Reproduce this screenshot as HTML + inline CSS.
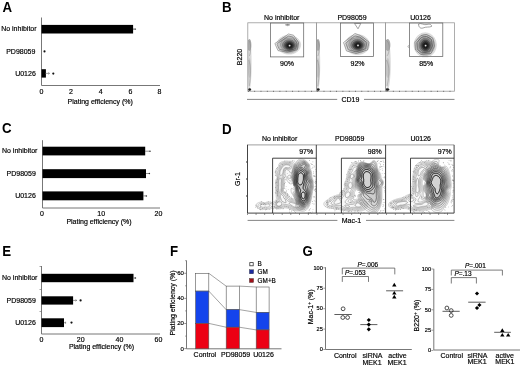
<!DOCTYPE html>
<html><head><meta charset="utf-8">
<style>
html,body{margin:0;padding:0;background:#fff;width:520px;height:365px;overflow:hidden}
svg{display:block;font-family:"Liberation Sans",sans-serif;will-change:transform}
.t{font-size:7px;fill:#000;stroke:#000;stroke-width:0.18px}
.pl{font-size:13.3px;font-weight:bold;fill:#000}
.ax{stroke:#777;stroke-width:1;fill:none}
</style></head><body>
<svg width="520" height="365" viewBox="0 0 520 365">
<defs>
<radialGradient id="gb" cx="50%" cy="50%" r="50%">
<stop offset="0" stop-color="#fff"/>
<stop offset="0.12" stop-color="#222"/>
<stop offset="0.4" stop-color="#333"/>
<stop offset="0.7" stop-color="#999"/>
<stop offset="1" stop-color="#eee" stop-opacity="0"/>
</radialGradient>
<radialGradient id="gd" cx="50%" cy="50%" r="50%">
<stop offset="0" stop-color="#888" stop-opacity="0.75"/>
<stop offset="0.6" stop-color="#999" stop-opacity="0.55"/>
<stop offset="1" stop-color="#ccc" stop-opacity="0"/>
</radialGradient>
<radialGradient id="gl" cx="50%" cy="50%" r="50%">
<stop offset="0" stop-color="#ccc" stop-opacity="0.6"/>
<stop offset="1" stop-color="#ddd" stop-opacity="0"/>
</radialGradient>
<clipPath id="cd1"><rect x="247" y="144.8" width="69.5" height="68.4"/></clipPath>
<clipPath id="cd2"><rect x="316.5" y="144.8" width="69" height="68.4"/></clipPath>
<clipPath id="cd3"><rect x="385.5" y="144.8" width="68.6" height="68.4"/></clipPath>
<clipPath id="cb1"><rect x="247.8" y="22.8" width="68.6" height="68.4"/></clipPath>
<clipPath id="cb2"><rect x="316.4" y="22.8" width="69.1" height="68.4"/></clipPath>
<clipPath id="cb3"><rect x="385.5" y="22.8" width="69" height="68.4"/></clipPath>
</defs>

<!-- ================= Panel A ================= -->
<text class="pl" transform="translate(2.6 11.5) scale(1 1.1)">A</text>
<g class="ax"><path d="M41.5 17.5V85.5H160"/></g>
<rect x="41.5" y="24.9" width="91.6" height="8.6" fill="#000"/>
<path d="M133 29.1H135.3" stroke="#333" stroke-width="0.8"/>
<circle cx="135.4" cy="29.1" r="0.7" fill="#333"/>
<circle cx="44.5" cy="51.4" r="1.05" fill="#111"/>
<rect x="41.5" y="69.2" width="4.4" height="8.4" fill="#000"/>
<path d="M45.5 73.4H49.4M48.4 72.5L49.5 73.4L48.4 74.3" stroke="#777" stroke-width="0.7" fill="none"/>
<circle cx="53.3" cy="73.6" r="1.1" fill="#111"/>
<text class="t" x="36.6" y="31.4" text-anchor="end">No inhibitor</text>
<text class="t" x="35.4" y="53.6" text-anchor="end">PD98059</text>
<text class="t" x="35.8" y="75.8" text-anchor="end">U0126</text>
<g class="t" text-anchor="middle">
<text x="41.5" y="94">0</text><text x="70.9" y="94">2</text><text x="100.7" y="94">4</text><text x="130.5" y="94">6</text><text x="159.4" y="94">8</text>
<text x="100.2" y="103.5">Plating efficiency (%)</text>
</g>

<!-- ================= Panel C ================= -->
<text class="pl" transform="translate(2 133) scale(1 1.1)">C</text>
<g class="ax"><path d="M42.5 140.2V208H160"/></g>
<rect x="42.5" y="146.7" width="102.7" height="8.7" fill="#000"/>
<path d="M145 151.2H149.8" stroke="#666" stroke-width="0.7"/><circle cx="150" cy="151.2" r="0.75" fill="#333"/>
<rect x="42.5" y="169.2" width="103.5" height="8.9" fill="#000"/>
<path d="M146 173.5H149.2" stroke="#666" stroke-width="0.7"/><circle cx="149.4" cy="173.5" r="0.75" fill="#333"/>
<rect x="42.5" y="191.4" width="100.9" height="8.9" fill="#000"/>
<path d="M143 195.9H146.2" stroke="#666" stroke-width="0.7"/><circle cx="146.4" cy="195.9" r="0.75" fill="#333"/>
<text class="t" x="37.4" y="153.3" text-anchor="end">No inhibitor</text>
<text class="t" x="35.8" y="175.7" text-anchor="end">PD98059</text>
<text class="t" x="35.8" y="197.9" text-anchor="end">U0126</text>
<g class="t" text-anchor="middle">
<text x="42" y="216.3">0</text><text x="101.2" y="216.3">10</text><text x="158.4" y="216.3">20</text>
<text x="99" y="223.5">Plating efficiency (%)</text>
</g>

<!-- ================= Panel E ================= -->
<text class="pl" transform="translate(2.3 255.5) scale(1 1.1)">E</text>
<g class="ax"><path d="M41.5 266V334H160"/></g>
<path d="M39.5 266.5H41.5M39.5 289.5H41.5M39.5 311.5H41.5" stroke="#666" stroke-width="0.6"/>
<rect x="41.5" y="273.8" width="92" height="8.4" fill="#000"/>
<path d="M133.5 278H135.6" stroke="#555" stroke-width="0.8"/><circle cx="135.4" cy="278" r="0.8" fill="#333"/>
<rect x="41.5" y="296.3" width="31.6" height="8.3" fill="#000"/>
<path d="M73 300.4H76.6M75.6 299.5L76.7 300.4L75.6 301.3" stroke="#666" stroke-width="0.7" fill="none"/>
<circle cx="80.6" cy="300.4" r="1.1" fill="#111"/>
<rect x="41.5" y="318.3" width="22.5" height="8.8" fill="#000"/>
<path d="M64 322.7H66M65.2 321.9L66.1 322.7L65.2 323.5" stroke="#666" stroke-width="0.7" fill="none"/>
<circle cx="71.5" cy="322.6" r="1.1" fill="#111"/>
<text class="t" x="37.4" y="280.4" text-anchor="end">No inhibitor</text>
<text class="t" x="35.8" y="302.7" text-anchor="end">PD98059</text>
<text class="t" x="35.8" y="324.7" text-anchor="end">U0126</text>
<g class="t" text-anchor="middle">
<text x="41.5" y="342.2">0</text><text x="80.7" y="342.2">20</text><text x="119.4" y="342.2">40</text><text x="158.5" y="342.2">60</text>
<text x="101.5" y="349.4">Plating efficiency (%)</text>
</g>

<!-- ================= Panel F ================= -->
<text class="pl" transform="translate(169.9 256) scale(1 1.1)">F</text>
<g class="ax"><path d="M186.5 260.5V348.8H281.5"/></g>
<path d="M184.3 348.6H186.5M185.2 336.1H186.5M184.3 323.5H186.5M185.2 310.9H186.5M184.3 298.4H186.5M185.2 285.8H186.5M184.3 273.3H186.5M185.2 260.7H186.5" stroke="#666" stroke-width="0.7"/>
<g class="t" text-anchor="end" style="font-size:6px">
<text x="183.9" y="350.6">0</text>
<text x="183.9" y="325.4">20</text>
<text x="183.9" y="300.3">40</text>
<text x="183.9" y="275.2">60</text>
</g>
<text class="t" transform="translate(174.6 303) rotate(-90)" text-anchor="middle">Plating efficiency (%)</text>
<!-- connecting lines -->
<g stroke="#666" stroke-width="0.6" fill="none">
<path d="M208.8 273.3L226.1 286.1M239.2 286.1L256.2 287"/>
<path d="M208.8 291.1L226.1 309.6M239.2 309.6L256.2 312.4"/>
<path d="M208.8 323.4L226.1 327.2M239.2 327.2L256.2 329.9"/>
</g>
<!-- bars -->
<g stroke="#555" stroke-width="0.6">
<rect x="195.6" y="273.3" width="13.2" height="17.8" fill="#fff"/>
<rect x="195.6" y="291.1" width="13.2" height="32.3" fill="#1444ec"/>
<rect x="195.6" y="323.4" width="13.2" height="25.4" fill="#ec0014"/>
<rect x="226.2" y="286.1" width="13.2" height="23.5" fill="#fff"/>
<rect x="226.2" y="309.6" width="13.2" height="17.6" fill="#1444ec"/>
<rect x="226.2" y="327.2" width="13.2" height="21.6" fill="#ec0014"/>
<rect x="256.2" y="287" width="12.9" height="25.4" fill="#fff"/>
<rect x="256.2" y="312.4" width="12.9" height="17.5" fill="#1444ec"/>
<rect x="256.2" y="329.9" width="12.9" height="18.9" fill="#ec0014"/>
</g>
<!-- legend -->
<rect x="249.8" y="262.6" width="3.4" height="3.2" fill="#fff" stroke="#333" stroke-width="0.8"/>
<rect x="249.4" y="269.8" width="4.2" height="4" fill="#1c2aa0" stroke="#333" stroke-width="0.4"/>
<rect x="249.4" y="278.5" width="4.2" height="4" fill="#a01018" stroke="#333" stroke-width="0.4"/>
<g class="t" style="font-size:6.4px">
<text x="257.6" y="266.3">B</text>
<text x="257.6" y="274.3">GM</text>
<text x="257.6" y="282.8">GM+B</text>
</g>
<g class="t" text-anchor="middle">
<text x="204.9" y="357.3">Control</text>
<text x="235.6" y="357.3">PD98059</text>
<text x="263.5" y="357.3">U0126</text>
</g>

<!-- ================= Panel G ================= -->
<text class="pl" transform="translate(302.5 255.8) scale(1 1.1)">G</text>
<!-- left plot -->
<g class="ax"><path d="M325.5 267.2V349.5H411.8"/></g>
<path d="M323.3 267.8H325.5M323.3 288.2H325.5M323.3 308.7H325.5M323.3 329.1H325.5M323.3 349.5H325.5" stroke="#777" stroke-width="0.7"/>
<g class="t" text-anchor="end" style="font-size:5.6px">
<text x="322.8" y="269.5">100</text><text x="322.8" y="289.8">75</text><text x="322.8" y="310.3">50</text><text x="322.8" y="330.7">25</text><text x="322.8" y="351.1">0</text>
</g>
<text class="t" transform="translate(313 306.8) rotate(-90)" text-anchor="middle">Mac-1<tspan dy="-2.2" style="font-size:4.5px">+</tspan><tspan dy="2.2"> (%)</tspan></text>
<g stroke="#444" stroke-width="0.7" fill="none">
<path d="M342.3 274.4V268.1H394.8V274.4"/>
<path d="M342.3 281.9V276.5H368.5V281.9"/>
</g>
<text class="t" style="font-size:6.5px" x="357.4" y="266.9"><tspan font-style="italic">P</tspan>=.006</text>
<text class="t" style="font-size:6.5px" x="344.9" y="274.8"><tspan font-style="italic">P</tspan>=.053</text>
<!-- data -->
<path d="M334.4 314.5H351.8M360.3 324.6H377.4M386.1 290.8H403.1" stroke="#333" stroke-width="0.8"/>
<g fill="none" stroke="#222" stroke-width="0.8">
<circle cx="343.1" cy="308.8" r="1.9"/><circle cx="342.8" cy="317.5" r="1.9"/><circle cx="347.6" cy="317.5" r="1.9"/>
</g>
<g fill="#000">
<path d="M368.8 317.9l2.1 2.1-2.1 2.1-2.1-2.1z"/><path d="M368.8 322.5l2.1 2.1-2.1 2.1-2.1-2.1z"/><path d="M368.8 327.2l2.1 2.1-2.1 2.1-2.1-2.1z"/>
<path d="M394.3 282.8l2.2 3.7h-4.4z"/><path d="M394.3 290.9l2.2 3.7h-4.4z"/><path d="M394.3 294.7l2.2 3.7h-4.4z"/>
</g>
<g class="t" text-anchor="middle">
<text x="345.2" y="358.2">Control</text>
<text x="372.5" y="358.2">siRNA</text><text x="372" y="364.6">MEK1</text>
<text x="397.4" y="358.2">active</text><text x="397" y="364.6">MEK1</text>
</g>
<!-- right plot -->
<g class="ax"><path d="M433.8 268.8V350H520"/></g>
<path d="M431.3 269H433.5M431.3 289.4H433.5M431.3 309.8H433.5M431.3 330.2H433.5M431.3 350.5H433.5" stroke="#777" stroke-width="0.7"/>
<g class="t" text-anchor="end" style="font-size:5.6px">
<text x="431" y="270.8">100</text><text x="431" y="291.1">75</text><text x="431" y="311.5">50</text><text x="431" y="331.9">25</text><text x="431" y="352.3">0</text>
</g>
<text class="t" transform="translate(419.4 315.5) rotate(-90)" text-anchor="middle">B220<tspan dy="-2.2" style="font-size:4.5px">+</tspan><tspan dy="2.2"> (%)</tspan></text>
<g stroke="#444" stroke-width="0.7" fill="none">
<path d="M451.3 275.5V270.1H502.4V275.5"/>
<path d="M451.3 283.5V277.6H476.4V283.5"/>
</g>
<text class="t" style="font-size:6.5px" x="465" y="268.3"><tspan font-style="italic">P</tspan>=.001</text>
<text class="t" style="font-size:6.5px" x="454.4" y="275.8"><tspan font-style="italic">P</tspan>=.13</text>
<path d="M442.5 311.3H459.7M468.2 302.2H485.6M494.2 332.3H510.9" stroke="#333" stroke-width="0.8"/>
<g fill="none" stroke="#222" stroke-width="0.8">
<circle cx="446.9" cy="308" r="1.9"/><circle cx="451.2" cy="310.6" r="1.9"/><circle cx="451.2" cy="315.4" r="1.9"/>
</g>
<g fill="#000">
<path d="M477 291.4l2.1 2.1-2.1 2.1-2.1-2.1z"/><path d="M479.4 302.9l2.1 2.1-2.1 2.1-2.1-2.1z"/><path d="M477 305.9l2.1 2.1-2.1 2.1-2.1-2.1z"/>
<path d="M502.3 328.3l2.2 3.7h-4.4z"/><path d="M502.3 332.9l2.2 3.7h-4.4z"/><path d="M508.2 332.9l2.2 3.7h-4.4z"/>
</g>
<g class="t" text-anchor="middle">
<text x="451.8" y="357.6">Control</text>
<text x="477.5" y="357.6">siRNA</text><text x="477" y="364.2">MEK1</text>
<text x="504.7" y="357.6">active</text><text x="504.9" y="364.2">MEK1</text>
</g>

<!-- ================= Panel B ================= -->
<text class="pl" transform="translate(221.9 11.6) scale(1 1.1)">B</text>
<g class="t" text-anchor="middle">
<text x="281.7" y="19.9">No inhibitor</text>
<text x="352" y="19.9">PD98059</text>
<text x="420.6" y="19.9">U0126</text>
<text x="287" y="66">90%</text>
<text x="357.5" y="66">92%</text>
<text x="426.2" y="66">85%</text>
<text x="350.4" y="102.2">CD19</text>
<text transform="translate(242.3 57) rotate(-90)">B220</text>
</g>
<path d="M247 99.4H337.2M364 99.4H454.5" stroke="#777" stroke-width="0.9"/>
<g clip-path="url(#cb1)">
<ellipse cx="249.4" cy="64" rx="2.2" ry="25" fill="#d8d8d8"/>
<ellipse cx="249.4" cy="45" rx="2.0" ry="6" fill="#aaa"/>
<ellipse cx="249.4" cy="68" rx="1.6" ry="10" fill="#c4c4c4"/>
<path fill="none" stroke="#888" stroke-width="0.45" d="M248.3 40C251.3 42 251.3 52 249.3 56M248.8 60C251.0 66 250.8 76 249.3 86"/>
<ellipse cx="249.6" cy="89.6" rx="1.5" ry="1.3" fill="#222"/>
</g>
<g clip-path="url(#cb2)">
<ellipse cx="318.0" cy="64" rx="2.2" ry="25" fill="#d8d8d8"/>
<ellipse cx="318.0" cy="45" rx="2.0" ry="6" fill="#aaa"/>
<ellipse cx="318.0" cy="68" rx="1.6" ry="10" fill="#c4c4c4"/>
<path fill="none" stroke="#888" stroke-width="0.45" d="M316.9 40C319.9 42 319.9 52 317.9 56M317.4 60C319.6 66 319.4 76 317.9 86"/>
<ellipse cx="318.2" cy="89.6" rx="1.5" ry="1.3" fill="#222"/>
</g>
<g clip-path="url(#cb3)">
<ellipse cx="387.7" cy="64" rx="3.0" ry="25" fill="#d8d8d8"/>
<ellipse cx="387.7" cy="45" rx="2.7" ry="6" fill="#aaa"/>
<ellipse cx="387.7" cy="68" rx="2.2" ry="10" fill="#c4c4c4"/>
<path fill="none" stroke="#888" stroke-width="0.45" d="M386.0 40C390.2 42 390.2 52 387.0 56M386.5 60C389.8 66 389.6 76 387.0 86"/>
<ellipse cx="387.3" cy="89.6" rx="2.0" ry="1.3" fill="#222"/>
</g>
<!-- boxes -->
<g fill="none" stroke="#999" stroke-width="0.8">
<rect x="247.8" y="22.8" width="68.6" height="68.4"/>
<rect x="316.4" y="22.8" width="69.1" height="68.4"/>
<rect x="385.5" y="22.8" width="69" height="68.4"/>
</g>
<path d="M248 91.3H454.5" stroke="#444" stroke-width="0.9" stroke-dasharray="0.8 5.5"/>
<g fill="none" stroke="#666" stroke-width="0.75">
<rect x="270.6" y="23" width="33.1" height="33.9"/>
<rect x="340.5" y="23" width="33.1" height="33.6"/>
<rect x="409.5" y="23" width="33.3" height="33.6"/>
</g>
<g fill="none" stroke="#555" stroke-width="0.5"><path d="M274.9 43.5L288.5 34L293.5 35.2L298.6 42.5L297.2 49.8L287 52.2L278 50.6Z"/><path d="M276.8 43.8L288.6 36L292.8 37L297 43L295.8 48.8L287 50.8L279.4 49.4Z"/></g>
<g><path fill="#000" stroke="#999999" stroke-width="0.30" fill-opacity="0.10" d="M291.0 54.0 290.5 54.1 290.0 54.1 289.5 54.1 289.0 54.2 288.5 54.1 288.0 54.1 287.5 54.1 287.0 54.0 286.8 54.0 286.2 53.9 285.8 53.8 285.5 53.7 285.0 53.6 284.7 53.5 284.2 53.3 284.0 53.2 283.5 53.1 283.2 52.9 282.8 52.8 282.5 52.6 282.2 52.5 281.9 52.2 281.5 52.0 281.2 51.8 281.0 51.7 280.8 51.5 280.5 51.2 280.2 51.0 279.9 50.8 279.6 50.5 279.4 50.2 279.2 50.0 279.0 49.8 278.8 49.5 278.5 49.1 278.3 48.8 278.1 48.5 278.0 48.2 277.8 47.8 277.6 47.5 277.5 47.2 277.3 46.8 277.2 46.4 277.2 46.0 277.1 45.5 277.0 45.0 277.0 44.5 277.0 44.0 277.1 43.5 277.2 43.0 277.2 42.6 277.4 42.2 277.5 41.8 277.6 41.5 277.8 41.2 278.0 40.8 278.2 40.5 278.3 40.2 278.5 40.0 278.8 39.6 279.0 39.3 279.2 39.0 279.5 38.8 279.8 38.5 280.0 38.3 280.2 38.1 280.5 37.9 280.8 37.7 281.1 37.5 281.4 37.2 281.8 37.1 282.0 36.9 282.3 36.8 282.8 36.6 283.0 36.4 283.5 36.2 283.8 36.1 284.2 36.0 284.5 35.9 285.0 35.8 285.2 35.7 285.8 35.6 286.2 35.5 286.5 35.5 287.0 35.4 287.5 35.4 288.0 35.3 288.5 35.3 289.0 35.3 289.5 35.3 290.0 35.4 290.5 35.4 290.9 35.5 291.2 35.6 291.8 35.7 292.1 35.8 292.5 35.8 293.0 36.0 293.2 36.1 293.7 36.2 294.0 36.4 294.3 36.5 294.8 36.7 295.0 36.8 295.4 37.0 295.8 37.2 296.0 37.4 296.2 37.5 296.6 37.8 296.9 38.0 297.2 38.2 297.5 38.5 297.8 38.7 298.0 39.0 298.2 39.2 298.5 39.5 298.7 39.8 298.9 40.0 299.1 40.2 299.2 40.5 299.5 40.9 299.7 41.2 299.8 41.5 300.0 41.9 300.1 42.2 300.2 42.6 300.4 43.0 300.5 43.5 300.5 43.8 300.6 44.2 300.6 44.8 300.6 45.2 300.5 45.8 300.5 46.0 300.4 46.5 300.3 47.0 300.2 47.2 300.0 47.8 299.9 48.0 299.8 48.3 299.5 48.8 299.4 49.0 299.2 49.2 299.0 49.6 298.8 49.9 298.5 50.2 298.2 50.5 298.0 50.7 297.8 51.0 297.5 51.2 297.2 51.4 297.0 51.6 296.8 51.8 296.4 52.0 296.0 52.2 295.8 52.4 295.5 52.6 295.1 52.8 294.8 52.9 294.5 53.0 294.0 53.2 293.8 53.3 293.3 53.5 293.0 53.6 292.5 53.7 292.2 53.8 291.8 53.9 291.2 54.0 291.0 54.0Z"/>
<path fill="#000" stroke="#828282" stroke-width="0.35" fill-opacity="0.12" d="M291.5 52.8 291.0 52.9 290.5 52.9 290.0 53.0 289.5 53.0 289.0 53.0 288.5 53.0 288.0 53.0 287.5 52.9 287.0 52.8 286.6 52.8 286.2 52.7 285.8 52.6 285.5 52.5 285.0 52.3 284.8 52.2 284.2 52.0 284.0 51.9 283.6 51.8 283.2 51.6 283.0 51.4 282.7 51.2 282.3 51.0 282.0 50.8 281.8 50.6 281.5 50.4 281.2 50.1 281.0 49.9 280.8 49.6 280.5 49.4 280.2 49.1 280.0 48.8 279.8 48.5 279.7 48.2 279.5 47.9 279.3 47.5 279.2 47.2 279.0 46.8 278.9 46.5 278.8 46.0 278.7 45.8 278.7 45.2 278.7 44.8 278.7 44.2 278.7 43.8 278.8 43.5 278.9 43.0 279.0 42.5 279.1 42.2 279.2 41.9 279.4 41.5 279.6 41.2 279.8 41.0 280.0 40.6 280.2 40.3 280.5 40.0 280.7 39.8 281.0 39.5 281.2 39.2 281.5 39.0 281.8 38.8 282.0 38.7 282.2 38.5 282.6 38.2 283.0 38.0 283.2 37.9 283.6 37.8 284.0 37.5 284.2 37.4 284.8 37.3 285.0 37.2 285.5 37.0 285.8 37.0 286.2 36.9 286.8 36.8 287.0 36.7 287.5 36.7 288.0 36.6 288.5 36.6 289.0 36.6 289.5 36.7 290.0 36.7 290.4 36.8 290.8 36.8 291.2 36.9 291.8 37.0 292.0 37.1 292.5 37.2 292.8 37.3 293.2 37.5 293.5 37.6 293.9 37.8 294.2 37.9 294.5 38.0 294.9 38.2 295.2 38.5 295.5 38.7 295.8 38.8 296.0 39.0 296.3 39.2 296.6 39.5 296.8 39.8 297.1 40.0 297.3 40.2 297.5 40.5 297.8 40.8 298.0 41.2 298.2 41.5 298.3 41.8 298.5 42.1 298.7 42.5 298.8 42.8 298.9 43.2 299.0 43.7 299.0 44.0 299.1 44.5 299.1 45.0 299.1 45.5 299.0 46.0 299.0 46.2 298.9 46.8 298.8 47.1 298.6 47.5 298.5 47.8 298.2 48.2 298.1 48.5 297.9 48.8 297.7 49.0 297.5 49.3 297.2 49.6 297.0 49.9 296.8 50.1 296.5 50.4 296.2 50.6 296.0 50.8 295.7 51.0 295.3 51.2 295.0 51.4 294.8 51.6 294.4 51.8 294.0 52.0 293.8 52.1 293.3 52.2 293.0 52.4 292.6 52.5 292.2 52.6 291.8 52.7 291.5 52.8Z"/>
<path fill="#000" stroke="#6b6b6b" stroke-width="0.40" fill-opacity="0.16" d="M290.0 51.8 289.5 51.8 289.0 51.8 288.5 51.8 288.2 51.7 287.8 51.7 287.2 51.6 286.8 51.5 286.5 51.4 286.0 51.3 285.8 51.2 285.3 51.0 285.0 50.9 284.7 50.8 284.2 50.5 284.0 50.4 283.8 50.2 283.5 50.0 283.1 49.8 282.8 49.5 282.5 49.2 282.3 49.0 282.1 48.8 281.9 48.5 281.7 48.2 281.5 48.0 281.2 47.6 281.1 47.2 281.0 47.0 280.8 46.5 280.7 46.2 280.6 45.8 280.5 45.2 280.5 44.8 280.5 44.2 280.6 43.8 280.7 43.2 280.8 43.0 281.0 42.5 281.1 42.2 281.2 42.0 281.5 41.6 281.7 41.2 282.0 41.0 282.2 40.8 282.4 40.5 282.7 40.2 283.0 40.0 283.2 39.8 283.5 39.6 283.8 39.5 284.2 39.2 284.5 39.1 284.8 39.0 285.2 38.8 285.5 38.7 286.0 38.5 286.2 38.4 286.8 38.3 287.1 38.2 287.5 38.2 288.0 38.1 288.5 38.1 289.0 38.1 289.5 38.1 290.0 38.2 290.5 38.2 290.8 38.3 291.2 38.4 291.7 38.5 292.0 38.6 292.5 38.8 292.8 38.9 293.1 39.0 293.5 39.2 293.8 39.3 294.0 39.5 294.4 39.8 294.8 40.0 295.0 40.2 295.2 40.4 295.5 40.6 295.8 40.9 296.0 41.2 296.2 41.5 296.5 41.8 296.6 42.0 296.8 42.2 297.0 42.7 297.1 43.0 297.2 43.4 297.3 43.8 297.4 44.2 297.5 44.8 297.5 45.2 297.4 45.8 297.4 46.2 297.2 46.7 297.1 47.0 297.0 47.3 296.8 47.8 296.7 48.0 296.5 48.2 296.2 48.6 296.0 48.9 295.8 49.2 295.5 49.4 295.2 49.7 295.0 49.9 294.8 50.1 294.5 50.2 294.1 50.5 293.8 50.7 293.5 50.8 293.1 51.0 292.8 51.1 292.5 51.2 292.0 51.4 291.6 51.5 291.2 51.6 290.8 51.7 290.2 51.7 290.0 51.8Z"/>
<path fill="#000" stroke="#545454" stroke-width="0.45" fill-opacity="0.22" d="M290.8 50.5 290.2 50.6 289.8 50.7 289.2 50.7 288.8 50.6 288.2 50.6 287.8 50.5 287.5 50.4 287.0 50.3 286.8 50.2 286.2 50.0 286.0 49.9 285.7 49.8 285.2 49.5 285.0 49.3 284.8 49.2 284.5 49.0 284.2 48.7 284.0 48.5 283.8 48.2 283.5 47.9 283.2 47.5 283.1 47.2 283.0 47.0 282.8 46.5 282.7 46.2 282.6 45.8 282.5 45.2 282.5 44.8 282.6 44.2 282.7 43.8 282.8 43.5 283.0 43.0 283.1 42.8 283.3 42.5 283.5 42.2 283.8 41.9 284.0 41.6 284.2 41.4 284.5 41.2 284.8 41.0 285.2 40.8 285.5 40.6 285.8 40.4 286.2 40.2 286.5 40.1 287.0 40.0 287.2 39.9 287.8 39.8 288.2 39.8 288.5 39.7 289.0 39.7 289.5 39.7 289.9 39.8 290.2 39.8 290.8 39.9 291.2 40.0 291.5 40.1 292.0 40.2 292.2 40.3 292.6 40.5 293.0 40.7 293.2 40.9 293.5 41.0 293.8 41.2 294.1 41.5 294.4 41.8 294.6 42.0 294.8 42.2 295.0 42.5 295.2 42.8 295.5 43.2 295.6 43.5 295.8 44.0 295.8 44.2 295.9 44.8 295.9 45.2 295.9 45.8 295.8 46.2 295.8 46.5 295.6 47.0 295.5 47.2 295.2 47.7 295.0 48.0 294.8 48.2 294.6 48.5 294.4 48.8 294.1 49.0 293.8 49.2 293.5 49.5 293.2 49.6 293.0 49.8 292.5 50.0 292.2 50.1 291.9 50.2 291.5 50.4 291.0 50.5 290.8 50.5Z"/>
<path fill="#000" stroke="#3d3d3d" stroke-width="0.50" fill-opacity="0.30" d="M290.8 49.6 290.2 49.6 289.8 49.7 289.2 49.7 288.8 49.6 288.2 49.6 288.0 49.5 287.5 49.4 287.2 49.2 286.8 49.0 286.5 48.9 286.2 48.8 285.9 48.5 285.6 48.2 285.3 48.0 285.1 47.8 284.9 47.5 284.8 47.2 284.5 46.8 284.4 46.5 284.3 46.0 284.2 45.8 284.2 45.2 284.2 44.9 284.3 44.5 284.5 44.0 284.6 43.8 284.8 43.4 285.0 43.1 285.2 42.8 285.5 42.5 285.8 42.3 286.0 42.1 286.2 42.0 286.6 41.8 287.0 41.6 287.2 41.5 287.8 41.3 288.0 41.2 288.5 41.2 289.0 41.1 289.5 41.1 290.0 41.1 290.5 41.2 290.8 41.2 291.2 41.4 291.6 41.5 292.0 41.7 292.2 41.8 292.6 42.0 292.9 42.2 293.2 42.5 293.5 42.7 293.7 43.0 293.9 43.2 294.1 43.5 294.2 43.8 294.4 44.2 294.5 44.5 294.6 45.0 294.6 45.5 294.6 46.0 294.5 46.4 294.4 46.8 294.2 47.0 294.0 47.5 293.8 47.8 293.6 48.0 293.3 48.2 293.0 48.5 292.8 48.7 292.5 48.9 292.2 49.0 291.8 49.2 291.5 49.3 291.0 49.5 290.8 49.6Z"/>
<path fill="#000" stroke="#262626" stroke-width="0.55" fill-opacity="0.38" d="M291.0 48.5 290.5 48.6 290.0 48.7 289.5 48.7 289.0 48.7 288.5 48.6 288.0 48.5 287.8 48.4 287.4 48.2 287.0 48.0 286.8 47.8 286.5 47.6 286.2 47.3 286.0 47.0 285.9 46.8 285.8 46.4 285.6 46.0 285.6 45.5 285.6 45.0 285.8 44.5 285.9 44.2 286.0 44.0 286.2 43.7 286.5 43.4 286.8 43.2 287.0 43.0 287.4 42.8 287.8 42.6 288.0 42.5 288.5 42.3 289.0 42.3 289.2 42.2 289.8 42.2 290.0 42.3 290.5 42.3 291.0 42.5 291.2 42.6 291.6 42.8 292.0 43.0 292.2 43.2 292.5 43.4 292.8 43.7 293.0 44.0 293.1 44.2 293.2 44.5 293.4 45.0 293.4 45.5 293.4 46.0 293.2 46.5 293.1 46.8 293.0 47.0 292.8 47.3 292.5 47.6 292.2 47.8 292.0 48.0 291.6 48.2 291.2 48.4 291.0 48.5Z"/>
<path fill="#000" stroke="#101010" stroke-width="0.60" fill-opacity="0.45" d="M290.5 47.5 290.0 47.6 289.5 47.7 289.0 47.6 288.6 47.5 288.2 47.4 288.0 47.2 287.7 47.0 287.4 46.8 287.2 46.5 287.0 46.0 287.0 45.8 287.0 45.3 287.1 45.0 287.2 44.6 287.5 44.2 287.8 44.0 288.0 43.8 288.2 43.7 288.8 43.5 289.0 43.5 289.5 43.4 290.0 43.4 290.3 43.5 290.8 43.7 291.0 43.8 291.3 44.0 291.6 44.2 291.8 44.5 292.0 44.9 292.1 45.2 292.1 45.8 292.0 46.2 291.8 46.5 291.7 46.8 291.4 47.0 291.1 47.2 290.8 47.4 290.5 47.5Z"/></g>
<circle cx="289.6" cy="45.6" r="0.9" fill="#fff" fill-opacity="0.9"/>
<g fill="none" stroke="#555" stroke-width="0.5"><path d="M343.6 42.5L355 33.5L360.5 35.5L369 42L367.5 50L356 53.5L346.5 51Z"/><path d="M345.8 43L355 35.8L360 37.2L366.8 42.5L365.8 48.8L356 51.8L348.2 49.8Z"/></g>
<g><path fill="#000" stroke="#999999" stroke-width="0.30" fill-opacity="0.10" d="M358.0 54.5 357.5 54.5 357.0 54.5 356.7 54.5 356.2 54.5 355.8 54.4 355.2 54.4 354.8 54.3 354.5 54.2 354.0 54.1 353.5 54.0 353.2 53.9 352.8 53.8 352.5 53.7 352.0 53.5 351.8 53.4 351.5 53.2 351.0 53.0 350.8 52.9 350.5 52.8 350.1 52.5 349.8 52.3 349.5 52.1 349.2 52.0 349.0 51.8 348.7 51.5 348.4 51.2 348.1 51.0 347.8 50.8 347.6 50.5 347.4 50.2 347.2 50.0 347.0 49.8 346.8 49.4 346.5 49.0 346.3 48.8 346.2 48.5 346.0 48.1 345.8 47.8 345.7 47.5 345.5 47.0 345.5 46.8 345.3 46.2 345.2 45.8 345.2 45.5 345.1 45.0 345.1 44.5 345.1 44.0 345.2 43.5 345.2 43.1 345.3 42.8 345.4 42.2 345.5 42.0 345.7 41.5 345.8 41.2 346.0 40.8 346.1 40.5 346.3 40.2 346.5 39.9 346.8 39.5 346.9 39.2 347.1 39.0 347.3 38.8 347.6 38.5 347.8 38.2 348.1 38.0 348.3 37.8 348.6 37.5 348.9 37.2 349.2 37.0 349.5 36.9 349.8 36.7 350.1 36.5 350.5 36.3 350.8 36.1 351.0 36.0 351.5 35.8 351.8 35.7 352.2 35.5 352.5 35.4 352.9 35.2 353.2 35.1 353.8 35.0 354.0 35.0 354.5 34.9 355.0 34.8 355.2 34.7 355.8 34.7 356.2 34.6 356.8 34.6 357.2 34.6 357.8 34.6 358.2 34.7 358.8 34.7 359.2 34.8 359.5 34.8 360.0 34.9 360.5 35.0 360.8 35.1 361.2 35.2 361.5 35.3 362.0 35.4 362.2 35.5 362.8 35.7 363.0 35.8 363.4 36.0 363.8 36.2 364.0 36.3 364.3 36.5 364.7 36.8 365.0 36.9 365.2 37.1 365.5 37.3 365.8 37.5 366.1 37.8 366.4 38.0 366.6 38.2 366.9 38.5 367.1 38.8 367.3 39.0 367.5 39.2 367.8 39.6 368.0 39.9 368.2 40.2 368.3 40.5 368.5 40.8 368.7 41.2 368.8 41.5 369.0 42.0 369.1 42.2 369.2 42.8 369.3 43.0 369.3 43.5 369.4 44.0 369.4 44.5 369.4 45.0 369.4 45.5 369.3 46.0 369.2 46.3 369.1 46.8 369.0 47.2 368.9 47.5 368.8 47.9 368.6 48.2 368.5 48.5 368.2 48.9 368.0 49.2 367.9 49.5 367.7 49.8 367.5 50.0 367.2 50.3 367.0 50.6 366.8 50.9 366.5 51.1 366.2 51.3 366.0 51.5 365.8 51.8 365.4 52.0 365.1 52.2 364.8 52.5 364.5 52.6 364.2 52.8 363.8 53.0 363.5 53.2 363.2 53.3 362.8 53.5 362.5 53.6 362.1 53.8 361.8 53.9 361.2 54.0 361.0 54.1 360.5 54.2 360.2 54.2 359.8 54.3 359.2 54.4 358.8 54.5 358.2 54.5 358.0 54.5Z"/>
<path fill="#000" stroke="#828282" stroke-width="0.35" fill-opacity="0.12" d="M358.0 53.3 357.5 53.3 357.0 53.3 356.7 53.2 356.2 53.2 355.8 53.2 355.2 53.1 354.8 53.0 354.5 52.9 354.0 52.8 353.8 52.7 353.2 52.6 353.0 52.5 352.5 52.3 352.2 52.2 351.9 52.0 351.5 51.8 351.2 51.6 351.0 51.5 350.7 51.2 350.3 51.0 350.0 50.8 349.8 50.6 349.5 50.3 349.2 50.1 349.0 49.8 348.8 49.6 348.5 49.3 348.3 49.0 348.1 48.8 348.0 48.5 347.8 48.1 347.6 47.8 347.4 47.5 347.2 47.0 347.2 46.8 347.0 46.2 347.0 46.0 346.9 45.5 346.8 45.0 346.8 44.5 346.8 44.0 346.9 43.5 347.0 43.0 347.0 42.8 347.2 42.2 347.3 42.0 347.5 41.5 347.6 41.2 347.8 41.0 348.0 40.6 348.2 40.2 348.4 40.0 348.6 39.8 348.8 39.5 349.1 39.2 349.3 39.0 349.6 38.8 349.9 38.5 350.2 38.2 350.5 38.0 350.8 37.9 351.0 37.7 351.4 37.5 351.8 37.3 352.0 37.2 352.4 37.0 352.8 36.8 353.0 36.7 353.5 36.6 353.8 36.5 354.2 36.4 354.8 36.3 355.0 36.2 355.5 36.1 356.0 36.1 356.5 36.0 357.0 36.0 357.5 36.0 358.0 36.0 358.5 36.1 359.0 36.1 359.5 36.2 359.8 36.3 360.2 36.4 360.8 36.5 361.0 36.6 361.5 36.7 361.8 36.8 362.2 37.0 362.5 37.1 362.8 37.3 363.2 37.5 363.5 37.7 363.8 37.8 364.0 38.0 364.4 38.2 364.7 38.5 365.0 38.8 365.2 39.0 365.5 39.2 365.7 39.5 366.0 39.8 366.2 40.0 366.4 40.2 366.5 40.5 366.8 40.8 367.0 41.2 367.1 41.5 367.2 41.8 367.4 42.2 367.5 42.5 367.7 43.0 367.8 43.4 367.8 43.8 367.8 44.2 367.9 44.8 367.8 45.2 367.8 45.8 367.7 46.0 367.6 46.5 367.5 46.9 367.4 47.2 367.2 47.6 367.1 48.0 366.9 48.2 366.8 48.6 366.5 48.9 366.3 49.2 366.1 49.5 365.9 49.8 365.6 50.0 365.4 50.2 365.1 50.5 364.8 50.8 364.5 51.0 364.2 51.2 364.0 51.4 363.8 51.5 363.4 51.8 363.0 52.0 362.8 52.1 362.4 52.2 362.0 52.4 361.8 52.5 361.2 52.7 361.0 52.8 360.5 52.9 360.1 53.0 359.8 53.1 359.2 53.1 358.8 53.2 358.2 53.2 358.0 53.3Z"/>
<path fill="#000" stroke="#6b6b6b" stroke-width="0.40" fill-opacity="0.16" d="M359.2 51.8 358.8 51.9 358.2 51.9 357.8 51.9 357.2 51.9 356.8 51.9 356.2 51.8 355.8 51.8 355.5 51.7 355.0 51.6 354.6 51.5 354.2 51.4 353.9 51.2 353.5 51.1 353.2 51.0 352.8 50.8 352.5 50.6 352.2 50.5 351.9 50.2 351.6 50.0 351.3 49.8 351.0 49.5 350.8 49.3 350.5 49.0 350.3 48.8 350.1 48.5 349.9 48.2 349.7 48.0 349.5 47.6 349.3 47.2 349.2 47.0 349.0 46.5 348.9 46.2 348.8 45.8 348.8 45.4 348.7 45.0 348.7 44.5 348.7 44.0 348.8 43.8 348.9 43.2 349.0 42.8 349.1 42.5 349.2 42.2 349.5 41.8 349.6 41.5 349.8 41.2 350.0 40.9 350.2 40.6 350.5 40.3 350.8 40.1 351.0 39.8 351.2 39.6 351.5 39.4 351.8 39.2 352.1 39.0 352.5 38.8 352.8 38.7 353.1 38.5 353.5 38.3 353.8 38.2 354.2 38.0 354.5 38.0 355.0 37.8 355.5 37.8 355.8 37.7 356.2 37.6 356.8 37.6 357.2 37.6 357.8 37.6 358.2 37.6 358.8 37.7 359.2 37.8 359.5 37.8 360.0 37.9 360.3 38.0 360.8 38.1 361.0 38.2 361.5 38.4 361.8 38.6 362.1 38.8 362.5 39.0 362.8 39.1 363.0 39.3 363.3 39.5 363.6 39.8 363.9 40.0 364.2 40.2 364.4 40.5 364.6 40.8 364.8 41.0 365.0 41.3 365.2 41.7 365.4 42.0 365.6 42.2 365.8 42.7 365.9 43.0 366.0 43.5 366.0 43.8 366.1 44.2 366.1 44.8 366.1 45.2 366.1 45.8 366.0 46.1 365.9 46.5 365.8 46.9 365.6 47.2 365.5 47.5 365.2 48.0 365.1 48.2 364.9 48.5 364.7 48.8 364.5 49.0 364.2 49.3 364.0 49.5 363.7 49.8 363.4 50.0 363.1 50.2 362.8 50.5 362.5 50.6 362.2 50.8 361.8 51.0 361.5 51.1 361.2 51.2 360.8 51.4 360.5 51.5 360.0 51.6 359.5 51.7 359.2 51.8Z"/>
<path fill="#000" stroke="#545454" stroke-width="0.45" fill-opacity="0.22" d="M359.2 50.5 358.8 50.6 358.2 50.6 357.8 50.6 357.2 50.6 356.8 50.6 356.2 50.5 356.0 50.5 355.5 50.3 355.2 50.2 354.8 50.1 354.5 50.0 354.0 49.8 353.8 49.6 353.5 49.4 353.2 49.2 352.9 49.0 352.6 48.8 352.3 48.5 352.1 48.2 351.9 48.0 351.7 47.8 351.5 47.4 351.3 47.0 351.2 46.8 351.0 46.3 350.9 46.0 350.8 45.5 350.8 45.0 350.8 44.5 350.9 44.0 351.0 43.5 351.1 43.2 351.2 42.9 351.4 42.5 351.6 42.2 351.8 42.0 352.0 41.7 352.2 41.4 352.5 41.2 352.8 40.9 353.0 40.8 353.4 40.5 353.8 40.3 354.0 40.1 354.3 40.0 354.8 39.8 355.0 39.7 355.5 39.6 355.8 39.5 356.2 39.4 356.8 39.4 357.2 39.3 357.8 39.3 358.2 39.4 358.8 39.4 359.2 39.5 359.5 39.6 360.0 39.7 360.2 39.8 360.8 40.0 361.0 40.1 361.3 40.2 361.7 40.5 362.0 40.7 362.2 40.9 362.5 41.1 362.8 41.3 363.0 41.5 363.2 41.8 363.5 42.2 363.7 42.5 363.9 42.8 364.0 43.0 364.2 43.5 364.3 43.8 364.4 44.2 364.5 44.8 364.5 45.2 364.4 45.8 364.3 46.2 364.2 46.5 364.0 47.0 363.9 47.2 363.8 47.6 363.5 47.9 363.3 48.2 363.0 48.5 362.8 48.8 362.5 49.0 362.2 49.2 362.0 49.4 361.8 49.5 361.4 49.8 361.0 49.9 360.8 50.1 360.2 50.2 360.0 50.3 359.5 50.5 359.2 50.5Z"/>
<path fill="#000" stroke="#3d3d3d" stroke-width="0.50" fill-opacity="0.30" d="M358.8 49.5 358.2 49.6 357.8 49.6 357.2 49.5 356.9 49.5 356.5 49.4 356.0 49.3 355.8 49.2 355.3 49.0 355.0 48.9 354.8 48.7 354.4 48.5 354.1 48.2 353.8 48.0 353.6 47.8 353.4 47.5 353.2 47.2 353.0 46.9 352.8 46.5 352.7 46.2 352.6 45.8 352.6 45.2 352.6 44.8 352.7 44.2 352.8 44.0 353.0 43.5 353.1 43.2 353.3 43.0 353.5 42.7 353.8 42.4 354.0 42.2 354.2 42.0 354.6 41.8 355.0 41.5 355.2 41.4 355.5 41.2 356.0 41.1 356.3 41.0 356.8 40.9 357.2 40.8 357.8 40.8 358.2 40.8 358.8 40.9 359.2 41.0 359.5 41.1 360.0 41.2 360.2 41.3 360.6 41.5 361.0 41.7 361.2 41.9 361.5 42.1 361.8 42.3 362.0 42.6 362.2 42.9 362.5 43.2 362.7 43.5 362.8 43.8 363.0 44.2 363.0 44.5 363.1 45.0 363.1 45.5 363.0 46.0 362.9 46.2 362.8 46.8 362.6 47.0 362.5 47.2 362.2 47.6 362.0 47.9 361.8 48.1 361.5 48.3 361.2 48.5 360.9 48.8 360.5 49.0 360.2 49.1 359.8 49.2 359.5 49.4 359.0 49.5 358.8 49.5Z"/>
<path fill="#000" stroke="#262626" stroke-width="0.55" fill-opacity="0.38" d="M358.8 48.5 358.2 48.6 357.8 48.6 357.2 48.5 357.0 48.5 356.5 48.4 356.2 48.2 355.8 48.0 355.5 47.9 355.2 47.7 355.0 47.5 354.7 47.2 354.5 47.0 354.2 46.5 354.1 46.2 354.0 45.8 354.0 45.5 354.0 45.0 354.0 44.8 354.2 44.2 354.3 44.0 354.5 43.6 354.8 43.3 355.0 43.1 355.2 42.9 355.5 42.7 355.8 42.5 356.2 42.3 356.5 42.2 357.0 42.1 357.5 42.0 358.0 42.0 358.5 42.0 359.0 42.1 359.4 42.2 359.8 42.4 360.0 42.5 360.4 42.8 360.7 43.0 361.0 43.2 361.2 43.5 361.4 43.8 361.5 44.0 361.7 44.5 361.8 44.8 361.9 45.2 361.8 45.8 361.8 46.1 361.6 46.5 361.5 46.8 361.2 47.1 361.0 47.4 360.8 47.6 360.5 47.8 360.2 48.0 359.8 48.2 359.5 48.3 359.0 48.5 358.8 48.5Z"/>
<path fill="#000" stroke="#101010" stroke-width="0.60" fill-opacity="0.45" d="M359.0 47.3 358.5 47.4 358.0 47.5 357.5 47.5 357.0 47.3 356.8 47.2 356.3 47.0 356.0 46.8 355.8 46.5 355.6 46.2 355.5 46.0 355.4 45.5 355.4 45.0 355.5 44.7 355.7 44.2 355.9 44.0 356.2 43.8 356.5 43.6 356.8 43.4 357.2 43.3 357.5 43.2 358.0 43.2 358.5 43.2 358.8 43.3 359.2 43.5 359.5 43.6 359.8 43.8 360.0 44.0 360.2 44.4 360.4 44.8 360.5 45.0 360.5 45.5 360.5 45.8 360.3 46.2 360.1 46.5 359.9 46.8 359.6 47.0 359.2 47.2 359.0 47.3Z"/></g>
<circle cx="358.0" cy="45.4" r="0.9" fill="#fff" fill-opacity="0.9"/>
<g fill="none" stroke="#555" stroke-width="0.5"><path d="M414.8 42L421 35.5L426.5 34.5L432.8 38L434.5 46L431 53.5L421 54.5L415.5 50Z"/><path d="M416.8 42.5L421.5 37.2L426.5 36.4L431.2 39.2L432.6 46L429.6 51.8L421.5 52.8L417.4 49.5Z"/></g>
<g><path fill="#000" stroke="#999999" stroke-width="0.30" fill-opacity="0.10" d="M428.0 56.8 427.5 56.8 427.0 56.8 426.5 56.8 426.0 56.8 425.5 56.8 425.0 56.8 424.5 56.8 424.0 56.8 423.5 56.8 423.0 56.8 422.5 56.8 422.2 56.7 421.8 56.5 421.5 56.5 421.0 56.2 420.8 56.1 420.5 56.0 420.0 55.8 419.8 55.6 419.5 55.4 419.2 55.2 418.9 55.0 418.6 54.8 418.3 54.5 418.0 54.2 417.8 54.0 417.5 53.8 417.3 53.5 417.1 53.2 416.9 53.0 416.7 52.8 416.5 52.5 416.2 52.1 416.0 51.8 415.9 51.5 415.7 51.2 415.5 50.8 415.3 50.5 415.2 50.2 415.0 49.8 414.9 49.5 414.8 49.0 414.7 48.8 414.6 48.2 414.5 48.0 414.4 47.5 414.3 47.0 414.2 46.6 414.2 46.2 414.2 45.8 414.2 45.2 414.2 44.8 414.2 44.2 414.2 43.8 414.2 43.4 414.3 43.0 414.4 42.5 414.5 42.0 414.6 41.8 414.7 41.2 414.8 41.0 414.9 40.5 415.0 40.2 415.2 39.8 415.4 39.5 415.5 39.2 415.7 38.8 415.9 38.5 416.0 38.2 416.2 37.9 416.5 37.5 416.7 37.2 416.9 37.0 417.1 36.8 417.3 36.5 417.5 36.2 417.8 36.0 418.0 35.8 418.3 35.5 418.6 35.2 418.9 35.0 419.2 34.8 419.5 34.6 419.8 34.4 420.0 34.2 420.5 34.0 420.8 33.9 421.0 33.7 421.5 33.5 421.8 33.4 422.2 33.3 422.5 33.2 423.0 33.1 423.4 33.0 423.8 32.9 424.2 32.9 424.8 32.8 425.2 32.8 425.8 32.8 426.2 32.9 426.8 33.0 427.0 33.0 427.5 33.1 428.0 33.2 428.2 33.3 428.8 33.5 429.0 33.6 429.4 33.8 429.8 33.9 430.0 34.0 430.4 34.2 430.8 34.5 431.0 34.7 431.2 34.8 431.5 35.0 431.8 35.2 432.1 35.5 432.4 35.8 432.6 36.0 432.9 36.2 433.1 36.5 433.3 36.8 433.5 37.0 433.8 37.3 434.0 37.6 434.2 38.0 434.4 38.2 434.5 38.5 434.8 38.9 434.9 39.2 435.1 39.5 435.2 39.9 435.4 40.2 435.5 40.6 435.7 41.0 435.8 41.3 435.9 41.8 436.0 42.2 436.0 42.5 436.1 43.0 436.2 43.5 436.2 44.0 436.3 44.2 436.3 44.8 436.3 45.2 436.3 45.8 436.2 46.0 436.2 46.5 436.1 47.0 436.0 47.5 436.0 47.8 435.9 48.2 435.8 48.7 435.7 49.0 435.5 49.5 435.4 49.8 435.2 50.1 435.1 50.5 435.0 50.8 434.8 51.2 434.6 51.5 434.4 51.8 434.2 52.0 434.0 52.4 433.8 52.7 433.6 53.0 433.4 53.2 433.1 53.5 432.9 53.8 432.7 54.0 432.4 54.2 432.1 54.5 431.8 54.8 431.5 55.0 431.2 55.2 431.0 55.4 430.8 55.5 430.4 55.8 430.0 56.0 429.8 56.1 429.4 56.2 429.0 56.4 428.8 56.5 428.2 56.7 428.0 56.8Z"/>
<path fill="#000" stroke="#828282" stroke-width="0.35" fill-opacity="0.12" d="M426.5 55.5 426.0 55.6 425.5 55.6 425.0 55.6 424.5 55.6 424.0 55.5 423.8 55.5 423.2 55.4 422.8 55.2 422.5 55.2 422.1 55.0 421.8 54.9 421.5 54.8 421.0 54.5 420.8 54.4 420.5 54.2 420.2 54.0 419.8 53.8 419.5 53.5 419.2 53.3 419.0 53.1 418.8 52.8 418.5 52.6 418.2 52.3 418.0 52.0 417.8 51.8 417.6 51.5 417.5 51.2 417.2 50.9 417.0 50.5 416.9 50.2 416.7 50.0 416.5 49.5 416.4 49.2 416.2 48.8 416.1 48.5 416.0 48.0 415.9 47.8 415.8 47.2 415.8 46.8 415.7 46.5 415.6 46.0 415.6 45.5 415.6 45.0 415.6 44.5 415.7 44.0 415.7 43.5 415.8 43.2 415.8 42.8 416.0 42.2 416.0 42.0 416.2 41.5 416.3 41.2 416.4 40.8 416.5 40.5 416.8 40.1 416.9 39.8 417.0 39.5 417.2 39.1 417.5 38.8 417.7 38.5 417.9 38.2 418.1 38.0 418.3 37.8 418.5 37.5 418.8 37.2 419.0 37.0 419.3 36.8 419.6 36.5 419.9 36.2 420.2 36.0 420.5 35.8 420.8 35.7 421.1 35.5 421.5 35.3 421.8 35.2 422.2 35.0 422.5 34.9 423.0 34.8 423.2 34.7 423.8 34.6 424.2 34.5 424.7 34.5 425.0 34.5 425.5 34.5 425.8 34.5 426.2 34.5 426.8 34.6 427.2 34.7 427.5 34.8 428.0 34.9 428.2 35.0 428.8 35.2 429.0 35.3 429.3 35.5 429.8 35.7 430.0 35.9 430.2 36.1 430.5 36.2 430.9 36.5 431.2 36.8 431.4 37.0 431.7 37.2 431.9 37.5 432.2 37.8 432.4 38.0 432.6 38.2 432.8 38.5 433.0 38.8 433.2 39.2 433.4 39.5 433.5 39.8 433.8 40.2 433.9 40.5 434.0 40.8 434.2 41.2 434.3 41.5 434.4 42.0 434.5 42.2 434.6 42.8 434.7 43.2 434.8 43.5 434.8 44.0 434.8 44.5 434.9 45.0 434.8 45.5 434.8 46.0 434.8 46.5 434.7 46.8 434.6 47.2 434.5 47.8 434.5 48.0 434.3 48.5 434.2 48.8 434.1 49.2 434.0 49.5 433.8 50.0 433.6 50.2 433.5 50.5 433.2 50.9 433.0 51.2 432.8 51.5 432.7 51.8 432.5 52.0 432.2 52.3 432.0 52.5 431.8 52.8 431.5 53.1 431.2 53.3 431.0 53.5 430.7 53.8 430.3 54.0 430.0 54.2 429.8 54.4 429.5 54.5 429.0 54.8 428.8 54.9 428.4 55.0 428.0 55.2 427.7 55.2 427.2 55.4 426.8 55.5 426.5 55.5Z"/>
<path fill="#000" stroke="#6b6b6b" stroke-width="0.40" fill-opacity="0.16" d="M426.8 53.8 426.2 53.9 425.8 53.9 425.2 53.9 424.8 53.9 424.2 53.9 423.8 53.8 423.5 53.7 423.0 53.5 422.8 53.5 422.2 53.3 422.0 53.1 421.8 53.0 421.3 52.8 421.0 52.5 420.8 52.3 420.5 52.1 420.2 51.9 420.0 51.7 419.8 51.4 419.5 51.2 419.2 50.9 419.0 50.5 418.8 50.2 418.6 50.0 418.5 49.8 418.2 49.3 418.1 49.0 418.0 48.7 417.8 48.2 417.7 48.0 417.6 47.5 417.5 47.2 417.4 46.8 417.3 46.2 417.3 45.8 417.3 45.2 417.3 44.8 417.3 44.2 417.4 43.8 417.4 43.2 417.5 43.0 417.6 42.5 417.8 42.1 417.9 41.8 418.0 41.4 418.2 41.0 418.3 40.8 418.5 40.4 418.8 40.0 418.9 39.8 419.1 39.5 419.3 39.2 419.5 39.0 419.8 38.7 420.0 38.5 420.3 38.2 420.6 38.0 420.9 37.8 421.2 37.5 421.5 37.3 421.8 37.2 422.2 37.0 422.5 36.9 422.8 36.8 423.2 36.6 423.6 36.5 424.0 36.4 424.5 36.4 425.0 36.3 425.5 36.3 426.0 36.4 426.5 36.4 426.9 36.5 427.2 36.6 427.7 36.8 428.0 36.9 428.3 37.0 428.8 37.2 429.0 37.3 429.3 37.5 429.6 37.8 430.0 38.0 430.2 38.2 430.5 38.5 430.8 38.7 431.0 39.0 431.2 39.2 431.4 39.5 431.6 39.8 431.8 40.0 432.0 40.4 432.2 40.8 432.3 41.0 432.5 41.4 432.6 41.8 432.8 42.1 432.9 42.5 433.0 42.9 433.1 43.2 433.2 43.8 433.2 44.2 433.2 44.8 433.3 45.0 433.2 45.4 433.2 45.8 433.2 46.2 433.1 46.8 433.0 47.2 433.0 47.5 432.8 48.0 432.7 48.2 432.5 48.8 432.4 49.0 432.2 49.4 432.1 49.8 431.9 50.0 431.8 50.3 431.5 50.6 431.2 51.0 431.0 51.2 430.8 51.5 430.5 51.8 430.3 52.0 430.0 52.2 429.8 52.4 429.5 52.6 429.2 52.8 428.9 53.0 428.5 53.2 428.2 53.3 427.8 53.5 427.5 53.6 427.0 53.7 426.8 53.8Z"/>
<path fill="#000" stroke="#545454" stroke-width="0.45" fill-opacity="0.22" d="M426.5 52.3 426.0 52.3 425.5 52.4 425.0 52.4 424.5 52.3 424.2 52.2 423.8 52.1 423.5 52.0 423.0 51.8 422.8 51.7 422.4 51.5 422.1 51.2 421.8 51.0 421.5 50.8 421.2 50.6 421.0 50.3 420.8 50.0 420.6 49.8 420.4 49.5 420.2 49.2 420.0 48.9 419.8 48.5 419.7 48.2 419.5 47.8 419.4 47.5 419.3 47.0 419.2 46.8 419.2 46.2 419.1 45.8 419.1 45.2 419.1 44.8 419.1 44.2 419.2 43.8 419.3 43.5 419.4 43.0 419.5 42.7 419.7 42.2 419.8 42.0 420.0 41.6 420.2 41.2 420.4 41.0 420.5 40.8 420.8 40.5 421.0 40.2 421.2 39.9 421.5 39.7 421.8 39.5 422.1 39.2 422.5 39.0 422.8 38.9 423.0 38.7 423.5 38.5 423.8 38.5 424.2 38.3 424.8 38.3 425.0 38.2 425.5 38.2 425.9 38.2 426.2 38.3 426.8 38.4 427.1 38.5 427.5 38.6 427.8 38.8 428.2 39.0 428.5 39.2 428.8 39.3 429.0 39.5 429.3 39.8 429.5 40.0 429.8 40.2 430.0 40.5 430.2 40.8 430.5 41.2 430.7 41.5 430.8 41.8 431.0 42.2 431.1 42.5 431.2 42.8 431.4 43.2 431.5 43.8 431.5 44.0 431.6 44.5 431.6 45.0 431.7 45.5 431.6 46.0 431.6 46.5 431.5 46.8 431.4 47.2 431.3 47.8 431.2 48.0 431.0 48.4 430.9 48.8 430.7 49.0 430.5 49.4 430.3 49.8 430.1 50.0 429.9 50.2 429.6 50.5 429.4 50.8 429.1 51.0 428.8 51.2 428.5 51.4 428.2 51.6 428.0 51.8 427.5 52.0 427.2 52.1 426.8 52.2 426.5 52.3Z"/>
<path fill="#000" stroke="#3d3d3d" stroke-width="0.50" fill-opacity="0.30" d="M425.8 51.0 425.2 51.0 425.0 51.0 424.5 50.9 424.0 50.8 423.8 50.6 423.5 50.5 423.1 50.2 422.8 50.0 422.5 49.8 422.2 49.6 422.0 49.3 421.8 49.0 421.6 48.8 421.5 48.5 421.2 48.1 421.1 47.8 421.0 47.5 420.8 47.0 420.8 46.5 420.7 46.2 420.7 45.8 420.6 45.2 420.7 44.8 420.8 44.3 420.8 44.0 420.9 43.5 421.0 43.2 421.2 42.8 421.4 42.5 421.5 42.2 421.8 41.9 422.0 41.6 422.2 41.3 422.5 41.0 422.8 40.8 423.0 40.6 423.2 40.5 423.7 40.2 424.0 40.1 424.4 40.0 424.8 39.9 425.2 39.9 425.8 39.9 426.2 39.9 426.6 40.0 427.0 40.1 427.3 40.2 427.7 40.5 428.0 40.7 428.2 40.9 428.5 41.1 428.8 41.3 429.0 41.6 429.2 41.9 429.5 42.2 429.6 42.5 429.8 42.8 429.9 43.2 430.0 43.5 430.2 44.0 430.2 44.4 430.3 44.8 430.3 45.2 430.3 45.8 430.3 46.2 430.2 46.5 430.1 47.0 430.0 47.5 429.9 47.8 429.8 48.1 429.5 48.5 429.4 48.8 429.2 49.0 429.0 49.3 428.8 49.6 428.5 49.8 428.2 50.0 428.0 50.2 427.5 50.5 427.2 50.6 427.0 50.8 426.5 50.9 426.0 51.0 425.8 51.0Z"/>
<path fill="#000" stroke="#262626" stroke-width="0.55" fill-opacity="0.38" d="M425.8 49.8 425.4 49.8 425.0 49.7 424.5 49.6 424.2 49.5 423.8 49.2 423.5 49.0 423.2 48.8 423.0 48.5 422.8 48.2 422.6 48.0 422.5 47.8 422.2 47.3 422.1 47.0 422.0 46.5 422.0 46.2 421.9 45.8 421.9 45.2 422.0 44.8 422.0 44.5 422.1 44.0 422.2 43.7 422.5 43.2 422.6 43.0 422.8 42.8 423.0 42.5 423.2 42.2 423.5 42.0 423.9 41.8 424.2 41.5 424.5 41.4 425.0 41.3 425.5 41.3 426.0 41.3 426.5 41.4 426.8 41.5 427.2 41.8 427.5 41.9 427.8 42.1 428.0 42.4 428.2 42.7 428.5 43.0 428.6 43.2 428.8 43.5 428.9 44.0 429.0 44.2 429.1 44.8 429.2 45.2 429.2 45.8 429.1 46.2 429.0 46.8 429.0 47.0 428.8 47.5 428.6 47.8 428.5 48.0 428.2 48.4 428.0 48.6 427.8 48.9 427.5 49.1 427.2 49.3 426.8 49.5 426.5 49.6 426.0 49.7 425.8 49.8Z"/>
<path fill="#000" stroke="#101010" stroke-width="0.60" fill-opacity="0.45" d="M426.0 48.3 425.5 48.3 425.0 48.3 424.8 48.2 424.4 48.0 424.1 47.8 423.9 47.5 423.7 47.2 423.5 46.9 423.3 46.5 423.2 46.2 423.2 45.8 423.2 45.2 423.2 44.9 423.4 44.5 423.5 44.2 423.7 43.8 424.0 43.5 424.2 43.2 424.5 43.1 424.8 42.9 425.2 42.8 425.8 42.8 426.2 42.9 426.5 43.0 426.9 43.2 427.2 43.5 427.4 43.8 427.5 44.0 427.8 44.4 427.8 44.8 427.9 45.2 427.9 45.8 427.9 46.2 427.8 46.7 427.6 47.0 427.5 47.2 427.2 47.5 427.0 47.8 426.7 48.0 426.2 48.2 426.0 48.3Z"/></g>
<circle cx="425.6" cy="45.6" r="0.9" fill="#fff" fill-opacity="0.9"/>
<ellipse cx="287.6" cy="24.6" rx="2.6" ry="1.6" fill="#bbb"/><ellipse cx="287.6" cy="24.6" rx="1.2" ry="0.8" fill="#888"/>
<g fill="none" stroke="#666" stroke-width="0.6"><path d="M354.5 23.5L360.8 23.5L358 28.8Z"/><path d="M418.5 24C421 22.5 424 25.5 427 24.5C430 23.5 432 25 431.5 26.5C429 27.5 426 26.5 423 28C420 29 418.5 26.5 418.5 24Z"/><path d="M409 45.5C407.5 45.5 407.5 47.5 409 47.5" stroke="#888"/></g>

<!-- ================= Panel D ================= -->
<text class="pl" transform="translate(222.1 133.6) scale(1 1.1)">D</text>
<g class="t" text-anchor="middle">
<text x="279.6" y="140.6">No inhibitor</text>
<text x="349.7" y="140.5">PD98059</text>
<text x="420.7" y="140.5">U0126</text>
<text x="351.5" y="222.6">Mac-1</text>
<text transform="translate(240.2 179) rotate(-90)">Gr-1</text>
</g>
<path d="M247.6 220.4H337.4M366 220.4H454.4" stroke="#777" stroke-width="0.9"/>
<path fill="#888" d="M313.1 203.7h0.6v0.6h-0.6zM257.5 208.0h0.6v0.6h-0.6zM285.3 170.2h0.6v0.6h-0.6zM283.6 184.6h0.6v0.6h-0.6zM284.1 160.7h0.6v0.6h-0.6zM274.5 207.5h0.6v0.6h-0.6zM265.5 204.3h0.6v0.6h-0.6zM313.5 175.1h0.6v0.6h-0.6zM261.2 201.3h0.6v0.6h-0.6zM262.0 208.1h0.6v0.6h-0.6zM314.2 196.0h0.6v0.6h-0.6zM314.6 186.5h0.6v0.6h-0.6zM277.0 179.4h0.6v0.6h-0.6zM268.2 201.5h0.6v0.6h-0.6zM314.7 201.5h0.6v0.6h-0.6zM275.0 207.2h0.6v0.6h-0.6zM266.0 209.3h0.6v0.6h-0.6zM289.4 210.7h0.6v0.6h-0.6zM257.5 206.8h0.6v0.6h-0.6zM275.4 183.2h0.6v0.6h-0.6zM277.4 194.2h0.6v0.6h-0.6zM282.0 164.1h0.6v0.6h-0.6zM281.7 164.3h0.6v0.6h-0.6zM289.5 162.2h0.6v0.6h-0.6zM285.1 182.5h0.6v0.6h-0.6zM314.5 197.5h0.6v0.6h-0.6zM289.7 161.2h0.6v0.6h-0.6zM263.2 204.3h0.6v0.6h-0.6zM286.9 193.6h0.6v0.6h-0.6zM264.6 202.9h0.6v0.6h-0.6zM289.3 212.2h0.6v0.6h-0.6zM314.3 189.8h0.6v0.6h-0.6zM260.4 203.8h0.6v0.6h-0.6zM309.9 211.9h0.6v0.6h-0.6zM261.6 203.5h0.6v0.6h-0.6zM261.4 204.1h0.6v0.6h-0.6zM277.8 207.9h0.6v0.6h-0.6zM259.9 209.2h0.6v0.6h-0.6zM257.2 206.5h0.6v0.6h-0.6zM307.9 212.6h0.6v0.6h-0.6zM288.0 207.0h0.6v0.6h-0.6zM310.1 212.2h0.6v0.6h-0.6zM286.1 191.0h0.6v0.6h-0.6zM284.3 187.9h0.6v0.6h-0.6zM311.4 164.3h0.6v0.6h-0.6zM312.2 164.1h0.6v0.6h-0.6zM315.2 189.7h0.6v0.6h-0.6zM258.8 208.0h0.6v0.6h-0.6zM264.4 203.5h0.6v0.6h-0.6zM277.7 195.8h0.6v0.6h-0.6zM287.3 195.4h0.6v0.6h-0.6zM272.8 204.4h0.6v0.6h-0.6zM271.9 202.4h0.6v0.6h-0.6zM284.0 177.3h0.6v0.6h-0.6zM259.6 209.3h0.6v0.6h-0.6zM275.2 175.3h0.6v0.6h-0.6zM286.9 172.9h0.6v0.6h-0.6zM311.3 212.9h0.6v0.6h-0.6zM310.2 207.9h0.6v0.6h-0.6zM289.3 182.6h0.6v0.6h-0.6zM280.7 163.0h0.6v0.6h-0.6zM269.4 209.5h0.6v0.6h-0.6zM269.6 204.0h0.6v0.6h-0.6zM311.9 202.9h0.6v0.6h-0.6zM308.8 210.3h0.6v0.6h-0.6zM291.9 160.6h0.6v0.6h-0.6zM314.7 189.6h0.6v0.6h-0.6zM288.2 206.7h0.6v0.6h-0.6zM266.3 207.7h0.6v0.6h-0.6zM289.7 162.0h0.6v0.6h-0.6zM312.4 211.7h0.6v0.6h-0.6zM275.4 182.5h0.6v0.6h-0.6zM286.0 178.7h0.6v0.6h-0.6zM313.9 200.5h0.6v0.6h-0.6zM289.3 209.3h0.6v0.6h-0.6zM276.5 207.2h0.6v0.6h-0.6zM315.5 186.0h0.6v0.6h-0.6zM260.1 207.4h0.6v0.6h-0.6zM255.1 206.9h0.6v0.6h-0.6zM313.1 176.4h0.6v0.6h-0.6zM277.0 184.9h0.6v0.6h-0.6zM315.1 191.1h0.6v0.6h-0.6zM313.3 171.6h0.6v0.6h-0.6zM277.0 191.1h0.6v0.6h-0.6zM260.5 209.7h0.6v0.6h-0.6zM295.0 212.1h0.6v0.6h-0.6zM289.1 196.1h0.6v0.6h-0.6zM312.6 161.6h0.6v0.6h-0.6zM277.1 195.3h0.6v0.6h-0.6zM276.0 200.3h0.6v0.6h-0.6zM265.4 209.6h0.6v0.6h-0.6zM275.1 187.3h0.6v0.6h-0.6zM275.7 208.2h0.6v0.6h-0.6zM269.9 201.7h0.6v0.6h-0.6zM283.5 187.9h0.6v0.6h-0.6zM284.6 191.8h0.6v0.6h-0.6zM260.3 206.5h0.6v0.6h-0.6zM291.4 210.8h0.6v0.6h-0.6zM282.0 163.9h0.6v0.6h-0.6zM280.7 207.6h0.6v0.6h-0.6zM264.3 207.5h0.6v0.6h-0.6zM273.3 208.6h0.6v0.6h-0.6zM311.6 168.0h0.6v0.6h-0.6zM279.7 162.7h0.6v0.6h-0.6zM276.2 189.9h0.6v0.6h-0.6zM310.7 163.3h0.6v0.6h-0.6zM276.9 189.6h0.6v0.6h-0.6zM312.0 201.3h0.6v0.6h-0.6zM288.6 196.8h0.6v0.6h-0.6zM274.3 206.1h0.6v0.6h-0.6zM287.9 189.0h0.6v0.6h-0.6zM277.1 167.6h0.6v0.6h-0.6zM285.4 193.4h0.6v0.6h-0.6zM314.2 176.1h0.6v0.6h-0.6zM309.2 160.1h0.6v0.6h-0.6zM311.9 167.7h0.6v0.6h-0.6zM276.7 207.8h0.6v0.6h-0.6zM277.0 177.7h0.6v0.6h-0.6zM308.4 212.7h0.6v0.6h-0.6zM312.7 209.4h0.6v0.6h-0.6zM260.8 204.2h0.6v0.6h-0.6zM271.4 206.5h0.6v0.6h-0.6zM285.2 174.6h0.6v0.6h-0.6zM294.3 187.7h0.6v0.6h-0.6zM292.7 160.2h0.6v0.6h-0.6zM285.2 191.9h0.6v0.6h-0.6zM314.8 180.7h0.6v0.6h-0.6zM275.8 201.8h0.6v0.6h-0.6zM314.1 196.0h0.6v0.6h-0.6zM271.8 202.1h0.6v0.6h-0.6zM313.0 196.6h0.6v0.6h-0.6zM293.5 187.8h0.6v0.6h-0.6zM283.6 192.5h0.6v0.6h-0.6zM312.7 166.8h0.6v0.6h-0.6zM270.6 203.4h0.6v0.6h-0.6zM281.7 164.4h0.6v0.6h-0.6zM285.6 188.7h0.6v0.6h-0.6zM291.8 198.7h0.6v0.6h-0.6zM313.0 173.4h0.6v0.6h-0.6zM315.7 182.1h0.6v0.6h-0.6zM275.9 182.3h0.6v0.6h-0.6zM255.8 204.7h0.6v0.6h-0.6zM260.6 209.3h0.6v0.6h-0.6zM283.9 183.0h0.6v0.6h-0.6zM283.8 179.2h0.6v0.6h-0.6zM284.0 206.4h0.6v0.6h-0.6zM274.9 171.8h0.6v0.6h-0.6zM314.2 203.7h0.6v0.6h-0.6zM276.2 168.3h0.6v0.6h-0.6zM314.8 176.3h0.6v0.6h-0.6zM291.2 198.4h0.6v0.6h-0.6zM314.6 182.2h0.6v0.6h-0.6zM277.1 191.4h0.6v0.6h-0.6zM275.6 171.2h0.6v0.6h-0.6zM272.4 204.5h0.6v0.6h-0.6zM315.4 188.6h0.6v0.6h-0.6zM293.4 210.5h0.6v0.6h-0.6zM276.5 209.2h0.6v0.6h-0.6zM294.5 160.8h0.6v0.6h-0.6zM315.8 171.2h0.6v0.6h-0.6zM268.5 203.0h0.6v0.6h-0.6zM269.5 209.5h0.6v0.6h-0.6zM293.6 187.3h0.6v0.6h-0.6zM285.9 206.1h0.6v0.6h-0.6zM314.2 175.5h0.6v0.6h-0.6zM279.1 165.6h0.6v0.6h-0.6zM277.4 167.4h0.6v0.6h-0.6zM291.4 182.7h0.6v0.6h-0.6zM274.9 192.1h0.6v0.6h-0.6zM276.7 181.8h0.6v0.6h-0.6zM313.7 165.4h0.6v0.6h-0.6zM289.8 208.8h0.6v0.6h-0.6zM284.0 183.3h0.6v0.6h-0.6zM282.7 208.7h0.6v0.6h-0.6zM263.5 202.6h0.6v0.6h-0.6zM291.0 196.7h0.6v0.6h-0.6zM275.2 193.5h0.6v0.6h-0.6zM309.4 211.9h0.6v0.6h-0.6zM256.3 206.5h0.6v0.6h-0.6zM315.3 181.0h0.6v0.6h-0.6zM277.4 192.5h0.6v0.6h-0.6zM286.0 190.0h0.6v0.6h-0.6zM287.0 194.6h0.6v0.6h-0.6zM315.8 179.5h0.6v0.6h-0.6zM276.5 201.1h0.6v0.6h-0.6zM282.9 208.1h0.6v0.6h-0.6zM255.9 205.2h0.6v0.6h-0.6zM315.7 181.3h0.6v0.6h-0.6zM314.0 166.6h0.6v0.6h-0.6zM294.7 188.3h0.6v0.6h-0.6zM274.6 206.7h0.6v0.6h-0.6zM275.3 202.2h0.6v0.6h-0.6zM294.1 210.9h0.6v0.6h-0.6zM314.9 188.8h0.6v0.6h-0.6zM315.0 183.3h0.6v0.6h-0.6zM309.5 209.3h0.6v0.6h-0.6zM283.5 177.8h0.6v0.6h-0.6zM315.2 169.4h0.6v0.6h-0.6zM276.8 193.3h0.6v0.6h-0.6zM285.8 186.0h0.6v0.6h-0.6z"/>
<g clip-path="url(#cd1)"><path fill="#000" stroke="#999" stroke-width="0.45" fill-opacity="0.03" d="M299.5 210.8 299.0 210.8 298.5 210.9 298.0 210.9 297.5 210.9 297.0 210.9 296.5 210.9 296.0 210.9 295.5 210.8 295.0 210.8 294.8 210.7 294.2 210.7 293.8 210.6 293.5 210.5 293.0 210.4 292.6 210.2 292.2 210.1 291.9 210.0 291.5 209.9 291.2 209.7 290.8 209.5 290.5 209.4 290.2 209.2 289.8 209.0 289.5 208.9 289.1 208.8 288.8 208.6 288.4 208.5 288.0 208.4 287.6 208.2 287.2 208.2 286.8 208.1 286.4 208.0 286.0 207.9 285.5 207.9 285.0 207.9 284.5 207.9 284.0 208.0 283.8 208.0 283.2 208.1 282.8 208.2 282.5 208.3 282.0 208.4 281.8 208.5 281.2 208.6 280.8 208.7 280.5 208.8 280.0 208.8 279.5 208.9 279.0 208.9 278.5 208.9 278.0 208.9 277.5 208.8 277.2 208.8 276.8 208.7 276.2 208.5 276.0 208.5 275.5 208.4 275.1 208.2 274.8 208.2 274.2 208.1 273.8 208.0 273.2 208.0 272.8 208.1 272.2 208.2 272.0 208.3 271.5 208.4 271.2 208.5 270.8 208.7 270.5 208.8 270.0 208.9 269.5 209.0 269.2 209.1 268.8 209.2 268.3 209.2 268.0 209.3 267.5 209.3 267.0 209.4 266.5 209.4 266.0 209.4 265.5 209.4 265.0 209.4 264.5 209.4 264.0 209.5 263.5 209.5 263.2 209.5 262.8 209.6 262.2 209.6 261.8 209.6 261.2 209.5 261.0 209.4 260.5 209.2 260.2 209.1 260.0 209.0 259.5 208.8 259.2 208.7 258.9 208.5 258.5 208.3 258.2 208.2 257.8 208.0 257.5 207.8 257.2 207.6 257.0 207.5 256.8 207.2 256.5 207.0 256.2 206.7 256.0 206.2 255.9 206.0 255.8 205.5 255.9 205.0 256.0 204.8 256.2 204.3 256.5 204.0 256.8 203.8 257.0 203.5 257.2 203.4 257.5 203.2 257.8 203.0 258.2 202.8 258.5 202.7 259.0 202.5 259.2 202.4 259.8 202.3 260.0 202.2 260.5 202.1 261.0 202.1 261.5 202.1 262.0 202.2 262.3 202.2 262.8 202.4 263.2 202.5 263.5 202.6 264.0 202.7 264.5 202.8 264.8 202.8 265.0 202.8 265.5 202.6 265.9 202.5 266.2 202.3 266.5 202.2 267.0 202.1 267.2 202.0 267.8 201.9 268.2 201.9 268.8 201.9 269.2 201.9 269.6 202.0 270.0 202.1 270.5 202.2 270.9 202.2 271.2 202.3 271.8 202.4 272.2 202.3 272.7 202.2 273.0 202.2 273.3 202.0 273.8 201.8 274.0 201.6 274.2 201.5 274.5 201.2 274.9 201.0 275.2 200.8 275.4 200.5 275.7 200.2 275.9 200.0 276.0 199.8 276.2 199.3 276.3 199.0 276.4 198.5 276.3 198.0 276.3 197.5 276.3 197.0 276.2 196.8 276.2 196.2 276.1 195.8 276.1 195.2 276.0 194.8 276.0 194.5 275.9 194.0 275.9 193.5 275.8 193.0 275.8 192.5 275.7 192.2 275.7 191.8 275.6 191.2 275.6 190.8 275.6 190.2 275.6 189.8 275.6 189.2 275.5 188.8 275.5 188.2 275.5 187.8 275.5 187.2 275.5 186.8 275.6 186.2 275.6 185.8 275.6 185.2 275.6 184.8 275.6 184.2 275.6 183.8 275.6 183.2 275.6 182.8 275.6 182.2 275.6 181.8 275.6 181.2 275.6 180.8 275.7 180.2 275.8 180.0 276.0 179.5 276.2 179.2 276.3 179.0 276.5 178.8 276.8 178.4 276.9 178.0 277.0 177.5 276.9 177.0 276.7 176.8 276.5 176.3 276.3 176.0 276.2 175.8 276.0 175.3 275.9 175.0 275.8 174.5 275.7 174.2 275.6 173.8 275.5 173.2 275.5 173.0 275.4 172.5 275.4 172.0 275.4 171.5 275.4 171.0 275.5 170.7 275.6 170.2 275.8 170.0 276.0 169.5 276.2 169.2 276.3 169.0 276.6 168.8 276.8 168.5 277.0 168.2 277.3 168.0 277.6 167.8 277.8 167.5 278.0 167.2 278.2 166.9 278.4 166.5 278.5 166.1 278.6 165.8 278.6 165.2 278.7 164.8 278.8 164.5 279.0 164.1 279.2 163.8 279.4 163.5 279.6 163.2 279.9 163.0 280.2 162.8 280.5 162.6 280.8 162.4 281.1 162.2 281.5 162.0 281.8 161.9 282.2 161.8 282.5 161.7 283.0 161.5 283.2 161.5 283.8 161.4 284.2 161.3 284.5 161.2 285.0 161.1 285.5 161.1 286.0 161.1 286.5 161.0 287.0 161.0 287.5 161.1 288.0 161.1 288.5 161.2 289.0 161.2 289.3 161.2 289.8 161.3 290.2 161.3 290.8 161.3 291.2 161.4 291.8 161.5 292.0 161.6 292.5 161.7 292.8 161.8 293.0 162.0 293.4 162.2 293.8 162.5 294.0 162.7 294.2 162.9 294.5 163.2 294.8 163.5 295.0 163.8 295.1 164.0 295.3 164.2 295.5 164.7 295.6 165.0 295.8 165.4 295.8 165.8 295.9 166.2 296.0 166.8 296.0 167.2 296.0 167.8 296.0 168.2 295.9 168.8 295.9 169.2 295.9 169.8 295.9 170.2 295.9 170.8 295.9 171.2 295.9 171.8 296.0 172.2 296.0 172.8 296.0 173.2 296.0 173.8 296.0 174.2 296.0 174.8 296.0 175.2 295.9 175.8 295.9 176.2 295.8 176.8 295.8 177.1 295.7 177.5 295.6 178.0 295.5 178.3 295.4 178.8 295.2 179.2 295.2 179.5 295.0 180.0 294.9 180.2 294.8 180.6 294.6 181.0 294.4 181.2 294.2 181.6 294.0 182.0 293.8 182.2 293.6 182.5 293.4 182.8 293.2 183.0 292.9 183.2 292.5 183.5 292.2 183.7 292.0 183.8 291.5 183.9 291.0 184.0 290.5 183.9 290.0 183.8 289.8 183.7 289.5 183.5 289.1 183.2 288.8 183.0 288.6 182.8 288.4 182.5 288.2 182.2 288.0 182.0 287.8 181.7 287.5 181.3 287.3 181.0 287.2 180.8 287.0 180.5 286.8 180.1 286.5 179.8 286.2 179.6 286.0 179.4 285.5 179.3 285.2 179.5 285.0 180.0 284.9 180.2 284.8 180.8 284.8 181.2 284.7 181.5 284.7 182.0 284.6 182.5 284.6 183.0 284.5 183.5 284.5 184.0 284.5 184.5 284.5 184.8 284.5 185.2 284.5 185.8 284.5 186.2 284.4 186.8 284.4 187.2 284.3 187.8 284.2 188.0 284.0 188.3 283.8 188.8 283.7 189.0 283.5 189.4 283.4 189.8 283.4 190.2 283.5 190.6 283.7 191.0 284.0 191.2 284.2 191.5 284.5 191.7 284.8 191.9 285.0 192.0 285.5 192.2 285.8 192.4 286.0 192.5 286.5 192.8 286.8 192.9 287.0 193.1 287.2 193.3 287.5 193.5 287.8 193.8 288.0 194.0 288.2 194.4 288.4 194.8 288.6 195.0 288.8 195.5 288.8 195.8 289.0 196.1 289.2 196.5 289.3 196.8 289.5 197.0 289.8 197.3 290.0 197.5 290.4 197.8 290.8 197.9 291.0 198.0 291.5 198.2 291.8 198.2 292.2 198.4 292.8 198.5 293.0 198.6 293.5 198.7 293.8 198.8 294.2 198.9 294.5 199.0 295.0 199.2 295.2 199.3 295.8 199.5 296.0 199.5 296.5 199.7 296.8 199.8 297.2 200.0 297.5 200.1 297.9 200.2 298.2 200.4 298.6 200.5 299.0 200.6 299.5 200.8 299.8 200.8 300.2 201.0 300.5 201.0 301.0 201.2 301.2 201.3 301.8 201.5 302.0 201.6 302.3 201.8 302.7 202.0 303.0 202.2 303.2 202.4 303.5 202.7 303.8 202.9 304.0 203.2 304.2 203.5 304.3 203.8 304.5 204.1 304.7 204.5 304.8 204.8 304.9 205.2 304.9 205.8 304.9 206.2 304.8 206.8 304.7 207.0 304.5 207.5 304.4 207.8 304.2 208.0 304.0 208.3 303.8 208.6 303.5 208.8 303.2 209.0 303.0 209.2 302.7 209.5 302.3 209.8 302.0 209.9 301.8 210.0 301.3 210.2 301.0 210.4 300.6 210.5 300.2 210.6 299.8 210.7 299.5 210.8Z"/>
<path fill="none" stroke="#888" stroke-width="0.45" d="M299.8 209.8 299.2 209.9 298.8 209.9 298.2 210.0 297.8 210.0 297.2 210.0 296.8 210.0 296.2 209.9 295.8 209.9 295.2 209.8 294.8 209.8 294.5 209.7 294.0 209.6 293.5 209.5 293.2 209.4 292.8 209.3 292.5 209.2 292.0 209.0 291.8 208.9 291.5 208.7 291.0 208.5 290.8 208.4 290.5 208.2 290.0 208.0 289.8 207.9 289.4 207.8 289.0 207.6 288.8 207.5 288.2 207.3 288.0 207.2 287.5 207.1 287.0 207.0 286.8 207.0 286.2 206.9 285.8 206.8 285.2 206.8 284.8 206.8 284.2 206.9 283.8 206.9 283.4 207.0 283.0 207.1 282.6 207.2 282.2 207.4 281.9 207.5 281.5 207.6 281.1 207.8 280.8 207.8 280.2 207.9 279.9 208.0 279.5 208.0 279.0 208.1 278.5 208.1 278.0 208.0 277.8 208.0 277.2 207.9 276.8 207.8 276.5 207.7 276.0 207.5 275.8 207.4 275.5 207.2 275.0 207.0 274.8 206.9 274.4 206.8 274.0 206.6 273.7 206.5 273.2 206.4 272.8 206.4 272.4 206.5 272.0 206.7 271.8 206.8 271.4 207.0 271.0 207.2 270.8 207.3 270.4 207.5 270.0 207.7 269.8 207.8 269.2 208.0 269.0 208.0 268.5 208.2 268.0 208.2 267.8 208.3 267.2 208.3 266.8 208.3 266.2 208.3 265.8 208.3 265.2 208.3 264.8 208.4 264.2 208.4 263.8 208.4 263.2 208.5 262.8 208.5 262.2 208.4 261.8 208.4 261.3 208.2 261.0 208.2 260.6 208.0 260.2 207.8 260.0 207.7 259.6 207.5 259.2 207.3 259.0 207.1 258.8 206.9 258.5 206.6 258.2 206.3 258.1 206.0 258.0 205.5 258.0 205.5 258.1 205.0 258.2 204.7 258.5 204.4 258.8 204.1 259.0 203.9 259.3 203.8 259.8 203.5 260.0 203.4 260.5 203.3 260.8 203.2 261.2 203.2 261.8 203.1 262.2 203.2 262.7 203.2 263.0 203.3 263.5 203.4 263.9 203.5 264.2 203.6 264.8 203.6 265.2 203.6 265.8 203.5 266.0 203.4 266.4 203.2 266.8 203.1 267.2 203.0 267.5 202.9 268.0 202.9 268.5 202.9 269.0 203.0 269.2 203.1 269.8 203.2 270.0 203.3 270.5 203.5 270.8 203.6 271.2 203.7 271.5 203.8 272.0 204.0 272.5 204.0 273.0 203.9 273.2 203.7 273.5 203.5 273.8 203.2 274.1 203.0 274.4 202.8 274.6 202.5 274.9 202.2 275.2 202.0 275.5 201.8 275.8 201.5 276.0 201.3 276.2 201.1 276.5 200.8 276.8 200.6 277.0 200.3 277.2 200.0 277.3 199.8 277.5 199.2 277.5 198.8 277.5 198.2 277.4 197.8 277.3 197.2 277.3 196.8 277.2 196.5 277.1 196.0 277.1 195.5 277.0 195.0 277.0 194.8 276.9 194.2 276.8 193.8 276.8 193.3 276.7 193.0 276.6 192.5 276.6 192.0 276.5 191.5 276.5 191.2 276.5 190.8 276.4 190.2 276.4 189.8 276.4 189.2 276.4 188.8 276.4 188.2 276.4 187.8 276.4 187.2 276.4 186.8 276.4 186.2 276.4 185.8 276.4 185.2 276.4 184.8 276.4 184.2 276.4 183.8 276.4 183.2 276.4 182.8 276.4 182.2 276.4 181.8 276.4 181.2 276.5 180.8 276.5 180.5 276.6 180.0 276.8 179.6 276.9 179.2 277.1 179.0 277.2 178.7 277.5 178.2 277.5 178.0 277.6 177.5 277.5 177.0 277.5 176.8 277.3 176.2 277.2 176.0 277.0 175.5 276.9 175.2 276.8 174.8 276.8 174.4 276.6 174.0 276.5 173.5 276.4 173.2 276.3 172.8 276.2 172.4 276.2 172.0 276.2 171.5 276.3 171.2 276.5 170.8 276.6 170.5 276.8 170.2 277.0 169.9 277.2 169.7 277.5 169.4 277.8 169.2 278.0 168.9 278.2 168.7 278.5 168.4 278.8 168.1 279.0 167.8 279.2 167.5 279.3 167.2 279.5 166.8 279.6 166.5 279.7 166.0 279.8 165.8 279.9 165.2 280.0 165.0 280.2 164.5 280.4 164.2 280.6 164.0 280.9 163.8 281.2 163.5 281.5 163.3 281.8 163.1 282.0 163.0 282.5 162.8 282.8 162.7 283.2 162.5 283.5 162.5 284.0 162.3 284.5 162.2 284.8 162.2 285.2 162.1 285.8 162.1 286.2 162.1 286.8 162.1 287.2 162.1 287.8 162.2 288.2 162.2 288.5 162.3 289.0 162.3 289.5 162.4 290.0 162.5 290.3 162.5 290.8 162.6 291.2 162.7 291.6 162.8 292.0 162.9 292.2 163.0 292.6 163.2 293.0 163.5 293.2 163.8 293.5 164.0 293.7 164.2 293.9 164.5 294.0 164.8 294.2 165.2 294.3 165.5 294.5 166.0 294.5 166.2 294.6 166.8 294.6 167.2 294.6 167.8 294.6 168.2 294.5 168.8 294.5 169.0 294.4 169.5 294.4 170.0 294.4 170.5 294.4 171.0 294.4 171.5 294.5 172.0 294.5 172.5 294.5 173.0 294.5 173.5 294.5 174.0 294.4 174.5 294.4 175.0 294.3 175.5 294.3 176.0 294.2 176.2 294.1 176.8 294.1 177.2 294.0 177.5 293.9 178.0 293.8 178.3 293.6 178.8 293.5 179.0 293.2 179.4 293.0 179.8 292.9 180.0 292.6 180.2 292.4 180.5 292.0 180.8 291.8 180.9 291.5 181.0 291.0 181.1 290.5 181.0 290.2 180.9 289.9 180.8 289.6 180.5 289.3 180.2 289.0 180.0 288.8 179.8 288.5 179.5 288.2 179.4 288.0 179.2 287.8 179.0 287.4 178.8 287.1 178.5 286.8 178.2 286.6 178.0 286.4 177.8 286.2 177.4 286.1 177.0 286.0 176.5 286.0 176.0 285.9 175.8 285.7 175.8 285.3 176.0 285.1 176.2 284.9 176.5 284.7 176.8 284.5 177.0 284.3 177.5 284.2 177.8 284.0 178.2 284.0 178.5 283.9 179.0 283.8 179.5 283.8 180.0 283.7 180.2 283.7 180.8 283.7 181.2 283.7 181.8 283.6 182.2 283.6 182.8 283.6 183.2 283.6 183.8 283.6 184.2 283.6 184.8 283.6 185.2 283.6 185.8 283.6 186.2 283.6 186.8 283.5 187.2 283.5 187.5 283.4 188.0 283.2 188.4 283.1 188.8 283.0 189.1 282.9 189.5 282.8 190.0 282.9 190.5 283.0 190.9 283.2 191.2 283.3 191.5 283.5 191.8 283.8 192.1 284.0 192.3 284.2 192.5 284.6 192.8 284.9 193.0 285.2 193.2 285.5 193.3 285.8 193.5 286.2 193.8 286.5 194.0 286.8 194.2 287.0 194.5 287.2 194.8 287.3 195.0 287.5 195.5 287.6 195.8 287.8 196.2 287.8 196.5 288.0 196.9 288.1 197.2 288.3 197.5 288.5 197.8 288.8 198.1 289.0 198.4 289.2 198.5 289.7 198.8 290.0 198.9 290.4 199.0 290.8 199.1 291.2 199.2 291.5 199.3 292.0 199.4 292.5 199.5 292.8 199.6 293.2 199.7 293.5 199.8 294.0 200.0 294.2 200.1 294.8 200.2 295.0 200.3 295.4 200.5 295.8 200.6 296.1 200.8 296.5 200.9 296.8 201.0 297.2 201.2 297.5 201.3 298.0 201.4 298.3 201.5 298.8 201.6 299.2 201.7 299.5 201.8 300.0 201.9 300.5 202.0 300.8 202.1 301.2 202.2 301.5 202.4 301.8 202.5 302.2 202.8 302.5 203.0 302.7 203.2 302.9 203.5 303.1 203.8 303.2 204.0 303.5 204.5 303.5 204.8 303.6 205.2 303.6 205.8 303.6 206.2 303.5 206.5 303.3 207.0 303.2 207.2 303.0 207.6 302.8 207.9 302.5 208.2 302.2 208.4 302.0 208.6 301.8 208.8 301.5 209.0 301.1 209.2 300.8 209.4 300.5 209.5 300.0 209.7 299.8 209.8Z"/>
<path fill="none" stroke="#808080" stroke-width="0.50" d="M298.8 209.0 298.2 209.1 297.8 209.1 297.2 209.1 296.8 209.1 296.2 209.1 295.8 209.0 295.5 209.0 295.0 208.9 294.5 208.8 294.2 208.8 293.8 208.6 293.3 208.5 293.0 208.4 292.6 208.2 292.2 208.1 292.0 208.0 291.6 207.8 291.2 207.6 291.0 207.4 290.7 207.2 290.2 207.0 290.0 206.9 289.7 206.8 289.2 206.6 289.0 206.5 288.5 206.3 288.2 206.2 287.8 206.1 287.2 206.0 287.0 206.0 286.5 205.9 286.0 205.8 285.5 205.8 285.2 205.8 284.8 205.7 284.2 205.7 284.0 205.8 283.5 205.8 283.0 206.0 282.8 206.1 282.5 206.3 282.0 206.5 281.8 206.6 281.5 206.8 281.0 206.9 280.8 207.0 280.2 207.2 279.8 207.2 279.5 207.3 279.0 207.3 278.5 207.3 278.0 207.3 277.7 207.2 277.2 207.1 277.0 207.0 276.5 206.8 276.2 206.6 276.0 206.5 275.7 206.2 275.4 206.0 275.2 205.8 275.0 205.4 274.8 205.0 274.8 204.5 274.9 204.0 275.0 203.8 275.2 203.3 275.5 203.0 275.7 202.8 275.9 202.5 276.1 202.2 276.3 202.0 276.6 201.8 276.9 201.5 277.2 201.2 277.5 201.0 277.8 200.8 278.0 200.6 278.2 200.3 278.4 200.0 278.5 199.8 278.6 199.2 278.6 198.8 278.5 198.3 278.4 198.0 278.4 197.5 278.3 197.0 278.2 196.8 278.1 196.2 278.1 195.8 278.0 195.4 277.9 195.0 277.8 194.5 277.8 194.0 277.7 193.8 277.6 193.2 277.5 192.8 277.5 192.5 277.4 192.0 277.3 191.5 277.3 191.0 277.2 190.5 277.2 190.2 277.2 189.8 277.2 189.2 277.2 188.8 277.2 188.2 277.1 187.8 277.2 187.2 277.2 186.8 277.2 186.2 277.2 185.8 277.2 185.2 277.2 184.8 277.2 184.2 277.2 183.8 277.2 183.2 277.2 182.8 277.2 182.2 277.2 181.8 277.2 181.2 277.2 180.8 277.3 180.5 277.4 180.0 277.5 179.6 277.7 179.2 277.8 179.0 278.0 178.6 278.1 178.2 278.2 177.9 278.3 177.5 278.3 177.0 278.2 176.8 278.1 176.2 278.0 175.9 277.9 175.5 277.8 175.0 277.8 174.5 277.8 174.1 277.7 173.8 277.7 173.2 277.6 172.8 277.6 172.2 277.7 171.8 277.8 171.5 278.0 171.0 278.1 170.8 278.2 170.5 278.5 170.0 278.7 169.8 278.8 169.5 279.0 169.2 279.2 168.9 279.5 168.5 279.7 168.2 279.9 168.0 280.0 167.8 280.2 167.3 280.4 167.0 280.5 166.7 280.7 166.2 280.8 166.0 280.9 165.5 281.1 165.2 281.2 165.0 281.5 164.7 281.8 164.4 282.0 164.2 282.3 164.0 282.8 163.8 283.0 163.7 283.5 163.5 283.8 163.4 284.2 163.3 284.5 163.2 285.0 163.1 285.5 163.0 285.8 163.0 286.2 163.0 286.8 163.0 287.1 163.0 287.5 163.0 288.0 163.1 288.5 163.2 288.8 163.3 289.2 163.3 289.8 163.4 290.1 163.5 290.5 163.6 291.0 163.8 291.2 163.9 291.6 164.0 291.9 164.2 292.2 164.5 292.5 164.8 292.7 165.0 292.8 165.2 293.0 165.6 293.1 166.0 293.2 166.5 293.2 166.8 293.3 167.2 293.2 167.5 293.2 168.0 293.1 168.5 293.0 168.8 292.9 169.2 292.8 169.8 292.7 170.0 292.6 170.5 292.5 171.0 292.5 171.5 292.5 171.8 292.4 172.2 292.2 172.6 292.0 172.8 291.5 173.0 291.0 173.0 290.5 172.8 290.2 172.7 290.0 172.5 289.8 172.2 289.6 171.8 289.5 171.2 289.4 171.0 289.1 170.8 288.8 170.5 288.5 170.4 288.2 170.2 287.8 170.0 287.5 169.8 287.2 169.7 286.8 169.5 286.5 169.4 286.0 169.4 285.7 169.5 285.4 169.8 285.2 170.0 285.1 170.5 285.0 171.0 285.0 171.2 285.0 171.8 285.0 172.0 285.0 172.4 285.0 172.8 284.9 173.2 284.8 173.7 284.6 174.0 284.5 174.3 284.3 174.8 284.2 175.0 284.0 175.3 283.8 175.8 283.6 176.0 283.5 176.3 283.3 176.8 283.2 177.0 283.1 177.5 283.0 178.0 283.0 178.2 283.0 178.8 282.9 179.2 282.9 179.8 282.9 180.2 282.9 180.8 282.9 181.2 282.8 181.8 282.8 182.2 282.8 182.8 282.8 183.2 282.8 183.8 282.8 184.0 282.7 184.5 282.7 185.0 282.8 185.3 282.8 185.8 282.8 186.2 282.8 186.8 282.8 187.2 282.7 187.5 282.7 188.0 282.5 188.5 282.5 188.8 282.3 189.2 282.3 189.8 282.3 190.2 282.3 190.8 282.5 191.2 282.6 191.5 282.8 191.9 282.9 192.2 283.1 192.5 283.2 192.8 283.5 193.1 283.8 193.3 284.0 193.5 284.3 193.8 284.7 194.0 285.0 194.2 285.2 194.4 285.5 194.5 285.8 194.8 286.0 195.1 286.2 195.4 286.4 195.8 286.5 196.0 286.7 196.5 286.8 196.8 286.9 197.2 287.0 197.5 287.2 198.0 287.3 198.2 287.5 198.5 287.8 198.9 288.0 199.2 288.2 199.4 288.5 199.6 288.9 199.8 289.2 199.9 289.8 200.0 290.0 200.0 290.5 200.1 291.0 200.2 291.3 200.2 291.8 200.3 292.2 200.5 292.5 200.5 293.0 200.7 293.2 200.8 293.8 200.9 294.0 201.0 294.5 201.2 294.8 201.3 295.2 201.5 295.5 201.6 295.9 201.8 296.2 201.9 296.6 202.0 297.0 202.1 297.4 202.2 297.8 202.4 298.2 202.5 298.5 202.5 299.0 202.6 299.5 202.7 299.9 202.8 300.2 202.8 300.8 203.0 301.0 203.1 301.3 203.2 301.7 203.5 301.9 203.8 302.1 204.0 302.3 204.2 302.5 204.8 302.6 205.0 302.6 205.5 302.5 206.0 302.5 206.2 302.2 206.7 302.1 207.0 301.9 207.2 301.7 207.5 301.5 207.8 301.2 208.0 300.9 208.2 300.5 208.5 300.2 208.6 299.9 208.8 299.5 208.9 299.0 209.0 298.8 209.0ZM290.2 178.3 289.8 178.3 289.2 178.3 288.8 178.2 288.5 178.1 288.2 178.0 287.8 177.8 287.6 177.5 287.5 177.2 287.5 176.8 287.6 176.5 287.8 176.2 288.1 176.0 288.4 175.8 288.8 175.5 289.0 175.4 289.2 175.2 289.8 175.1 290.1 175.2 290.4 175.5 290.5 175.8 290.8 176.1 290.9 176.5 291.0 176.8 291.1 177.2 291.0 177.8 290.8 178.0 290.5 178.2 290.2 178.3ZM264.0 207.3 263.5 207.3 263.0 207.3 262.5 207.3 262.2 207.2 261.8 207.0 261.5 206.9 261.1 206.8 260.8 206.5 260.5 206.2 260.3 206.0 260.2 205.7 260.2 205.4 260.4 205.0 260.7 204.8 261.0 204.5 261.2 204.4 261.8 204.3 262.2 204.3 262.8 204.3 263.2 204.3 263.8 204.5 264.0 204.5 264.5 204.7 264.8 204.8 265.2 204.8 265.5 204.8 266.0 204.6 266.2 204.5 266.7 204.2 267.0 204.2 267.5 204.0 268.0 204.0 268.5 204.1 268.8 204.2 269.2 204.5 269.5 204.7 269.8 205.0 269.9 205.2 269.9 205.8 269.8 206.0 269.5 206.3 269.2 206.5 268.9 206.8 268.5 206.9 268.2 207.0 267.8 207.1 267.2 207.2 266.8 207.2 266.2 207.1 265.8 207.0 265.2 207.0 264.8 207.1 264.2 207.2 264.0 207.3Z"/>
<path fill="none" stroke="#777" stroke-width="0.50" d="M298.8 208.0 298.2 208.1 297.8 208.1 297.2 208.1 296.8 208.1 296.2 208.1 295.8 208.0 295.4 208.0 295.0 207.9 294.5 207.8 294.1 207.8 293.8 207.6 293.4 207.5 293.0 207.3 292.8 207.2 292.3 207.0 292.0 206.8 291.8 206.7 291.5 206.5 291.1 206.2 290.8 206.1 290.5 205.9 290.1 205.8 289.8 205.6 289.5 205.4 289.0 205.2 288.8 205.1 288.4 205.0 288.0 204.9 287.5 204.8 287.2 204.7 286.8 204.6 286.2 204.6 285.8 204.5 285.5 204.5 285.0 204.4 284.5 204.3 284.1 204.2 283.8 204.2 283.4 204.2 283.0 204.4 282.8 204.6 282.5 204.8 282.2 205.0 282.0 205.3 281.7 205.5 281.4 205.8 281.0 206.0 280.8 206.1 280.5 206.2 280.0 206.4 279.7 206.5 279.2 206.6 278.8 206.6 278.2 206.6 277.8 206.5 277.5 206.4 277.1 206.2 276.8 206.0 276.5 205.8 276.3 205.5 276.1 205.2 276.0 204.8 275.9 204.5 276.0 204.0 276.1 203.8 276.2 203.3 276.4 203.0 276.6 202.8 276.8 202.5 277.1 202.2 277.4 202.0 277.7 201.8 278.0 201.6 278.2 201.5 278.8 201.3 279.0 201.2 279.3 201.0 279.6 200.8 279.8 200.5 279.9 200.0 279.9 199.5 279.8 199.0 279.7 198.8 279.6 198.2 279.5 197.8 279.5 197.5 279.4 197.0 279.3 196.5 279.2 196.2 279.2 195.8 279.1 195.2 279.0 194.9 278.9 194.5 278.8 194.0 278.7 193.8 278.6 193.2 278.5 192.9 278.4 192.5 278.3 192.0 278.2 191.7 278.2 191.2 278.1 190.8 278.1 190.2 278.1 189.8 278.0 189.2 278.0 188.8 278.0 188.5 278.0 188.0 278.0 187.5 278.0 187.0 278.0 186.6 278.0 186.2 278.1 185.8 278.1 185.2 278.1 184.8 278.1 184.2 278.1 183.8 278.0 183.2 278.0 182.8 278.0 182.2 278.0 181.8 278.0 181.2 278.1 180.8 278.1 180.2 278.2 179.8 278.4 179.5 278.5 179.2 278.7 178.8 278.8 178.5 279.0 178.1 279.1 177.8 279.2 177.2 279.2 176.8 279.1 176.2 279.0 175.8 279.0 175.5 278.9 175.0 278.9 174.5 278.9 174.0 278.9 173.5 278.9 173.0 279.0 172.5 279.0 172.2 279.1 171.8 279.2 171.2 279.3 171.0 279.4 170.5 279.5 170.2 279.8 169.8 279.9 169.5 280.1 169.2 280.2 169.0 280.5 168.6 280.7 168.2 280.9 168.0 281.0 167.8 281.2 167.3 281.4 167.0 281.5 166.8 281.8 166.3 281.9 166.0 282.1 165.8 282.3 165.5 282.5 165.2 282.8 165.0 283.2 164.8 283.5 164.6 283.8 164.5 284.2 164.3 284.5 164.2 285.0 164.1 285.5 164.0 285.8 164.0 286.2 163.9 286.8 163.9 287.2 164.0 287.5 164.0 288.0 164.1 288.5 164.2 288.8 164.2 289.2 164.4 289.7 164.5 290.0 164.6 290.3 164.8 290.8 165.0 291.0 165.2 291.2 165.4 291.5 165.8 291.6 166.0 291.7 166.5 291.7 167.0 291.6 167.5 291.5 167.9 291.3 168.2 291.1 168.5 290.8 168.8 290.5 168.9 290.1 169.0 289.8 169.0 289.2 169.1 288.8 169.0 288.5 169.0 288.0 168.8 287.7 168.8 287.2 168.6 286.9 168.5 286.5 168.4 286.0 168.4 285.6 168.5 285.2 168.6 285.0 168.8 284.8 169.1 284.5 169.5 284.4 169.8 284.2 170.1 284.1 170.5 284.1 171.0 284.0 171.5 284.0 171.8 283.9 172.2 283.8 172.8 283.8 173.0 283.6 173.5 283.5 173.8 283.3 174.2 283.2 174.5 283.0 174.8 282.8 175.2 282.6 175.5 282.5 175.8 282.3 176.2 282.2 176.5 282.1 177.0 282.0 177.5 282.0 177.8 282.0 178.2 282.0 178.8 282.0 179.0 282.0 179.5 282.0 180.0 282.0 180.5 282.0 181.0 282.0 181.4 282.0 181.8 282.0 182.2 281.9 182.8 281.9 183.2 281.9 183.8 281.9 184.2 281.9 184.8 281.9 185.2 281.9 185.8 281.9 186.2 281.9 186.8 281.9 187.2 281.9 187.8 281.8 188.2 281.8 188.6 281.7 189.0 281.6 189.5 281.6 190.0 281.6 190.5 281.6 191.0 281.7 191.5 281.8 191.8 281.9 192.2 282.0 192.6 282.2 193.0 282.3 193.2 282.5 193.7 282.8 194.0 283.0 194.2 283.2 194.4 283.5 194.6 283.8 194.8 284.0 195.0 284.4 195.2 284.7 195.5 284.9 195.8 285.1 196.0 285.2 196.3 285.5 196.8 285.6 197.0 285.7 197.5 285.8 197.8 286.0 198.2 286.1 198.5 286.2 198.8 286.4 199.2 286.5 199.5 286.8 199.9 287.0 200.2 287.2 200.5 287.5 200.7 287.8 200.9 288.0 201.1 288.5 201.2 288.8 201.3 289.2 201.3 289.8 201.3 290.2 201.3 290.8 201.3 291.2 201.4 291.8 201.4 292.0 201.5 292.5 201.6 292.8 201.8 293.2 201.9 293.5 202.0 294.0 202.2 294.2 202.3 294.8 202.5 295.0 202.6 295.5 202.8 295.8 202.8 296.2 203.0 296.5 203.1 297.0 203.2 297.2 203.3 297.8 203.4 298.2 203.5 298.5 203.5 299.0 203.6 299.5 203.7 299.9 203.8 300.2 203.9 300.6 204.0 300.9 204.2 301.2 204.5 301.3 204.8 301.4 205.2 301.4 205.8 301.2 206.2 301.1 206.5 300.9 206.8 300.6 207.0 300.3 207.2 300.0 207.5 299.8 207.6 299.5 207.8 299.0 207.9 298.8 208.0Z"/>
<path fill="none" stroke="#707070" stroke-width="0.55" d="M281.0 175.8 280.5 175.9 280.2 175.6 280.1 175.2 280.0 175.0 279.8 174.5 279.8 174.0 279.8 173.5 279.8 173.0 279.8 172.5 279.9 172.0 280.0 171.5 280.0 171.2 280.2 170.8 280.3 170.5 280.5 170.1 280.7 169.8 280.8 169.5 281.0 169.2 281.2 168.9 281.5 168.6 281.7 168.2 281.9 168.0 282.0 167.8 282.2 167.3 282.4 167.0 282.6 166.8 282.8 166.5 283.0 166.2 283.2 165.9 283.5 165.7 283.9 165.5 284.2 165.3 284.5 165.2 285.0 165.0 285.2 164.9 285.8 164.8 286.2 164.8 286.5 164.7 287.0 164.7 287.2 164.8 287.8 164.8 288.2 165.0 288.5 165.0 289.0 165.2 289.2 165.3 289.6 165.5 289.9 165.8 290.1 166.0 290.2 166.3 290.3 166.8 290.2 167.0 290.0 167.4 289.8 167.6 289.5 167.8 289.0 167.9 288.5 167.9 288.0 167.9 287.5 167.8 287.1 167.8 286.8 167.7 286.2 167.6 285.8 167.6 285.2 167.7 285.0 167.8 284.7 168.0 284.4 168.2 284.1 168.5 284.0 168.8 283.8 169.1 283.6 169.5 283.5 169.8 283.4 170.2 283.3 170.8 283.2 171.0 283.2 171.5 283.1 172.0 283.0 172.5 282.9 172.8 282.8 173.2 282.6 173.5 282.5 173.8 282.2 174.2 282.1 174.5 281.9 174.8 281.7 175.0 281.5 175.3 281.2 175.6 281.0 175.8ZM286.0 202.6 285.5 202.7 285.0 202.6 284.6 202.5 284.2 202.4 284.0 202.2 283.5 202.0 283.2 201.9 283.0 201.8 282.5 201.5 282.2 201.4 282.0 201.1 281.8 200.8 281.6 200.5 281.5 200.2 281.3 199.8 281.2 199.5 281.0 199.1 280.9 198.8 280.8 198.5 280.6 198.0 280.5 197.7 280.4 197.2 280.3 196.8 280.3 196.2 280.3 195.8 280.3 195.2 280.3 194.8 280.2 194.5 280.1 194.0 280.0 193.8 279.8 193.3 279.6 193.0 279.5 192.8 279.3 192.2 279.2 192.0 279.1 191.5 279.0 191.2 278.9 190.8 278.9 190.2 278.8 189.8 278.8 189.2 278.7 189.0 278.7 188.5 278.7 188.0 278.7 187.5 278.7 187.0 278.7 186.5 278.8 186.1 278.8 185.8 278.8 185.2 278.8 184.8 278.8 184.2 278.8 183.8 278.8 183.2 278.8 182.8 278.7 182.5 278.7 182.0 278.7 181.5 278.8 181.0 278.8 180.8 278.9 180.2 279.0 179.8 279.1 179.5 279.3 179.2 279.5 178.9 279.8 178.5 280.0 178.2 280.2 178.0 280.5 177.9 280.8 178.1 281.0 178.5 281.1 178.8 281.2 179.2 281.2 179.8 281.3 180.0 281.3 180.5 281.3 181.0 281.3 181.5 281.3 182.0 281.2 182.2 281.2 182.8 281.2 183.2 281.1 183.8 281.1 184.2 281.1 184.8 281.1 185.2 281.1 185.8 281.2 186.2 281.2 186.8 281.2 187.2 281.2 187.8 281.1 188.2 281.1 188.8 281.0 189.1 280.9 189.5 280.9 190.0 280.9 190.5 280.9 191.0 280.9 191.5 281.0 192.0 281.0 192.5 281.0 193.0 281.0 193.5 281.0 193.8 281.2 194.2 281.5 194.5 281.7 194.8 282.0 195.0 282.2 195.1 282.5 195.3 282.8 195.5 283.1 195.8 283.3 196.0 283.5 196.2 283.7 196.8 283.7 197.2 283.6 197.8 283.8 198.1 284.0 198.3 284.5 198.5 284.8 198.7 285.0 199.0 285.1 199.2 285.3 199.5 285.4 200.0 285.5 200.3 285.6 200.8 285.8 201.1 285.9 201.5 286.0 201.8 286.1 202.2 286.0 202.6ZM279.2 206.1 278.8 206.1 278.2 206.1 277.9 206.0 277.5 205.8 277.2 205.7 277.0 205.4 276.8 205.1 276.6 204.8 276.6 204.2 276.6 203.8 276.8 203.5 277.0 203.0 277.2 202.8 277.5 202.5 277.8 202.3 278.0 202.2 278.5 202.0 278.8 201.9 279.2 201.9 279.8 201.8 280.2 201.8 280.8 201.9 281.2 202.0 281.5 202.2 281.7 202.5 281.8 202.8 281.8 203.2 281.8 203.8 281.7 204.0 281.5 204.5 281.4 204.8 281.2 205.0 280.9 205.2 280.6 205.5 280.2 205.7 280.0 205.8 279.5 206.0 279.2 206.1ZM297.2 207.3 296.8 207.3 296.4 207.2 296.0 207.2 295.5 207.2 295.0 207.1 294.5 207.0 294.2 206.9 293.8 206.8 293.5 206.6 293.2 206.5 292.8 206.2 292.5 206.1 292.2 205.9 292.0 205.7 291.7 205.5 291.3 205.2 291.0 205.1 290.8 204.9 290.5 204.8 290.1 204.5 289.8 204.2 289.5 204.0 289.3 203.8 289.2 203.5 289.2 203.1 289.5 202.8 289.8 202.7 290.2 202.5 290.5 202.4 291.0 202.4 291.5 202.4 291.8 202.5 292.2 202.6 292.7 202.8 293.0 202.8 293.4 203.0 293.8 203.1 294.1 203.2 294.5 203.4 294.8 203.5 295.2 203.6 295.6 203.8 296.0 203.9 296.4 204.0 296.8 204.1 297.2 204.2 297.5 204.3 298.0 204.4 298.5 204.5 298.8 204.5 299.2 204.6 299.6 204.8 300.0 205.0 300.1 205.2 300.1 205.8 300.0 206.0 299.8 206.3 299.5 206.5 299.2 206.8 298.8 207.0 298.5 207.0 298.0 207.2 297.5 207.2 297.2 207.3Z"/></g>
<g clip-path="url(#cd1)"><path fill="#000" stroke="#808080" stroke-width="0.40" fill-opacity="0.03" d="M303.2 211.3 302.8 211.3 302.2 211.3 301.8 211.3 301.5 211.2 301.0 211.2 300.5 211.0 300.2 210.9 299.8 210.8 299.5 210.6 299.2 210.5 298.8 210.2 298.5 210.1 298.2 209.9 298.0 209.7 297.8 209.5 297.5 209.2 297.2 209.0 297.0 208.8 296.8 208.5 296.5 208.2 296.2 207.8 296.1 207.5 296.0 207.2 295.8 206.8 295.7 206.5 295.6 206.0 295.6 205.5 295.7 205.0 295.7 204.5 295.8 204.2 295.8 203.8 295.8 203.2 295.9 202.8 295.8 202.2 295.8 201.8 295.8 201.4 295.7 201.0 295.5 200.5 295.4 200.2 295.2 199.8 295.1 199.5 295.0 199.2 294.8 198.8 294.6 198.5 294.5 198.2 294.2 197.9 294.1 197.5 294.0 197.2 293.8 196.8 293.6 196.5 293.5 196.2 293.2 195.8 293.1 195.5 292.9 195.2 292.8 195.0 292.5 194.6 292.3 194.2 292.1 194.0 292.0 193.8 291.8 193.4 291.6 193.0 291.4 192.8 291.3 192.2 291.2 192.0 291.1 191.5 291.0 191.0 291.0 190.8 291.0 190.2 291.0 189.8 291.0 189.3 291.1 189.0 291.2 188.6 291.5 188.4 292.0 188.4 292.3 188.5 292.6 188.8 292.8 189.0 293.1 189.2 293.3 189.5 293.7 189.8 294.0 189.9 294.5 189.8 294.8 189.5 294.9 189.2 295.0 189.0 295.2 188.5 295.2 188.0 295.1 187.5 294.9 187.2 294.6 187.0 294.3 186.8 294.0 186.5 293.8 186.2 293.7 186.0 293.5 185.5 293.5 185.2 293.4 184.8 293.3 184.2 293.2 184.0 293.1 183.5 293.0 183.0 292.9 182.8 292.8 182.2 292.8 181.9 292.6 181.5 292.5 181.1 292.3 180.8 292.2 180.5 292.0 180.2 291.8 179.9 291.5 179.5 291.3 179.2 291.2 179.0 291.1 178.5 291.0 178.0 291.0 177.8 291.0 177.2 291.0 176.8 291.0 176.5 291.1 176.0 291.1 175.5 291.2 175.0 291.2 174.7 291.3 174.2 291.4 173.8 291.5 173.3 291.6 173.0 291.7 172.5 291.8 172.1 291.8 171.8 291.9 171.2 292.0 171.0 292.1 170.5 292.2 170.1 292.3 169.8 292.5 169.2 292.6 169.0 292.7 168.5 292.8 168.2 293.0 167.8 293.1 167.5 293.2 167.1 293.4 166.8 293.5 166.4 293.7 166.0 293.8 165.8 294.0 165.3 294.2 165.0 294.3 164.8 294.5 164.4 294.7 164.0 294.8 163.8 295.0 163.5 295.2 163.1 295.5 162.8 295.7 162.5 295.9 162.2 296.1 162.0 296.3 161.8 296.5 161.5 296.8 161.2 297.0 160.9 297.2 160.7 297.5 160.5 297.8 160.2 298.1 160.0 298.5 159.8 298.8 159.6 299.0 159.5 299.5 159.3 299.8 159.2 300.2 159.1 300.8 159.0 301.2 159.0 301.8 159.1 302.2 159.1 302.7 159.2 303.0 159.3 303.5 159.5 303.8 159.6 304.2 159.8 304.5 159.9 304.8 160.0 305.2 160.2 305.5 160.4 305.8 160.6 306.0 160.8 306.3 161.0 306.5 161.2 306.8 161.5 307.0 161.8 307.2 162.0 307.5 162.3 307.8 162.6 308.0 162.8 308.2 163.1 308.5 163.3 308.8 163.6 309.0 163.9 309.2 164.2 309.4 164.5 309.6 164.8 309.7 165.2 309.8 165.5 309.9 166.0 309.9 166.5 310.0 167.0 310.0 167.5 310.0 167.8 310.2 168.2 310.2 168.5 310.4 169.0 310.5 169.2 310.7 169.8 310.8 170.0 311.0 170.5 311.1 170.8 311.2 171.2 311.3 171.5 311.4 172.0 311.5 172.5 311.5 172.8 311.6 173.2 311.6 173.8 311.7 174.2 311.7 174.8 311.8 175.2 311.8 175.5 311.8 176.0 311.9 176.5 312.0 177.0 312.1 177.2 312.2 177.8 312.2 178.0 312.4 178.5 312.5 178.8 312.7 179.2 312.8 179.5 312.9 180.0 313.0 180.4 313.1 180.8 313.2 181.2 313.2 181.8 313.2 182.2 313.2 182.8 313.2 183.2 313.2 183.5 313.3 184.0 313.3 184.5 313.4 185.0 313.4 185.5 313.5 186.0 313.5 186.5 313.5 187.0 313.4 187.5 313.4 188.0 313.3 188.5 313.2 188.8 313.1 189.2 313.0 189.7 312.9 190.0 312.8 190.5 312.7 190.8 312.6 191.2 312.5 191.8 312.5 192.0 312.4 192.5 312.3 193.0 312.3 193.5 312.2 193.8 312.2 194.2 312.1 194.8 312.0 195.1 311.9 195.5 311.9 196.0 311.8 196.5 311.7 196.8 311.7 197.2 311.6 197.8 311.5 198.2 311.5 198.5 311.4 199.0 311.3 199.5 311.2 199.8 311.1 200.2 311.0 200.7 310.9 201.0 310.8 201.5 310.7 201.8 310.6 202.2 310.5 202.6 310.4 203.0 310.2 203.4 310.1 203.8 310.0 204.1 309.9 204.5 309.8 204.8 309.6 205.2 309.5 205.5 309.2 205.9 309.1 206.2 309.0 206.5 308.8 206.9 308.6 207.2 308.4 207.5 308.2 207.8 308.0 208.1 307.8 208.5 307.5 208.8 307.3 209.0 307.1 209.2 306.8 209.5 306.6 209.8 306.2 210.0 306.0 210.2 305.8 210.4 305.5 210.5 305.0 210.8 304.8 210.9 304.4 211.0 304.0 211.1 303.5 211.2 303.2 211.3Z"/>
<path fill="#000" stroke="#717171" stroke-width="0.46" fill-opacity="0.04" d="M304.2 209.5 303.8 209.7 303.2 209.7 302.8 209.7 302.2 209.7 301.8 209.6 301.3 209.5 301.0 209.4 300.6 209.2 300.2 209.1 300.0 209.0 299.6 208.8 299.2 208.5 299.0 208.3 298.8 208.2 298.5 208.0 298.2 207.7 298.0 207.5 297.8 207.2 297.5 206.9 297.2 206.5 297.1 206.2 297.0 206.0 296.8 205.5 296.7 205.2 296.6 204.8 296.5 204.2 296.5 203.8 296.5 203.5 296.4 203.0 296.4 202.5 296.3 202.0 296.2 201.6 296.2 201.2 296.0 200.8 296.0 200.5 295.8 200.0 295.7 199.8 295.5 199.3 295.4 199.0 295.2 198.8 295.0 198.2 294.9 198.0 294.8 197.7 294.5 197.2 294.4 197.0 294.2 196.6 294.1 196.2 294.0 195.9 293.8 195.5 293.7 195.2 293.5 194.8 293.5 194.5 293.3 194.0 293.2 193.8 293.1 193.2 293.1 192.8 293.2 192.3 293.5 192.0 293.8 191.9 294.0 191.8 294.3 191.5 294.6 191.2 294.8 190.9 294.9 190.5 295.0 190.2 295.1 189.8 295.2 189.4 295.4 189.0 295.5 188.5 295.5 188.0 295.3 187.5 295.2 187.2 295.0 187.0 294.7 186.8 294.4 186.5 294.2 186.2 294.0 186.0 293.8 185.5 293.7 185.2 293.6 184.8 293.5 184.4 293.4 184.0 293.3 183.5 293.2 183.2 293.2 182.8 293.1 182.2 293.0 181.8 293.0 181.5 292.8 181.0 292.8 180.7 292.6 180.2 292.5 180.0 292.2 179.5 292.1 179.2 292.0 178.9 291.9 178.5 291.8 178.0 291.8 177.5 291.7 177.2 291.8 177.0 291.8 176.5 291.8 176.0 291.9 175.5 291.9 175.0 292.0 174.6 292.1 174.2 292.2 173.8 292.2 173.2 292.3 173.0 292.4 172.5 292.5 172.1 292.6 171.8 292.7 171.2 292.8 171.0 292.9 170.5 293.0 170.1 293.1 169.8 293.2 169.3 293.4 169.0 293.5 168.6 293.6 168.2 293.8 167.9 293.9 167.5 294.0 167.2 294.2 166.8 294.3 166.5 294.5 166.1 294.7 165.8 294.8 165.5 295.0 165.2 295.2 164.8 295.4 164.5 295.6 164.2 295.8 164.0 296.0 163.6 296.2 163.3 296.5 163.0 296.7 162.8 296.9 162.5 297.2 162.2 297.4 162.0 297.7 161.8 298.0 161.5 298.2 161.4 298.5 161.2 298.8 161.0 299.2 160.8 299.5 160.7 300.0 160.5 300.2 160.5 300.8 160.4 301.2 160.4 301.8 160.4 302.2 160.4 302.8 160.4 303.2 160.5 303.5 160.5 304.0 160.6 304.5 160.8 304.8 160.8 305.1 161.0 305.5 161.2 305.8 161.4 306.0 161.6 306.2 161.9 306.5 162.1 306.8 162.4 307.0 162.7 307.2 162.9 307.5 163.2 307.8 163.4 308.0 163.7 308.2 163.9 308.5 164.2 308.7 164.5 308.9 164.8 309.0 165.0 309.2 165.5 309.2 166.0 309.2 166.5 309.2 167.0 309.2 167.5 309.2 167.9 309.3 168.2 309.5 168.7 309.6 169.0 309.8 169.3 310.0 169.8 310.1 170.0 310.2 170.4 310.4 170.8 310.5 171.1 310.6 171.5 310.7 172.0 310.8 172.2 310.9 172.8 310.9 173.2 310.9 173.8 311.0 174.2 311.0 174.8 311.0 175.0 311.1 175.5 311.1 176.0 311.2 176.5 311.2 176.8 311.3 177.2 311.5 177.8 311.6 178.0 311.7 178.5 311.8 178.8 312.0 179.2 312.1 179.5 312.2 179.8 312.4 180.2 312.5 180.6 312.6 181.0 312.7 181.5 312.7 182.0 312.7 182.5 312.7 183.0 312.7 183.5 312.7 184.0 312.8 184.5 312.8 184.8 312.8 185.2 312.9 185.8 312.9 186.2 312.9 186.8 312.9 187.2 312.9 187.8 312.8 188.2 312.7 188.5 312.6 189.0 312.5 189.3 312.4 189.8 312.2 190.1 312.1 190.5 312.0 191.0 311.9 191.2 311.8 191.8 311.8 192.2 311.8 192.5 311.7 193.0 311.6 193.5 311.6 194.0 311.5 194.3 311.4 194.8 311.3 195.2 311.2 195.6 311.2 196.0 311.1 196.5 311.0 197.0 311.0 197.2 310.9 197.8 310.8 198.2 310.8 198.6 310.7 199.0 310.6 199.5 310.5 199.8 310.4 200.2 310.3 200.8 310.2 201.0 310.1 201.5 310.0 201.8 309.9 202.2 309.8 202.6 309.6 203.0 309.5 203.3 309.3 203.8 309.2 204.0 309.0 204.5 308.9 204.8 308.8 205.1 308.6 205.5 308.4 205.8 308.2 206.0 308.0 206.5 307.8 206.8 307.6 207.0 307.4 207.2 307.2 207.5 307.0 207.8 306.8 208.0 306.5 208.3 306.2 208.5 305.9 208.8 305.5 209.0 305.2 209.1 305.0 209.3 304.5 209.5 304.2 209.5Z"/>
<path fill="#000" stroke="#636363" stroke-width="0.51" fill-opacity="0.04" d="M304.0 208.3 303.5 208.3 303.0 208.4 302.5 208.3 302.2 208.2 301.8 208.1 301.4 208.0 301.0 207.8 300.8 207.7 300.4 207.5 300.0 207.2 299.8 207.0 299.5 206.8 299.2 206.6 299.0 206.4 298.8 206.1 298.5 205.8 298.3 205.5 298.1 205.2 297.9 205.0 297.8 204.6 297.6 204.2 297.5 204.0 297.3 203.5 297.2 203.2 297.1 202.8 297.0 202.2 297.0 202.0 296.8 201.5 296.8 201.2 296.6 200.8 296.5 200.3 296.4 200.0 296.2 199.7 296.1 199.2 296.0 199.0 295.8 198.5 295.7 198.2 295.5 197.9 295.3 197.5 295.2 197.2 295.1 196.8 295.0 196.5 294.8 196.0 294.7 195.8 294.6 195.2 294.5 194.8 294.5 194.5 294.5 194.0 294.5 193.7 294.6 193.2 294.8 193.0 295.0 192.5 295.1 192.2 295.2 191.8 295.3 191.5 295.4 191.0 295.4 190.5 295.5 190.1 295.5 189.8 295.6 189.2 295.7 188.8 295.8 188.3 295.8 188.2 295.7 187.8 295.5 187.3 295.3 187.0 295.1 186.8 294.8 186.5 294.6 186.2 294.4 186.0 294.2 185.8 294.0 185.4 293.9 185.0 293.8 184.6 293.7 184.2 293.6 183.8 293.5 183.2 293.5 183.0 293.4 182.5 293.4 182.0 293.3 181.5 293.2 181.2 293.2 180.8 293.0 180.2 293.0 180.0 292.8 179.5 292.8 179.2 292.6 178.8 292.5 178.2 292.5 178.0 292.5 177.5 292.5 177.0 292.5 176.5 292.5 176.2 292.6 175.8 292.6 175.2 292.7 174.8 292.8 174.4 292.8 174.0 292.9 173.5 293.0 173.1 293.1 172.8 293.2 172.2 293.2 172.0 293.4 171.5 293.5 171.0 293.6 170.8 293.7 170.2 293.8 170.0 294.0 169.5 294.0 169.2 294.2 168.8 294.3 168.5 294.5 168.0 294.6 167.8 294.8 167.5 295.0 167.0 295.1 166.8 295.2 166.4 295.5 166.0 295.6 165.8 295.8 165.5 296.0 165.2 296.2 164.8 296.5 164.5 296.7 164.2 296.9 164.0 297.1 163.8 297.4 163.5 297.6 163.2 297.9 163.0 298.2 162.8 298.5 162.6 298.8 162.4 299.1 162.2 299.5 162.1 299.8 162.0 300.2 161.8 300.7 161.8 301.0 161.7 301.5 161.6 302.0 161.5 302.2 161.5 302.8 161.4 303.2 161.3 303.8 161.3 304.2 161.4 304.5 161.5 305.0 161.7 305.2 161.8 305.5 162.0 305.8 162.2 306.1 162.5 306.3 162.8 306.5 163.0 306.8 163.2 307.0 163.5 307.3 163.8 307.5 164.0 307.8 164.3 308.0 164.6 308.2 165.0 308.4 165.2 308.5 165.8 308.5 166.0 308.5 166.4 308.5 166.8 308.4 167.2 308.3 167.8 308.4 168.2 308.5 168.5 308.8 169.0 308.9 169.2 309.0 169.5 309.2 169.9 309.4 170.2 309.6 170.5 309.8 171.0 309.9 171.2 310.0 171.8 310.0 172.0 310.1 172.5 310.2 173.0 310.2 173.5 310.2 174.0 310.2 174.5 310.2 175.0 310.2 175.5 310.3 175.8 310.4 176.2 310.5 176.8 310.5 177.0 310.6 177.5 310.8 177.8 310.9 178.2 311.0 178.5 311.2 179.0 311.4 179.2 311.5 179.6 311.7 180.0 311.8 180.2 311.9 180.8 312.0 181.0 312.1 181.5 312.1 182.0 312.1 182.5 312.1 183.0 312.1 183.5 312.1 184.0 312.1 184.5 312.2 185.0 312.2 185.5 312.3 185.8 312.3 186.2 312.3 186.8 312.3 187.2 312.2 187.7 312.2 188.0 312.1 188.5 312.0 188.8 311.8 189.2 311.7 189.5 311.6 190.0 311.5 190.2 311.3 190.8 311.2 191.0 311.2 191.5 311.1 192.0 311.1 192.5 311.0 193.0 311.0 193.3 310.9 193.8 310.8 194.2 310.8 194.7 310.7 195.0 310.6 195.5 310.5 196.0 310.5 196.2 310.4 196.8 310.3 197.2 310.2 197.6 310.2 198.0 310.1 198.5 310.0 199.0 309.9 199.2 309.8 199.8 309.8 200.1 309.7 200.5 309.5 201.0 309.5 201.2 309.3 201.8 309.2 202.0 309.0 202.5 309.0 202.8 308.8 203.2 308.7 203.5 308.5 203.8 308.3 204.2 308.2 204.5 308.0 204.8 307.8 205.2 307.6 205.5 307.4 205.8 307.2 206.0 307.0 206.3 306.8 206.6 306.5 206.9 306.2 207.1 306.0 207.3 305.7 207.5 305.3 207.8 305.0 207.9 304.8 208.0 304.2 208.2 304.0 208.3Z"/>
<path fill="#000" stroke="#555555" stroke-width="0.57" fill-opacity="0.04" d="M304.0 207.1 303.5 207.1 303.0 207.1 302.5 207.0 302.2 207.0 301.8 206.8 301.5 206.7 301.1 206.5 300.8 206.2 300.5 206.1 300.2 205.9 300.0 205.6 299.8 205.4 299.5 205.1 299.2 204.8 299.0 204.5 298.9 204.2 298.7 204.0 298.5 203.6 298.3 203.2 298.2 203.0 298.0 202.6 297.9 202.2 297.8 201.9 297.6 201.5 297.5 201.2 297.4 200.8 297.2 200.4 297.1 200.0 297.0 199.7 296.8 199.2 296.7 199.0 296.5 198.5 296.4 198.2 296.2 197.8 296.2 197.5 296.0 197.0 295.9 196.8 295.8 196.2 295.7 196.0 295.6 195.5 295.5 195.0 295.5 194.8 295.5 194.2 295.5 193.9 295.5 193.5 295.6 193.0 295.7 192.5 295.8 192.2 295.8 191.8 295.9 191.2 295.9 190.8 295.9 190.2 295.9 189.8 296.0 189.2 296.0 189.0 296.0 188.5 296.0 188.0 296.0 187.8 295.8 187.2 295.7 187.0 295.5 186.8 295.2 186.5 295.0 186.2 294.8 186.0 294.5 185.6 294.3 185.2 294.2 185.0 294.0 184.5 294.0 184.2 293.9 183.8 293.8 183.2 293.8 182.8 293.7 182.5 293.7 182.0 293.7 181.5 293.6 181.0 293.5 180.5 293.5 180.2 293.4 179.8 293.3 179.2 293.2 178.9 293.2 178.5 293.1 178.0 293.1 177.5 293.1 177.0 293.2 176.5 293.2 176.0 293.2 175.7 293.3 175.2 293.4 174.8 293.5 174.2 293.5 174.0 293.6 173.5 293.7 173.0 293.8 172.8 293.9 172.2 294.0 171.8 294.1 171.5 294.2 171.0 294.3 170.8 294.5 170.2 294.5 170.0 294.7 169.5 294.8 169.2 295.0 168.8 295.1 168.5 295.2 168.2 295.5 167.8 295.6 167.5 295.8 167.2 296.0 166.8 296.2 166.5 296.3 166.2 296.5 166.0 296.8 165.6 297.0 165.3 297.2 165.0 297.5 164.8 297.8 164.5 298.0 164.3 298.2 164.1 298.5 163.9 298.8 163.8 299.2 163.5 299.5 163.4 300.0 163.2 300.2 163.2 300.8 163.0 301.0 162.9 301.5 162.8 301.8 162.7 302.1 162.5 302.5 162.3 302.8 162.2 303.2 162.1 303.8 162.1 304.2 162.1 304.7 162.2 305.0 162.4 305.2 162.6 305.5 162.8 305.8 163.0 306.0 163.2 306.2 163.5 306.5 163.8 306.8 164.1 307.0 164.3 307.2 164.7 307.5 165.0 307.6 165.2 307.7 165.8 307.7 166.2 307.6 166.8 307.5 167.0 307.4 167.5 307.3 168.0 307.5 168.5 307.6 168.8 307.8 169.0 308.0 169.3 308.2 169.7 308.4 170.0 308.6 170.2 308.8 170.5 309.0 171.0 309.1 171.2 309.2 171.8 309.3 172.0 309.4 172.5 309.4 173.0 309.4 173.5 309.3 174.0 309.3 174.5 309.2 174.8 309.3 175.0 309.3 175.5 309.4 176.0 309.5 176.4 309.6 176.8 309.7 177.2 309.8 177.5 310.0 178.0 310.1 178.2 310.2 178.6 310.5 179.0 310.6 179.2 310.8 179.5 311.0 180.0 311.1 180.2 311.2 180.7 311.3 181.0 311.4 181.5 311.4 182.0 311.4 182.5 311.4 183.0 311.3 183.5 311.3 184.0 311.3 184.5 311.4 185.0 311.5 185.5 311.5 185.8 311.6 186.2 311.6 186.8 311.6 187.2 311.5 187.6 311.4 188.0 311.3 188.5 311.2 188.8 311.0 189.2 310.9 189.5 310.8 189.9 310.6 190.2 310.5 190.7 310.4 191.0 310.4 191.5 310.4 192.0 310.4 192.5 310.3 193.0 310.3 193.5 310.2 193.8 310.2 194.2 310.1 194.8 310.0 195.0 309.9 195.5 309.8 196.0 309.8 196.4 309.7 196.8 309.6 197.2 309.6 197.8 309.5 198.1 309.4 198.5 309.3 199.0 309.2 199.4 309.2 199.8 309.0 200.2 309.0 200.5 308.8 201.0 308.7 201.2 308.6 201.8 308.5 202.0 308.3 202.5 308.2 202.8 308.0 203.2 307.8 203.5 307.7 203.8 307.5 204.1 307.3 204.5 307.1 204.8 306.9 205.0 306.7 205.2 306.5 205.5 306.2 205.8 306.0 206.0 305.7 206.2 305.4 206.5 305.0 206.7 304.8 206.8 304.2 207.0 304.0 207.1Z"/>
<path fill="#000" stroke="#474747" stroke-width="0.63" fill-opacity="0.04" d="M304.5 205.8 304.0 205.9 303.5 206.0 303.0 206.0 302.5 205.9 302.2 205.8 301.8 205.6 301.5 205.4 301.2 205.2 300.9 205.0 300.6 204.8 300.4 204.5 300.2 204.2 300.0 204.0 299.8 203.7 299.5 203.4 299.3 203.0 299.1 202.8 299.0 202.5 298.8 202.0 298.6 201.8 298.5 201.4 298.3 201.0 298.2 200.8 298.0 200.2 297.9 200.0 297.8 199.5 297.6 199.2 297.5 198.9 297.4 198.5 297.2 198.2 297.1 197.8 297.0 197.4 296.9 197.0 296.8 196.5 296.7 196.2 296.6 195.8 296.5 195.2 296.5 195.0 296.4 194.5 296.4 194.0 296.4 193.5 296.4 193.0 296.4 192.5 296.4 192.0 296.4 191.5 296.4 191.0 296.4 190.5 296.3 190.0 296.4 189.5 296.4 189.0 296.4 188.5 296.4 188.0 296.3 187.5 296.2 187.2 296.0 186.9 295.8 186.6 295.5 186.3 295.2 186.0 295.0 185.8 294.8 185.5 294.7 185.2 294.5 184.8 294.4 184.5 294.3 184.0 294.2 183.8 294.2 183.2 294.1 182.8 294.1 182.2 294.1 181.8 294.0 181.2 294.0 180.8 294.0 180.5 293.9 180.0 293.9 179.5 293.8 179.0 293.8 178.5 293.8 178.0 293.8 177.5 293.8 177.0 293.8 176.5 293.9 176.0 294.0 175.5 294.0 175.2 294.1 174.8 294.2 174.2 294.2 173.8 294.3 173.5 294.4 173.0 294.5 172.7 294.6 172.2 294.7 171.8 294.8 171.5 295.0 171.0 295.1 170.8 295.2 170.2 295.3 170.0 295.5 169.6 295.6 169.2 295.8 169.0 296.0 168.5 296.1 168.2 296.3 168.0 296.5 167.6 296.7 167.2 296.9 167.0 297.1 166.8 297.3 166.5 297.5 166.2 297.8 165.9 298.0 165.7 298.2 165.5 298.6 165.2 299.0 165.0 299.2 164.8 299.5 164.7 300.0 164.6 300.2 164.5 300.8 164.3 301.0 164.2 301.5 164.0 301.8 163.9 302.0 163.7 302.3 163.5 302.7 163.2 303.0 163.1 303.2 163.0 303.8 162.9 304.2 162.9 304.6 163.0 305.0 163.2 305.2 163.4 305.5 163.6 305.8 163.9 306.0 164.2 306.2 164.5 306.4 164.8 306.5 165.0 306.7 165.5 306.7 166.0 306.6 166.5 306.5 166.8 306.2 167.2 306.2 167.5 306.2 168.0 306.2 168.3 306.5 168.8 306.6 169.0 306.8 169.2 307.0 169.5 307.3 169.8 307.5 170.1 307.8 170.4 308.0 170.8 308.1 171.0 308.3 171.2 308.4 171.8 308.5 172.1 308.5 172.5 308.5 173.0 308.5 173.2 308.4 173.8 308.3 174.2 308.2 174.6 308.2 175.0 308.2 175.4 308.3 175.8 308.4 176.2 308.5 176.5 308.7 177.0 308.8 177.2 308.9 177.8 309.0 178.0 309.2 178.4 309.4 178.8 309.6 179.0 309.8 179.3 310.0 179.7 310.1 180.0 310.3 180.2 310.5 180.8 310.6 181.0 310.7 181.5 310.7 182.0 310.6 182.5 310.5 183.0 310.5 183.2 310.3 183.8 310.3 184.2 310.3 184.8 310.4 185.2 310.5 185.8 310.5 186.0 310.6 186.5 310.6 187.0 310.5 187.5 310.4 187.8 310.3 188.2 310.2 188.5 310.0 189.0 310.0 189.2 309.8 189.8 309.7 190.0 309.6 190.5 309.6 191.0 309.6 191.5 309.6 192.0 309.6 192.5 309.6 193.0 309.6 193.5 309.5 194.0 309.5 194.2 309.4 194.8 309.3 195.2 309.2 195.5 309.1 196.0 309.1 196.5 309.0 197.0 309.0 197.2 308.9 197.8 308.8 198.2 308.8 198.6 308.7 199.0 308.6 199.5 308.5 199.8 308.4 200.2 308.2 200.6 308.1 201.0 308.0 201.4 307.9 201.8 307.7 202.0 307.5 202.5 307.4 202.8 307.2 203.0 307.0 203.5 306.8 203.8 306.6 204.0 306.5 204.2 306.2 204.5 306.0 204.8 305.7 205.0 305.4 205.2 305.0 205.5 304.8 205.7 304.5 205.8Z"/>
<path fill="#000" stroke="#383838" stroke-width="0.69" fill-opacity="0.04" d="M304.0 204.8 303.5 204.8 303.0 204.8 302.7 204.8 302.2 204.6 302.0 204.5 301.6 204.2 301.3 204.0 301.0 203.8 300.8 203.5 300.6 203.2 300.4 203.0 300.2 202.8 300.0 202.4 299.8 202.0 299.6 201.8 299.5 201.5 299.3 201.0 299.1 200.8 299.0 200.4 298.8 200.0 298.7 199.8 298.5 199.2 298.4 199.0 298.2 198.5 298.1 198.2 298.0 197.8 297.9 197.5 297.8 197.0 297.7 196.8 297.6 196.2 297.5 195.8 297.5 195.5 297.4 195.0 297.3 194.5 297.2 194.1 297.2 193.8 297.2 193.2 297.1 192.8 297.1 192.2 297.0 191.8 297.0 191.5 296.9 191.0 296.9 190.5 296.8 190.0 296.8 189.5 296.8 189.0 296.8 188.5 296.8 188.0 296.7 187.8 296.6 187.2 296.5 187.0 296.2 186.6 296.0 186.3 295.8 186.0 295.6 185.8 295.4 185.5 295.2 185.2 295.0 184.9 294.8 184.5 294.8 184.2 294.7 183.8 294.6 183.2 294.6 182.8 294.5 182.2 294.5 181.8 294.5 181.2 294.5 180.8 294.5 180.5 294.5 180.0 294.5 179.5 294.4 179.0 294.4 178.5 294.4 178.0 294.5 177.5 294.5 177.0 294.5 176.8 294.6 176.2 294.6 175.8 294.7 175.2 294.8 174.9 294.8 174.5 294.9 174.0 295.0 173.6 295.1 173.2 295.2 172.8 295.3 172.5 295.4 172.0 295.5 171.8 295.7 171.2 295.8 171.0 296.0 170.5 296.1 170.2 296.2 169.8 296.4 169.5 296.5 169.2 296.8 168.9 297.0 168.5 297.1 168.2 297.3 168.0 297.5 167.7 297.8 167.4 298.0 167.2 298.2 166.9 298.5 166.7 298.8 166.5 299.2 166.2 299.5 166.1 299.8 166.0 300.2 165.9 300.8 165.8 301.0 165.7 301.5 165.6 301.8 165.5 302.2 165.3 302.5 165.0 302.7 164.8 303.0 164.5 303.2 164.2 303.5 164.1 303.8 164.0 304.2 163.9 304.5 164.0 304.8 164.2 305.1 164.5 305.3 164.8 305.5 165.2 305.5 165.8 305.2 166.2 305.1 166.5 304.9 166.8 304.7 167.0 304.6 167.5 304.7 168.0 304.8 168.2 305.0 168.5 305.2 168.9 305.5 169.2 305.8 169.5 306.0 169.7 306.2 170.0 306.5 170.2 306.8 170.5 307.0 170.8 307.2 171.0 307.3 171.2 307.5 171.6 307.6 172.0 307.7 172.5 307.7 173.0 307.6 173.5 307.5 174.0 307.5 174.2 307.4 174.8 307.3 175.2 307.3 175.8 307.4 176.2 307.5 176.5 307.7 177.0 307.8 177.3 307.9 177.8 308.0 178.0 308.2 178.5 308.4 178.8 308.5 179.0 308.8 179.4 309.0 179.8 309.1 180.0 309.3 180.2 309.5 180.7 309.6 181.0 309.7 181.5 309.7 182.0 309.5 182.5 309.4 182.8 309.2 183.1 309.0 183.5 308.9 183.8 308.7 184.0 308.6 184.5 308.7 185.0 308.8 185.2 308.9 185.8 309.0 186.1 309.1 186.5 309.1 187.0 309.1 187.5 309.0 188.0 308.9 188.2 308.8 188.8 308.8 189.2 308.7 189.5 308.6 190.0 308.6 190.5 308.6 191.0 308.7 191.5 308.8 192.0 308.8 192.2 308.9 192.8 308.9 193.2 308.8 193.8 308.8 194.2 308.7 194.5 308.6 195.0 308.5 195.5 308.5 195.8 308.4 196.2 308.4 196.8 308.3 197.2 308.2 197.6 308.2 198.0 308.1 198.5 308.0 199.0 307.9 199.2 307.8 199.8 307.7 200.0 307.6 200.5 307.5 200.8 307.3 201.2 307.2 201.5 307.0 201.9 306.8 202.2 306.7 202.5 306.5 202.8 306.2 203.1 306.0 203.5 305.8 203.7 305.5 204.0 305.2 204.2 305.0 204.4 304.7 204.5 304.2 204.7 304.0 204.8Z"/>
<path fill="#000" stroke="#2a2a2a" stroke-width="0.74" fill-opacity="0.04" d="M304.2 203.5 303.8 203.7 303.2 203.7 302.8 203.6 302.5 203.5 302.1 203.2 301.8 203.0 301.5 202.8 301.2 202.6 301.0 202.3 300.8 202.0 300.6 201.8 300.5 201.5 300.2 201.1 300.1 200.8 299.9 200.5 299.8 200.1 299.6 199.8 299.5 199.5 299.3 199.0 299.2 198.8 299.0 198.2 298.9 198.0 298.8 197.5 298.7 197.2 298.6 196.8 298.5 196.2 298.5 196.0 298.4 195.5 298.3 195.0 298.2 194.8 298.1 194.2 298.1 193.8 298.0 193.2 298.0 193.0 297.9 192.5 297.8 192.0 297.8 191.5 297.7 191.2 297.6 190.8 297.5 190.3 297.5 190.0 297.4 189.5 297.4 189.0 297.4 188.5 297.3 188.0 297.2 187.7 297.1 187.2 297.0 187.0 296.8 186.6 296.5 186.2 296.3 186.0 296.2 185.8 296.0 185.5 295.8 185.2 295.5 184.8 295.4 184.5 295.3 184.0 295.2 183.8 295.1 183.2 295.1 182.8 295.1 182.2 295.1 181.8 295.1 181.2 295.1 180.8 295.1 180.2 295.1 179.8 295.1 179.2 295.1 178.8 295.1 178.2 295.1 177.8 295.2 177.2 295.2 176.8 295.2 176.5 295.3 176.0 295.4 175.5 295.5 175.0 295.5 174.8 295.6 174.2 295.7 173.8 295.8 173.5 295.9 173.0 296.0 172.8 296.2 172.2 296.3 172.0 296.4 171.5 296.5 171.2 296.8 170.8 296.9 170.5 297.0 170.2 297.2 169.8 297.5 169.5 297.6 169.2 297.8 169.0 298.0 168.8 298.2 168.5 298.5 168.2 298.8 168.0 299.2 167.8 299.5 167.6 299.8 167.5 300.2 167.3 300.8 167.3 301.2 167.3 301.8 167.4 302.0 167.5 302.4 167.8 302.8 168.0 303.0 168.2 303.2 168.4 303.5 168.7 303.8 168.9 304.0 169.2 304.2 169.4 304.5 169.7 304.8 169.9 305.0 170.1 305.2 170.3 305.5 170.5 305.8 170.8 306.0 171.0 306.3 171.2 306.5 171.5 306.8 172.0 306.8 172.2 306.9 172.8 306.9 173.2 306.8 173.8 306.8 174.1 306.6 174.5 306.5 175.0 306.5 175.2 306.5 175.8 306.5 176.1 306.6 176.5 306.7 177.0 306.8 177.4 306.9 177.8 307.0 178.2 307.1 178.5 307.2 178.9 307.4 179.2 307.5 179.5 307.8 179.9 307.9 180.2 308.1 180.5 308.2 181.0 308.3 181.2 308.3 181.8 308.2 182.0 308.0 182.3 307.8 182.6 307.5 182.9 307.2 183.2 307.0 183.4 306.8 183.8 306.7 184.0 306.6 184.5 306.7 185.0 306.8 185.2 307.0 185.7 307.1 186.0 307.2 186.4 307.3 186.8 307.4 187.2 307.4 187.8 307.4 188.2 307.4 188.8 307.4 189.2 307.5 189.8 307.5 190.2 307.5 190.5 307.6 191.0 307.8 191.5 307.8 191.8 308.0 192.2 308.0 192.5 308.1 193.0 308.1 193.5 308.0 194.0 308.0 194.3 307.9 194.8 307.9 195.2 307.8 195.8 307.8 196.1 307.7 196.5 307.7 197.0 307.6 197.5 307.5 198.0 307.5 198.2 307.4 198.8 307.2 199.2 307.2 199.5 307.0 200.0 306.9 200.2 306.8 200.6 306.6 201.0 306.5 201.2 306.2 201.6 306.0 202.0 305.8 202.2 305.6 202.5 305.4 202.8 305.1 203.0 304.8 203.2 304.5 203.4 304.2 203.5Z"/>
<path fill="#000" stroke="#1c1c1c" stroke-width="0.80" fill-opacity="0.04" d="M304.0 202.3 303.5 202.4 303.0 202.3 302.7 202.2 302.3 202.0 302.0 201.8 301.8 201.6 301.5 201.3 301.3 201.0 301.1 200.8 301.0 200.5 300.8 200.1 300.5 199.8 300.4 199.5 300.2 199.1 300.1 198.8 300.0 198.5 299.8 198.0 299.7 197.8 299.6 197.2 299.5 196.9 299.4 196.5 299.3 196.0 299.2 195.6 299.2 195.2 299.1 194.8 299.1 194.2 299.0 193.8 299.0 193.5 299.0 193.0 298.9 192.5 298.9 192.0 298.8 191.5 298.7 191.2 298.6 190.8 298.5 190.4 298.4 190.0 298.3 189.5 298.2 189.2 298.2 188.8 298.1 188.2 298.0 187.8 297.9 187.5 297.8 187.0 297.6 186.8 297.4 186.5 297.2 186.2 297.0 185.9 296.8 185.5 296.5 185.2 296.4 185.0 296.2 184.8 296.0 184.2 296.0 184.0 295.8 183.5 295.8 183.0 295.8 182.5 295.8 182.0 295.8 181.5 295.8 181.0 295.8 180.5 295.8 180.0 295.8 179.5 295.8 179.0 295.9 178.5 295.9 178.0 295.9 177.5 296.0 177.0 296.0 176.7 296.1 176.2 296.1 175.8 296.2 175.2 296.3 175.0 296.4 174.5 296.5 174.0 296.6 173.8 296.7 173.2 296.8 173.0 297.0 172.5 297.1 172.2 297.2 171.9 297.5 171.5 297.6 171.2 297.8 171.0 298.0 170.6 298.2 170.2 298.5 170.0 298.7 169.8 299.0 169.5 299.2 169.3 299.5 169.2 299.9 169.0 300.2 168.9 300.8 168.9 301.2 168.9 301.5 169.0 302.0 169.2 302.2 169.4 302.5 169.5 302.8 169.8 303.1 170.0 303.4 170.2 303.7 170.5 304.0 170.8 304.2 171.0 304.5 171.1 304.8 171.3 305.0 171.5 305.3 171.8 305.6 172.0 305.8 172.2 306.0 172.8 306.0 173.0 306.0 173.5 306.0 173.8 305.9 174.2 305.8 174.7 305.7 175.0 305.6 175.5 305.6 176.0 305.6 176.5 305.7 177.0 305.8 177.5 305.8 177.8 305.9 178.2 306.0 178.8 306.1 179.0 306.2 179.5 306.3 179.8 306.4 180.2 306.5 180.5 306.6 181.0 306.5 181.5 306.4 181.8 306.2 182.1 306.0 182.4 305.8 182.8 305.6 183.0 305.4 183.2 305.2 183.6 305.1 184.0 305.0 184.5 305.0 185.0 305.1 185.5 305.2 186.0 305.3 186.2 305.4 186.8 305.5 187.2 305.5 187.5 305.7 188.0 305.8 188.4 305.8 188.8 306.0 189.2 306.0 189.5 306.2 190.0 306.3 190.2 306.4 190.8 306.5 191.0 306.7 191.5 306.8 191.8 307.0 192.2 307.1 192.5 307.2 193.0 307.2 193.5 307.2 193.7 307.2 194.0 307.2 194.5 307.1 195.0 307.1 195.5 307.0 196.0 307.0 196.2 306.9 196.8 306.9 197.2 306.8 197.8 306.8 198.0 306.6 198.5 306.5 199.0 306.4 199.2 306.2 199.7 306.1 200.0 306.0 200.3 305.8 200.8 305.6 201.0 305.4 201.2 305.2 201.5 305.0 201.8 304.6 202.0 304.2 202.2 304.0 202.3Z"/>
<path fill="#fff" stroke="#0e0e0e" stroke-width="0.95" fill-opacity="0.15" d="M304.0 200.8 303.5 200.9 303.0 200.8 302.8 200.7 302.4 200.5 302.1 200.2 301.9 200.0 301.7 199.8 301.5 199.4 301.2 199.0 301.1 198.8 301.0 198.5 300.8 198.0 300.7 197.8 300.5 197.2 300.5 197.0 300.3 196.5 300.2 196.0 300.2 195.8 300.1 195.2 300.1 194.8 300.1 194.2 300.1 193.8 300.1 193.2 300.2 192.8 300.2 192.4 300.3 192.0 300.5 191.5 300.5 191.2 300.6 190.8 300.6 190.2 300.5 190.0 300.3 189.5 300.1 189.2 300.0 189.0 299.8 188.6 299.6 188.2 299.5 188.0 299.3 187.5 299.2 187.2 299.0 187.0 298.8 186.6 298.5 186.3 298.2 186.0 298.0 185.8 297.8 185.5 297.6 185.2 297.4 185.0 297.2 184.8 297.0 184.3 296.9 184.0 296.8 183.6 296.7 183.2 296.6 182.8 296.6 182.2 296.6 181.8 296.6 181.2 296.6 180.8 296.7 180.2 296.7 179.8 296.7 179.2 296.7 178.8 296.8 178.3 296.8 178.0 296.8 177.5 296.9 177.0 296.9 176.5 297.0 176.0 297.0 175.8 297.1 175.2 297.2 174.8 297.3 174.5 297.5 174.0 297.6 173.8 297.8 173.3 297.9 173.0 298.0 172.8 298.2 172.4 298.5 172.0 298.7 171.8 298.9 171.5 299.2 171.2 299.5 171.0 299.8 170.9 300.0 170.8 300.5 170.7 301.0 170.7 301.3 170.8 301.8 170.9 302.0 171.0 302.3 171.2 302.7 171.5 303.0 171.8 303.2 172.0 303.5 172.2 303.8 172.4 304.0 172.6 304.2 172.9 304.5 173.2 304.6 173.5 304.6 174.0 304.6 174.5 304.6 175.0 304.6 175.5 304.6 176.0 304.6 176.5 304.6 177.0 304.7 177.5 304.7 178.0 304.8 178.5 304.8 178.8 304.8 179.2 304.9 179.8 304.9 180.2 304.9 180.8 304.8 181.2 304.7 181.5 304.5 182.0 304.4 182.2 304.2 182.5 304.0 183.0 303.9 183.2 303.8 183.6 303.6 184.0 303.5 184.5 303.5 184.8 303.4 185.2 303.4 185.8 303.3 186.2 303.2 186.5 303.2 187.0 303.1 187.5 303.1 188.0 303.2 188.5 303.3 188.8 303.5 189.1 303.8 189.4 304.0 189.7 304.2 190.0 304.4 190.2 304.7 190.5 304.9 190.8 305.1 191.0 305.3 191.2 305.5 191.6 305.8 192.0 305.9 192.2 306.0 192.5 306.2 193.0 306.3 193.2 306.3 193.8 306.3 194.2 306.3 194.8 306.2 195.1 306.2 195.5 306.2 196.0 306.1 196.5 306.1 197.0 306.0 197.4 305.9 197.8 305.8 198.2 305.7 198.5 305.5 199.0 305.4 199.2 305.2 199.6 305.0 200.0 304.8 200.2 304.5 200.5 304.2 200.7 304.0 200.8Z"/>
<path fill="#fff" stroke="#000000" stroke-width="1.00" fill-opacity="0.20" d="M301.0 184.8 300.5 184.9 300.0 184.9 299.5 184.8 299.2 184.6 299.0 184.5 298.6 184.2 298.4 184.0 298.2 183.8 298.0 183.3 297.9 183.0 297.8 182.5 297.8 182.1 297.7 181.8 297.7 181.2 297.7 180.8 297.8 180.5 297.8 180.0 297.8 179.5 297.8 179.0 297.8 178.5 297.9 178.0 297.9 177.5 298.0 177.0 298.0 176.7 298.1 176.2 298.1 175.8 298.2 175.3 298.3 175.0 298.5 174.6 298.7 174.2 298.8 174.0 299.0 173.7 299.2 173.5 299.5 173.2 299.8 173.0 300.2 172.8 300.8 172.8 301.2 172.8 301.6 173.0 302.0 173.2 302.2 173.4 302.5 173.7 302.8 174.0 302.9 174.2 303.1 174.5 303.2 175.0 303.3 175.2 303.4 175.8 303.4 176.2 303.4 176.8 303.4 177.2 303.4 177.8 303.4 178.2 303.4 178.8 303.4 179.2 303.3 179.8 303.3 180.2 303.2 180.5 303.1 181.0 303.0 181.3 302.9 181.8 302.8 182.1 302.6 182.5 302.5 182.8 302.3 183.2 302.2 183.5 302.0 183.8 301.8 184.2 301.5 184.5 301.2 184.7 301.0 184.8ZM303.8 198.8 303.2 198.8 303.0 198.7 302.6 198.5 302.4 198.2 302.2 198.0 302.0 197.7 301.8 197.2 301.7 197.0 301.5 196.5 301.5 196.2 301.4 195.8 301.3 195.2 301.3 194.8 301.3 194.2 301.4 193.8 301.5 193.4 301.7 193.0 301.9 192.8 302.2 192.5 302.5 192.3 302.8 192.2 303.2 192.1 303.8 192.2 304.0 192.3 304.3 192.5 304.5 192.8 304.8 193.0 305.0 193.5 305.0 193.8 305.1 194.2 305.1 194.8 305.1 195.2 305.1 195.8 305.0 196.2 305.0 196.6 304.9 197.0 304.8 197.5 304.7 197.8 304.5 198.1 304.2 198.4 304.0 198.6 303.8 198.8Z"/></g>
<path fill="#888" d="M358.1 161.5h0.6v0.6h-0.6zM380.2 163.7h0.6v0.6h-0.6zM326.8 201.8h0.6v0.6h-0.6zM354.6 212.0h0.6v0.6h-0.6zM341.3 191.4h0.6v0.6h-0.6zM331.1 207.8h0.6v0.6h-0.6zM383.5 209.9h0.6v0.6h-0.6zM354.3 195.1h0.6v0.6h-0.6zM384.9 167.6h0.6v0.6h-0.6zM358.4 191.9h0.6v0.6h-0.6zM354.8 195.7h0.6v0.6h-0.6zM354.6 161.5h0.6v0.6h-0.6zM327.8 206.5h0.6v0.6h-0.6zM355.7 163.3h0.6v0.6h-0.6zM348.5 211.6h0.6v0.6h-0.6zM384.4 188.4h0.6v0.6h-0.6zM346.9 181.5h0.6v0.6h-0.6zM383.0 164.2h0.6v0.6h-0.6zM347.8 211.3h0.6v0.6h-0.6zM346.9 179.3h0.6v0.6h-0.6zM379.4 166.8h0.6v0.6h-0.6zM352.2 200.3h0.6v0.6h-0.6zM334.3 198.3h0.6v0.6h-0.6zM332.6 208.2h0.6v0.6h-0.6zM329.7 200.2h0.6v0.6h-0.6zM342.6 209.1h0.6v0.6h-0.6zM382.4 169.9h0.6v0.6h-0.6zM334.6 210.6h0.6v0.6h-0.6zM341.9 193.2h0.6v0.6h-0.6zM343.4 188.4h0.6v0.6h-0.6zM327.0 207.5h0.6v0.6h-0.6zM383.0 164.7h0.6v0.6h-0.6zM354.7 210.6h0.6v0.6h-0.6zM341.1 209.6h0.6v0.6h-0.6zM336.2 209.1h0.6v0.6h-0.6zM379.2 212.3h0.6v0.6h-0.6zM327.3 205.0h0.6v0.6h-0.6zM381.4 166.1h0.6v0.6h-0.6zM335.1 197.2h0.6v0.6h-0.6zM331.9 205.9h0.6v0.6h-0.6zM356.5 162.7h0.6v0.6h-0.6zM358.1 212.5h0.6v0.6h-0.6zM352.4 196.5h0.6v0.6h-0.6zM383.6 162.3h0.6v0.6h-0.6zM344.0 209.9h0.6v0.6h-0.6zM382.8 177.0h0.6v0.6h-0.6zM329.0 199.7h0.6v0.6h-0.6zM340.5 196.2h0.6v0.6h-0.6zM381.2 161.0h0.6v0.6h-0.6zM355.5 195.7h0.6v0.6h-0.6zM334.0 196.6h0.6v0.6h-0.6zM384.3 176.0h0.6v0.6h-0.6zM358.5 212.7h0.6v0.6h-0.6zM343.3 211.0h0.6v0.6h-0.6zM341.2 190.6h0.6v0.6h-0.6zM360.2 160.1h0.6v0.6h-0.6zM380.8 161.5h0.6v0.6h-0.6zM380.8 161.0h0.6v0.6h-0.6zM359.0 192.3h0.6v0.6h-0.6zM345.6 185.2h0.6v0.6h-0.6zM357.7 210.1h0.6v0.6h-0.6zM383.5 209.9h0.6v0.6h-0.6zM339.4 196.4h0.6v0.6h-0.6zM383.2 199.3h0.6v0.6h-0.6zM337.3 207.0h0.6v0.6h-0.6zM336.8 196.5h0.6v0.6h-0.6zM384.7 187.4h0.6v0.6h-0.6zM344.1 188.7h0.6v0.6h-0.6zM345.6 183.1h0.6v0.6h-0.6zM326.0 201.9h0.6v0.6h-0.6zM382.8 160.6h0.6v0.6h-0.6zM349.3 172.7h0.6v0.6h-0.6zM383.6 210.2h0.6v0.6h-0.6zM327.4 202.6h0.6v0.6h-0.6zM363.8 212.4h0.6v0.6h-0.6zM329.5 197.7h0.6v0.6h-0.6zM384.7 177.1h0.6v0.6h-0.6zM378.4 160.5h0.6v0.6h-0.6zM338.3 208.8h0.6v0.6h-0.6zM378.8 162.8h0.6v0.6h-0.6zM336.4 207.5h0.6v0.6h-0.6zM331.3 205.9h0.6v0.6h-0.6zM347.9 177.5h0.6v0.6h-0.6zM352.4 198.2h0.6v0.6h-0.6zM350.9 202.4h0.6v0.6h-0.6zM340.6 192.2h0.6v0.6h-0.6zM348.9 169.1h0.6v0.6h-0.6zM337.8 208.2h0.6v0.6h-0.6zM344.8 209.5h0.6v0.6h-0.6zM359.9 160.0h0.6v0.6h-0.6zM344.9 181.2h0.6v0.6h-0.6zM384.3 202.2h0.6v0.6h-0.6zM329.5 207.7h0.6v0.6h-0.6zM348.1 171.5h0.6v0.6h-0.6zM380.6 166.6h0.6v0.6h-0.6zM346.3 174.0h0.6v0.6h-0.6zM383.5 205.5h0.6v0.6h-0.6zM355.4 196.0h0.6v0.6h-0.6zM356.1 161.0h0.6v0.6h-0.6zM351.0 162.4h0.6v0.6h-0.6zM342.4 194.7h0.6v0.6h-0.6zM335.4 207.6h0.6v0.6h-0.6zM339.2 194.4h0.6v0.6h-0.6zM363.5 161.1h0.6v0.6h-0.6zM353.4 164.9h0.6v0.6h-0.6zM384.4 173.5h0.6v0.6h-0.6zM384.3 190.4h0.6v0.6h-0.6zM378.8 169.8h0.6v0.6h-0.6zM349.5 209.9h0.6v0.6h-0.6zM336.2 208.5h0.6v0.6h-0.6zM327.2 200.3h0.6v0.6h-0.6zM340.9 191.0h0.6v0.6h-0.6zM353.4 197.2h0.6v0.6h-0.6zM354.7 211.0h0.6v0.6h-0.6zM363.6 212.4h0.6v0.6h-0.6zM333.5 207.8h0.6v0.6h-0.6zM353.4 199.4h0.6v0.6h-0.6zM363.6 160.1h0.6v0.6h-0.6zM350.6 200.9h0.6v0.6h-0.6zM381.8 166.3h0.6v0.6h-0.6zM357.1 210.9h0.6v0.6h-0.6zM335.7 207.7h0.6v0.6h-0.6zM381.8 168.6h0.6v0.6h-0.6zM333.0 197.2h0.6v0.6h-0.6zM357.7 210.5h0.6v0.6h-0.6zM327.0 204.5h0.6v0.6h-0.6zM329.8 201.4h0.6v0.6h-0.6zM352.3 166.1h0.6v0.6h-0.6zM326.7 202.6h0.6v0.6h-0.6zM330.6 197.3h0.6v0.6h-0.6zM384.1 173.5h0.6v0.6h-0.6zM342.3 190.6h0.6v0.6h-0.6zM342.1 191.8h0.6v0.6h-0.6zM350.7 169.4h0.6v0.6h-0.6zM339.1 192.7h0.6v0.6h-0.6zM343.1 190.1h0.6v0.6h-0.6zM361.4 212.4h0.6v0.6h-0.6zM346.5 178.0h0.6v0.6h-0.6zM350.7 168.9h0.6v0.6h-0.6zM352.3 208.9h0.6v0.6h-0.6zM358.1 160.0h0.6v0.6h-0.6zM326.5 200.9h0.6v0.6h-0.6zM339.0 194.7h0.6v0.6h-0.6zM376.9 160.8h0.6v0.6h-0.6zM345.6 185.5h0.6v0.6h-0.6zM382.9 202.5h0.6v0.6h-0.6zM380.3 161.3h0.6v0.6h-0.6zM341.6 191.9h0.6v0.6h-0.6zM351.3 211.1h0.6v0.6h-0.6zM382.8 204.3h0.6v0.6h-0.6zM349.8 169.5h0.6v0.6h-0.6zM378.7 168.4h0.6v0.6h-0.6zM380.4 167.2h0.6v0.6h-0.6zM382.3 212.5h0.6v0.6h-0.6zM344.1 191.3h0.6v0.6h-0.6zM381.7 209.9h0.6v0.6h-0.6zM351.7 162.0h0.6v0.6h-0.6zM359.5 191.7h0.6v0.6h-0.6zM377.2 161.3h0.6v0.6h-0.6zM378.7 169.5h0.6v0.6h-0.6zM379.4 166.6h0.6v0.6h-0.6zM326.9 204.1h0.6v0.6h-0.6zM383.0 161.0h0.6v0.6h-0.6zM329.9 200.9h0.6v0.6h-0.6zM344.6 183.8h0.6v0.6h-0.6zM349.2 172.8h0.6v0.6h-0.6zM339.9 196.4h0.6v0.6h-0.6zM380.3 169.2h0.6v0.6h-0.6zM346.3 188.6h0.6v0.6h-0.6zM349.5 211.0h0.6v0.6h-0.6zM350.6 199.5h0.6v0.6h-0.6zM325.4 206.0h0.6v0.6h-0.6zM350.1 202.1h0.6v0.6h-0.6zM384.2 208.6h0.6v0.6h-0.6zM383.4 187.5h0.6v0.6h-0.6zM354.8 161.3h0.6v0.6h-0.6zM380.3 210.4h0.6v0.6h-0.6zM384.4 177.6h0.6v0.6h-0.6zM380.2 166.4h0.6v0.6h-0.6zM381.8 172.9h0.6v0.6h-0.6zM343.6 210.2h0.6v0.6h-0.6zM342.1 194.4h0.6v0.6h-0.6zM359.0 192.5h0.6v0.6h-0.6zM384.1 186.4h0.6v0.6h-0.6zM383.6 166.0h0.6v0.6h-0.6zM359.6 191.6h0.6v0.6h-0.6zM326.9 203.0h0.6v0.6h-0.6zM383.6 199.3h0.6v0.6h-0.6zM334.4 195.9h0.6v0.6h-0.6zM355.4 161.0h0.6v0.6h-0.6zM380.2 164.6h0.6v0.6h-0.6zM384.1 191.7h0.6v0.6h-0.6zM354.7 194.8h0.6v0.6h-0.6zM352.9 196.2h0.6v0.6h-0.6zM382.7 206.3h0.6v0.6h-0.6zM328.5 205.9h0.6v0.6h-0.6zM336.4 207.7h0.6v0.6h-0.6zM380.0 210.8h0.6v0.6h-0.6zM335.9 196.4h0.6v0.6h-0.6zM327.8 200.9h0.6v0.6h-0.6z"/>
<g clip-path="url(#cd2)"><path fill="#000" stroke="#999" stroke-width="0.45" fill-opacity="0.03" d="M360.2 211.0 359.8 211.0 359.2 211.1 358.8 211.1 358.2 211.0 357.8 211.0 357.5 211.0 357.0 211.0 356.5 210.9 356.0 210.9 355.5 210.8 355.0 210.8 354.5 210.8 354.0 210.8 353.5 210.8 353.0 210.8 352.5 210.8 352.0 210.8 351.5 210.8 351.0 210.8 350.5 210.8 350.0 210.9 349.5 210.9 349.0 210.9 348.5 210.9 348.0 210.9 347.5 210.9 347.0 210.9 346.5 210.9 346.0 210.9 345.5 210.8 345.1 210.8 344.8 210.7 344.2 210.6 343.8 210.6 343.3 210.5 343.0 210.4 342.5 210.4 342.0 210.3 341.8 210.2 341.2 210.1 340.8 210.0 340.5 209.9 340.0 209.8 339.8 209.7 339.2 209.6 338.8 209.5 338.5 209.5 338.0 209.4 337.5 209.4 337.0 209.5 336.8 209.5 336.2 209.6 335.8 209.7 335.2 209.7 334.8 209.5 334.5 209.4 334.2 209.2 333.8 209.0 333.5 208.8 333.2 208.7 332.9 208.5 332.5 208.4 332.0 208.3 331.5 208.3 331.0 208.3 330.5 208.3 330.0 208.3 329.8 208.2 329.2 208.2 328.8 208.1 328.5 208.0 328.0 207.9 327.7 207.8 327.2 207.6 327.0 207.5 326.5 207.2 326.2 207.1 326.0 207.0 325.7 206.8 325.3 206.5 325.0 206.2 324.8 206.0 324.5 205.8 324.3 205.5 324.2 205.2 324.0 204.9 323.9 204.5 323.8 204.0 323.9 203.5 324.0 203.0 324.1 202.8 324.3 202.5 324.5 202.2 324.8 201.9 325.0 201.6 325.2 201.4 325.5 201.2 325.8 201.0 326.0 200.8 326.4 200.5 326.8 200.3 327.0 200.1 327.2 199.9 327.6 199.8 328.0 199.5 328.2 199.3 328.5 199.2 328.8 199.0 329.2 198.8 329.5 198.5 329.8 198.4 330.0 198.2 330.3 198.0 330.7 197.8 331.0 197.6 331.2 197.4 331.5 197.2 332.0 197.0 332.2 196.9 332.5 196.7 333.0 196.5 333.2 196.4 333.6 196.2 334.0 196.1 334.3 196.0 334.8 195.8 335.0 195.8 335.5 195.6 335.8 195.5 336.2 195.3 336.5 195.2 337.0 195.1 337.3 195.0 337.8 194.8 338.0 194.8 338.5 194.6 338.8 194.5 339.2 194.2 339.5 194.0 339.8 193.8 340.0 193.5 340.2 193.2 340.4 193.0 340.5 192.8 340.8 192.4 341.0 192.1 341.2 191.8 341.5 191.5 341.7 191.2 342.0 191.0 342.2 190.8 342.5 190.5 342.8 190.3 343.0 190.1 343.2 189.9 343.5 189.7 343.8 189.4 344.0 189.2 344.2 188.9 344.5 188.5 344.6 188.2 344.7 187.8 344.7 187.2 344.6 186.8 344.5 186.2 344.5 186.0 344.4 185.5 344.3 185.0 344.3 184.5 344.3 184.0 344.5 183.5 344.5 183.2 344.7 182.8 344.8 182.5 345.0 182.2 345.2 181.8 345.4 181.5 345.5 181.2 345.7 180.8 345.8 180.5 346.0 180.0 346.1 179.8 346.2 179.2 346.2 179.0 346.3 178.5 346.4 178.0 346.5 177.7 346.6 177.2 346.7 176.8 346.7 176.2 346.8 176.0 346.9 175.5 346.9 175.0 347.0 174.7 347.1 174.2 347.2 173.8 347.3 173.5 347.4 173.0 347.5 172.6 347.6 172.2 347.8 171.8 347.8 171.5 348.0 171.1 348.1 170.8 348.2 170.4 348.4 170.0 348.5 169.8 348.7 169.2 348.8 169.0 349.0 168.5 349.1 168.2 349.2 167.9 349.4 167.5 349.5 167.2 349.7 166.8 349.9 166.5 350.0 166.2 350.2 165.8 350.4 165.5 350.6 165.2 350.8 165.0 351.0 164.6 351.2 164.4 351.5 164.1 351.8 163.8 352.0 163.6 352.2 163.4 352.5 163.2 353.0 163.0 353.2 162.9 353.5 162.8 354.0 162.6 354.3 162.5 354.8 162.4 355.2 162.3 355.8 162.3 356.2 162.3 356.8 162.3 357.2 162.4 357.8 162.5 358.0 162.5 358.5 162.7 358.8 162.9 359.0 163.0 359.4 163.2 359.7 163.5 360.0 163.7 360.2 164.0 360.5 164.2 360.7 164.5 360.9 164.8 361.0 165.0 361.2 165.4 361.4 165.8 361.5 166.0 361.7 166.5 361.8 166.9 361.8 167.2 361.9 167.8 361.9 168.2 361.8 168.8 361.8 169.1 361.7 169.5 361.5 170.0 361.4 170.2 361.2 170.6 361.0 171.0 360.9 171.2 360.7 171.5 360.5 171.8 360.2 172.1 360.0 172.3 359.8 172.6 359.5 172.8 359.2 173.0 358.9 173.2 358.7 173.5 358.4 173.8 358.1 174.0 357.9 174.2 357.7 174.5 357.5 174.9 357.4 175.2 357.3 175.8 357.2 176.0 357.1 176.5 357.0 176.9 356.9 177.2 356.8 177.6 356.6 178.0 356.5 178.2 356.2 178.7 356.1 179.0 356.0 179.2 355.8 179.8 355.8 180.1 355.7 180.5 355.7 181.0 355.6 181.5 355.6 182.0 355.6 182.5 355.6 183.0 355.6 183.5 355.6 184.0 355.6 184.5 355.6 185.0 355.6 185.5 355.6 186.0 355.5 186.5 355.5 186.8 355.4 187.2 355.3 187.8 355.3 188.2 355.4 188.8 355.5 189.1 355.6 189.5 355.6 190.0 355.5 190.5 355.4 190.8 355.2 191.0 355.0 191.3 354.8 191.7 354.6 192.0 354.5 192.3 354.4 192.8 354.4 193.2 354.4 193.8 354.4 194.2 354.3 194.8 354.3 195.2 354.2 195.5 354.1 196.0 354.0 196.5 354.0 196.8 353.8 197.2 353.8 197.6 353.6 198.0 353.6 198.5 353.6 199.0 353.8 199.4 354.0 199.6 354.5 199.7 355.0 199.6 355.5 199.5 355.8 199.5 356.2 199.3 356.6 199.2 357.0 199.2 357.5 199.1 358.0 199.0 358.5 199.0 359.0 199.0 359.5 199.1 360.0 199.1 360.5 199.1 361.0 199.2 361.5 199.2 361.8 199.3 362.2 199.4 362.7 199.5 363.0 199.6 363.4 199.8 363.8 199.9 364.1 200.0 364.5 200.2 364.8 200.4 365.0 200.5 365.4 200.8 365.7 201.0 366.0 201.2 366.2 201.5 366.5 201.7 366.7 202.0 366.9 202.2 367.1 202.5 367.2 202.8 367.5 203.2 367.6 203.5 367.7 204.0 367.8 204.2 367.8 204.8 367.8 205.2 367.8 205.8 367.7 206.0 367.6 206.5 367.5 206.8 367.3 207.2 367.1 207.5 367.0 207.8 366.8 208.0 366.5 208.3 366.2 208.6 366.0 208.8 365.8 209.0 365.5 209.2 365.1 209.5 364.8 209.7 364.5 209.9 364.2 210.0 363.8 210.2 363.5 210.3 363.0 210.5 362.8 210.6 362.2 210.7 362.0 210.8 361.5 210.9 361.0 210.9 360.5 211.0 360.2 211.0Z"/>
<path fill="none" stroke="#888" stroke-width="0.45" d="M348.8 210.0 348.2 210.0 347.8 210.0 347.2 210.0 346.8 210.0 346.5 210.0 346.0 209.9 345.5 209.9 345.0 209.8 344.8 209.7 344.2 209.6 343.8 209.5 343.5 209.5 343.0 209.4 342.5 209.2 342.2 209.2 341.8 209.1 341.5 209.0 341.0 208.9 340.6 208.8 340.2 208.6 339.8 208.5 339.5 208.5 339.0 208.3 338.5 208.3 338.2 208.2 337.8 208.2 337.2 208.2 336.8 208.2 336.2 208.2 335.8 208.2 335.2 208.2 334.8 208.0 334.5 207.9 334.2 207.8 333.8 207.5 333.5 207.4 333.2 207.2 332.8 207.1 332.4 207.0 332.0 207.0 331.5 207.0 331.2 207.0 330.8 207.1 330.2 207.1 329.8 207.0 329.5 207.0 329.0 206.9 328.6 206.8 328.2 206.6 328.0 206.5 327.6 206.2 327.2 206.0 327.0 205.9 326.8 205.6 326.5 205.4 326.2 205.0 326.1 204.8 326.0 204.5 325.9 204.0 326.0 203.5 326.0 203.2 326.2 202.8 326.5 202.5 326.7 202.2 326.9 202.0 327.2 201.8 327.5 201.5 327.8 201.3 328.0 201.1 328.2 200.9 328.5 200.8 328.9 200.5 329.2 200.3 329.5 200.1 329.8 200.0 330.1 199.8 330.5 199.5 330.8 199.3 331.0 199.2 331.2 199.0 331.6 198.8 332.0 198.5 332.2 198.3 332.5 198.2 332.8 198.0 333.2 197.8 333.5 197.6 333.8 197.5 334.2 197.2 334.5 197.1 334.8 197.0 335.2 196.8 335.5 196.7 336.0 196.5 336.2 196.4 336.6 196.2 337.0 196.1 337.2 196.0 337.8 195.8 338.0 195.7 338.5 195.6 339.0 195.5 339.3 195.5 339.8 195.4 340.2 195.3 340.5 195.1 340.8 194.9 341.0 194.6 341.2 194.2 341.4 194.0 341.5 193.8 341.8 193.3 342.0 193.0 342.1 192.8 342.3 192.5 342.5 192.2 342.8 192.0 343.0 191.7 343.2 191.5 343.5 191.2 343.8 191.0 344.1 190.8 344.4 190.5 344.7 190.2 344.9 190.0 345.2 189.8 345.3 189.5 345.5 189.2 345.7 188.8 345.8 188.5 345.8 188.0 345.8 187.5 345.8 187.2 345.6 186.8 345.5 186.2 345.4 186.0 345.3 185.5 345.2 185.2 345.2 184.8 345.2 184.2 345.3 184.0 345.4 183.5 345.5 183.2 345.7 182.8 345.9 182.5 346.0 182.2 346.2 181.9 346.5 181.5 346.6 181.2 346.8 181.0 346.9 180.5 347.0 180.2 347.2 179.8 347.2 179.4 347.3 179.0 347.4 178.5 347.5 178.1 347.5 177.8 347.6 177.2 347.7 176.8 347.7 176.2 347.8 176.0 347.9 175.5 347.9 175.0 348.0 174.8 348.1 174.2 348.2 173.8 348.3 173.5 348.5 173.0 348.5 172.8 348.7 172.2 348.8 172.0 349.0 171.5 349.1 171.2 349.2 171.0 349.5 170.5 349.6 170.2 349.8 169.8 349.9 169.5 350.0 169.2 350.2 168.8 350.3 168.5 350.5 168.0 350.6 167.8 350.8 167.4 350.9 167.0 351.1 166.8 351.2 166.4 351.5 166.0 351.7 165.8 351.8 165.5 352.1 165.2 352.3 165.0 352.6 164.8 352.9 164.5 353.2 164.3 353.5 164.2 353.9 164.0 354.2 163.9 354.8 163.8 355.2 163.8 355.5 163.7 356.0 163.7 356.5 163.6 357.0 163.7 357.5 163.7 357.8 163.8 358.2 164.0 358.5 164.1 358.8 164.3 359.1 164.5 359.3 164.8 359.6 165.0 359.8 165.2 360.0 165.6 360.2 166.0 360.4 166.2 360.5 166.7 360.6 167.0 360.7 167.5 360.7 168.0 360.7 168.5 360.6 169.0 360.5 169.3 360.3 169.8 360.2 170.0 360.0 170.4 359.8 170.8 359.6 171.0 359.4 171.2 359.2 171.5 358.9 171.8 358.6 172.0 358.3 172.2 358.0 172.5 357.8 172.7 357.5 172.9 357.2 173.1 357.0 173.4 356.8 173.7 356.6 174.0 356.5 174.2 356.3 174.8 356.3 175.2 356.2 175.5 356.2 176.0 356.1 176.5 356.0 177.0 355.9 177.2 355.8 177.6 355.5 178.0 355.4 178.2 355.2 178.5 355.0 178.9 354.8 179.2 354.7 179.5 354.6 180.0 354.5 180.5 354.5 181.0 354.5 181.5 354.5 182.0 354.6 182.5 354.6 183.0 354.7 183.5 354.7 184.0 354.7 184.5 354.8 184.8 354.8 185.2 354.8 185.5 354.7 186.0 354.6 186.5 354.5 187.0 354.5 187.2 354.4 187.8 354.3 188.2 354.3 188.8 354.3 189.2 354.4 189.8 354.3 190.2 354.1 190.5 354.0 190.8 353.8 191.1 353.5 191.5 353.4 191.8 353.3 192.2 353.2 192.6 353.2 193.0 353.2 193.5 353.2 194.0 353.1 194.5 353.0 195.0 353.0 195.2 352.9 195.8 352.8 196.2 352.7 196.5 352.5 196.9 352.3 197.2 352.2 197.5 352.0 197.9 351.8 198.2 351.7 198.5 351.5 198.8 351.3 199.2 351.1 199.5 351.0 199.8 350.9 200.2 350.9 200.8 351.1 201.0 351.4 201.2 351.8 201.4 352.2 201.5 352.5 201.5 353.0 201.5 353.2 201.5 353.8 201.4 354.2 201.3 354.5 201.2 355.0 201.1 355.2 201.0 355.8 200.8 356.0 200.6 356.3 200.5 356.8 200.3 357.0 200.2 357.5 200.1 358.0 200.1 358.5 200.1 359.0 200.1 359.5 200.2 359.8 200.3 360.2 200.4 360.8 200.5 361.0 200.5 361.5 200.6 362.0 200.8 362.2 200.8 362.8 201.0 363.0 201.0 363.5 201.2 363.8 201.4 364.0 201.5 364.4 201.8 364.8 202.0 365.0 202.2 365.2 202.5 365.5 202.8 365.7 203.0 365.8 203.2 366.0 203.6 366.1 204.0 366.2 204.5 366.3 204.8 366.3 205.2 366.2 205.5 366.2 206.0 366.0 206.4 365.9 206.8 365.7 207.0 365.5 207.3 365.2 207.6 365.0 207.9 364.8 208.1 364.5 208.3 364.2 208.5 363.9 208.8 363.5 209.0 363.2 209.1 362.9 209.2 362.5 209.4 362.2 209.5 361.8 209.6 361.3 209.8 361.0 209.8 360.5 209.9 360.0 209.9 359.5 210.0 359.0 210.0 358.5 210.0 358.0 209.9 357.5 209.9 357.0 209.9 356.5 209.8 356.0 209.8 355.5 209.8 355.2 209.7 354.8 209.7 354.2 209.7 353.8 209.7 353.2 209.7 352.8 209.7 352.2 209.7 351.8 209.7 351.5 209.8 351.0 209.8 350.5 209.9 350.0 209.9 349.5 210.0 349.0 210.0 348.8 210.0Z"/>
<path fill="none" stroke="#808080" stroke-width="0.50" d="M349.8 209.0 349.2 209.1 348.8 209.2 348.2 209.2 347.8 209.2 347.2 209.2 346.8 209.2 346.2 209.1 345.8 209.0 345.5 209.0 345.0 208.8 344.6 208.8 344.2 208.6 343.8 208.5 343.5 208.4 343.0 208.3 342.8 208.2 342.2 208.0 342.0 207.9 341.5 207.8 341.2 207.7 340.8 207.5 340.5 207.4 340.0 207.3 339.8 207.2 339.2 207.1 338.8 207.0 338.5 207.0 338.0 206.9 337.5 206.9 337.0 206.9 336.5 206.9 336.0 206.9 335.5 206.9 335.0 206.8 334.8 206.7 334.2 206.5 334.0 206.4 333.7 206.2 333.2 206.1 333.0 206.0 332.5 205.8 332.0 205.8 331.5 205.8 331.0 205.8 330.5 205.8 330.0 205.8 329.8 205.7 329.2 205.5 329.0 205.4 328.8 205.2 328.5 205.0 328.2 204.7 328.0 204.2 328.0 204.0 328.0 203.6 328.1 203.2 328.2 203.0 328.5 202.6 328.8 202.4 329.0 202.1 329.2 201.9 329.5 201.7 329.8 201.5 330.2 201.2 330.5 201.1 330.8 200.9 331.0 200.7 331.3 200.5 331.7 200.2 332.0 200.0 332.2 199.9 332.5 199.7 332.8 199.5 333.1 199.2 333.4 199.0 333.8 198.8 334.0 198.6 334.2 198.5 334.7 198.2 335.0 198.1 335.2 197.9 335.6 197.8 336.0 197.5 336.2 197.4 336.5 197.2 336.9 197.0 337.2 196.8 337.5 196.7 338.0 196.5 338.2 196.5 338.8 196.4 339.2 196.4 339.6 196.5 340.0 196.6 340.5 196.7 340.8 196.8 341.0 196.7 341.3 196.5 341.6 196.2 341.8 196.0 342.0 195.6 342.2 195.2 342.3 195.0 342.5 194.7 342.7 194.2 342.8 194.0 343.0 193.7 343.2 193.3 343.5 193.0 343.7 192.8 343.9 192.5 344.1 192.2 344.4 192.0 344.7 191.8 345.0 191.5 345.2 191.3 345.5 191.0 345.8 190.8 346.0 190.6 346.2 190.3 346.5 190.0 346.6 189.8 346.8 189.4 346.8 189.0 346.9 188.5 346.9 188.0 346.8 187.5 346.8 187.2 346.6 186.8 346.5 186.3 346.4 186.0 346.2 185.6 346.2 185.2 346.1 184.8 346.1 184.2 346.2 183.8 346.4 183.5 346.5 183.2 346.8 182.8 347.0 182.5 347.1 182.2 347.3 182.0 347.5 181.7 347.7 181.2 347.8 181.0 348.0 180.5 348.1 180.2 348.2 179.8 348.3 179.5 348.4 179.0 348.4 178.5 348.5 178.0 348.5 177.8 348.6 177.2 348.6 176.8 348.7 176.2 348.7 175.8 348.8 175.5 348.9 175.0 349.0 174.5 349.1 174.2 349.2 173.8 349.3 173.5 349.5 173.0 349.6 172.8 349.8 172.5 350.0 172.0 350.1 171.8 350.2 171.5 350.5 171.0 350.6 170.8 350.8 170.5 351.0 170.0 351.1 169.8 351.2 169.4 351.4 169.0 351.5 168.7 351.7 168.2 351.8 168.0 352.0 167.5 352.1 167.2 352.2 167.0 352.5 166.6 352.8 166.3 353.0 166.0 353.2 165.8 353.5 165.6 353.8 165.5 354.2 165.4 354.8 165.3 355.2 165.3 355.5 165.2 356.0 165.2 356.5 165.0 356.9 165.0 357.2 165.0 357.5 165.0 358.0 165.2 358.2 165.4 358.5 165.5 358.8 165.8 359.0 166.1 359.2 166.5 359.4 166.8 359.5 167.0 359.6 167.5 359.6 168.0 359.6 168.5 359.5 168.9 359.4 169.2 359.2 169.5 359.0 169.9 358.8 170.2 358.6 170.5 358.3 170.8 358.1 171.0 357.8 171.2 357.5 171.4 357.2 171.6 357.0 171.8 356.7 172.0 356.4 172.2 356.1 172.5 355.9 172.8 355.7 173.0 355.5 173.4 355.4 173.8 355.3 174.2 355.3 174.8 355.3 175.2 355.3 175.8 355.3 176.2 355.2 176.7 355.2 177.0 355.0 177.3 354.8 177.7 354.6 178.0 354.4 178.2 354.2 178.5 354.0 178.8 353.8 179.2 353.7 179.5 353.5 180.0 353.5 180.2 353.5 180.8 353.5 181.2 353.5 181.7 353.5 182.0 353.6 182.5 353.7 183.0 353.8 183.4 353.8 183.8 353.9 184.2 353.9 184.8 353.9 185.2 353.9 185.8 353.9 186.2 353.8 186.8 353.7 187.0 353.5 187.5 353.4 187.8 353.3 188.2 353.2 188.5 353.1 189.0 353.0 189.5 352.9 189.8 352.8 190.2 352.6 190.5 352.5 190.8 352.3 191.2 352.2 191.5 352.2 192.0 352.1 192.5 352.1 193.0 352.1 193.5 352.1 194.0 352.0 194.5 352.0 194.8 351.9 195.2 351.8 195.6 351.6 196.0 351.5 196.3 351.3 196.8 351.1 197.0 351.0 197.2 350.8 197.6 350.5 197.9 350.2 198.2 350.0 198.5 349.8 198.8 349.6 199.0 349.4 199.2 349.2 199.5 349.0 199.8 348.8 200.1 348.5 200.5 348.4 200.8 348.2 201.2 348.2 201.5 348.3 201.8 348.5 202.1 348.8 202.3 349.0 202.5 349.5 202.7 349.8 202.8 350.2 202.9 350.8 202.9 351.2 203.0 351.8 203.0 352.2 202.9 352.8 202.9 353.2 202.8 353.5 202.8 354.0 202.6 354.5 202.5 354.8 202.4 355.1 202.2 355.5 202.0 355.8 201.9 356.0 201.7 356.4 201.5 356.8 201.3 357.0 201.2 357.5 201.0 357.8 201.0 358.2 201.0 358.5 201.0 359.0 201.2 359.2 201.3 359.5 201.5 359.8 201.8 360.0 202.0 360.2 202.3 360.5 202.5 360.8 202.8 361.2 202.9 361.8 203.0 362.2 202.9 362.8 202.8 363.2 202.8 363.7 203.0 364.0 203.2 364.2 203.5 364.4 203.8 364.6 204.0 364.8 204.5 364.8 204.8 364.8 205.2 364.8 205.7 364.7 206.0 364.5 206.4 364.3 206.8 364.1 207.0 363.9 207.2 363.6 207.5 363.3 207.8 363.0 207.9 362.8 208.1 362.4 208.2 362.0 208.4 361.8 208.5 361.2 208.7 360.9 208.8 360.5 208.8 360.0 208.9 359.5 208.9 359.0 209.0 358.5 209.0 358.0 208.9 357.5 208.9 357.0 208.9 356.5 208.8 356.0 208.8 355.8 208.7 355.2 208.7 354.8 208.7 354.2 208.6 353.8 208.6 353.2 208.6 352.8 208.6 352.2 208.7 351.8 208.7 351.5 208.8 351.0 208.8 350.5 208.9 350.0 209.0 349.8 209.0Z"/>
<path fill="none" stroke="#777" stroke-width="0.50" d="M348.8 208.3 348.2 208.3 347.8 208.4 347.2 208.4 346.8 208.3 346.5 208.2 346.0 208.1 345.7 208.0 345.2 207.8 345.0 207.7 344.5 207.5 344.2 207.4 343.9 207.2 343.5 207.1 343.2 206.9 342.9 206.8 342.5 206.5 342.2 206.4 342.0 206.2 341.6 206.0 341.2 205.8 341.0 205.7 340.5 205.5 340.2 205.5 339.8 205.4 339.2 205.4 338.8 205.4 338.2 205.4 337.8 205.4 337.2 205.5 337.0 205.5 336.5 205.5 336.0 205.6 335.5 205.6 335.1 205.5 334.8 205.4 334.3 205.2 334.0 205.1 333.7 205.0 333.2 204.8 333.0 204.6 332.7 204.5 332.2 204.3 332.0 204.2 331.5 204.0 331.2 203.8 331.0 203.5 331.1 203.0 331.3 202.8 331.5 202.5 331.8 202.2 332.0 202.0 332.3 201.8 332.6 201.5 332.9 201.2 333.2 201.0 333.5 200.8 333.8 200.5 334.0 200.3 334.2 200.1 334.5 199.9 334.8 199.7 335.0 199.5 335.4 199.2 335.7 199.0 336.0 198.8 336.2 198.6 336.5 198.4 336.8 198.2 337.0 198.0 337.3 197.8 337.7 197.5 338.0 197.4 338.5 197.2 338.8 197.2 339.0 197.3 339.5 197.5 339.8 197.7 340.0 198.0 340.2 198.2 340.4 198.5 340.6 198.8 340.8 199.0 341.2 199.2 341.3 199.2 341.7 199.0 341.8 198.8 342.0 198.5 342.2 198.0 342.4 197.8 342.5 197.5 342.8 197.2 343.0 196.9 343.2 196.6 343.5 196.2 343.6 196.0 343.8 195.7 344.0 195.2 344.0 195.0 344.2 194.5 344.3 194.2 344.5 193.8 344.7 193.5 344.8 193.2 345.0 193.0 345.3 192.8 345.5 192.5 345.8 192.2 346.1 192.0 346.4 191.8 346.8 191.5 347.0 191.3 347.2 191.1 347.5 190.9 347.8 190.6 348.0 190.2 348.1 190.0 348.2 189.5 348.2 189.0 348.1 188.5 348.0 188.0 348.0 187.8 347.9 187.2 347.8 186.9 347.6 186.5 347.5 186.1 347.4 185.8 347.3 185.2 347.2 185.0 347.2 184.5 347.3 184.2 347.5 183.8 347.6 183.5 347.8 183.2 348.0 182.9 348.2 182.6 348.5 182.2 348.6 182.0 348.8 181.8 349.0 181.3 349.2 181.0 349.3 180.8 349.4 180.2 349.5 179.9 349.6 179.5 349.6 179.0 349.6 178.5 349.6 178.0 349.5 177.5 349.5 177.0 349.6 176.5 349.6 176.0 349.7 175.5 349.8 175.2 350.0 174.8 350.1 174.5 350.2 174.0 350.4 173.8 350.5 173.5 350.8 173.1 351.0 172.8 351.2 172.5 351.4 172.2 351.6 172.0 351.9 171.8 352.1 171.5 352.3 171.2 352.5 170.8 352.6 170.5 352.8 170.0 352.8 169.8 352.9 169.2 353.0 169.0 353.2 168.5 353.3 168.2 353.5 167.9 353.8 167.6 354.0 167.4 354.3 167.2 354.8 167.1 355.2 167.0 355.5 167.0 356.0 166.8 356.2 166.7 356.8 166.5 357.0 166.5 357.2 166.5 357.8 166.7 358.0 166.9 358.2 167.2 358.4 167.5 358.4 168.0 358.3 168.5 358.2 168.8 358.0 169.2 357.8 169.5 357.5 169.8 357.2 170.0 357.0 170.1 356.8 170.3 356.4 170.5 356.0 170.7 355.8 170.8 355.4 171.0 355.0 171.2 354.8 171.4 354.5 171.6 354.2 172.0 354.1 172.2 354.0 172.8 354.0 173.2 354.1 173.8 354.1 174.2 354.2 174.8 354.3 175.0 354.4 175.5 354.5 176.0 354.4 176.5 354.3 177.0 354.1 177.2 353.9 177.5 353.7 177.8 353.5 178.0 353.2 178.3 353.0 178.6 352.8 178.9 352.6 179.2 352.4 179.5 352.3 180.0 352.2 180.2 352.2 180.8 352.2 181.2 352.3 181.5 352.4 182.0 352.5 182.5 352.5 182.8 352.7 183.2 352.8 183.5 352.9 184.0 353.0 184.5 353.0 184.8 353.1 185.2 353.1 185.8 353.0 186.1 352.9 186.5 352.8 187.0 352.6 187.2 352.5 187.6 352.3 188.0 352.2 188.2 352.0 188.5 351.8 189.0 351.6 189.2 351.5 189.5 351.2 189.9 351.1 190.2 351.0 190.5 350.9 191.0 350.8 191.5 350.8 192.0 350.9 192.5 350.9 193.0 350.9 193.5 350.9 194.0 350.9 194.5 350.8 195.0 350.7 195.2 350.5 195.8 350.4 196.0 350.2 196.3 350.0 196.6 349.8 196.9 349.5 197.2 349.2 197.4 349.0 197.7 348.8 197.9 348.5 198.1 348.2 198.3 347.9 198.5 347.6 198.8 347.3 199.0 347.0 199.2 346.8 199.5 346.5 199.8 346.3 200.0 346.1 200.2 345.9 200.5 345.7 200.8 345.5 201.2 345.3 201.5 345.2 201.8 345.2 202.2 345.3 202.5 345.5 202.9 345.8 203.1 346.0 203.2 346.5 203.5 346.8 203.6 347.1 203.8 347.5 203.9 347.8 204.0 348.2 204.2 348.6 204.2 349.0 204.3 349.5 204.4 350.0 204.5 350.2 204.5 350.8 204.5 351.2 204.5 351.6 204.5 352.0 204.5 352.5 204.4 353.0 204.3 353.2 204.2 353.8 204.1 354.1 204.0 354.5 203.8 354.8 203.7 355.2 203.5 355.5 203.3 355.8 203.1 356.0 202.9 356.2 202.7 356.5 202.5 356.9 202.2 357.2 202.1 357.6 202.0 358.0 202.0 358.2 202.0 358.7 202.2 359.0 202.5 359.2 202.7 359.5 202.9 359.8 203.2 360.0 203.4 360.2 203.6 360.5 203.8 361.0 204.0 361.2 204.1 361.7 204.2 362.0 204.3 362.5 204.5 362.8 204.6 363.0 204.9 363.1 205.2 363.0 205.8 363.0 206.0 362.8 206.4 362.5 206.7 362.2 206.9 362.0 207.1 361.7 207.2 361.2 207.5 361.0 207.6 360.5 207.7 360.2 207.8 359.8 207.8 359.2 207.9 358.8 207.9 358.2 207.9 357.8 207.9 357.2 207.8 356.9 207.8 356.5 207.7 356.0 207.6 355.5 207.5 355.2 207.5 354.8 207.4 354.2 207.4 353.8 207.3 353.2 207.3 352.8 207.3 352.2 207.4 351.8 207.4 351.4 207.5 351.0 207.6 350.5 207.8 350.2 207.8 349.8 208.0 349.5 208.1 349.0 208.2 348.8 208.3Z"/>
<path fill="none" stroke="#707070" stroke-width="0.55" d="M351.2 178.8 351.0 178.7 350.8 178.5 350.5 178.0 350.4 177.8 350.3 177.2 350.3 176.8 350.3 176.2 350.4 175.8 350.5 175.5 350.7 175.0 350.9 174.8 351.1 174.5 351.3 174.2 351.6 174.0 352.0 173.8 352.5 173.9 352.8 174.0 353.0 174.3 353.2 174.7 353.4 175.0 353.5 175.2 353.7 175.8 353.8 176.0 353.8 176.4 353.7 176.8 353.5 177.0 353.2 177.4 353.0 177.6 352.8 177.8 352.5 178.0 352.2 178.2 351.9 178.5 351.5 178.7 351.2 178.8ZM350.5 188.5 350.0 188.7 349.6 188.5 349.4 188.2 349.2 188.0 349.0 187.6 348.8 187.2 348.7 187.0 348.6 186.5 348.5 186.2 348.3 185.8 348.2 185.3 348.2 185.0 348.2 184.7 348.4 184.2 348.5 183.9 348.8 183.6 349.0 183.2 349.2 183.0 349.5 182.8 349.7 182.5 350.0 182.3 350.2 182.1 350.8 182.1 351.0 182.3 351.2 182.5 351.5 182.9 351.7 183.2 351.8 183.5 352.0 183.9 352.1 184.2 352.2 184.7 352.3 185.0 352.3 185.5 352.3 186.0 352.2 186.2 352.0 186.8 351.9 187.0 351.7 187.2 351.5 187.6 351.2 187.9 351.0 188.2 350.8 188.4 350.5 188.5ZM347.5 197.3 347.0 197.4 346.5 197.5 346.0 197.4 345.7 197.2 345.5 197.0 345.4 196.5 345.3 196.0 345.3 195.5 345.3 195.0 345.4 194.5 345.5 194.0 345.6 193.8 345.8 193.5 346.0 193.2 346.2 193.0 346.5 192.8 346.9 192.5 347.2 192.3 347.5 192.2 347.9 192.0 348.2 191.9 348.8 191.9 349.2 192.0 349.5 192.2 349.7 192.5 349.8 192.8 350.0 193.2 350.0 193.5 350.1 194.0 350.0 194.5 350.0 194.8 349.8 195.2 349.7 195.5 349.5 195.9 349.2 196.2 349.0 196.4 348.8 196.6 348.5 196.8 348.2 197.0 347.8 197.2 347.5 197.3ZM335.8 204.3 335.4 204.2 335.0 204.2 334.6 204.0 334.3 203.8 334.1 203.5 334.0 203.2 334.0 202.8 334.1 202.5 334.2 202.2 334.5 201.8 334.8 201.5 335.0 201.2 335.2 201.0 335.5 200.8 335.7 200.5 336.0 200.2 336.2 200.0 336.5 199.8 336.7 199.5 337.0 199.2 337.2 199.0 337.4 198.8 337.7 198.5 338.0 198.2 338.2 198.1 338.8 198.1 339.1 198.2 339.3 198.5 339.5 198.9 339.6 199.2 339.8 199.6 339.9 200.0 340.1 200.2 340.2 200.5 340.5 200.8 340.8 201.1 341.0 201.4 341.2 201.8 341.1 202.2 340.9 202.5 340.6 202.8 340.2 203.0 340.0 203.1 339.6 203.2 339.2 203.4 338.9 203.5 338.5 203.6 338.0 203.8 337.8 203.8 337.2 204.0 337.0 204.0 336.5 204.2 336.0 204.2 335.8 204.3ZM359.0 207.0 358.5 207.0 358.1 207.0 357.8 207.0 357.2 206.9 356.8 206.8 356.5 206.7 356.1 206.5 355.8 206.3 355.5 206.2 355.2 206.0 355.0 205.5 355.2 205.0 355.5 204.8 355.7 204.5 355.9 204.2 356.1 204.0 356.3 203.8 356.5 203.5 356.8 203.2 357.1 203.0 357.5 202.8 358.0 202.8 358.5 203.0 358.8 203.2 359.0 203.4 359.2 203.6 359.5 203.8 359.8 204.0 360.0 204.3 360.3 204.5 360.6 204.8 360.9 205.0 361.1 205.2 361.3 205.5 361.3 206.0 361.1 206.2 360.8 206.5 360.5 206.7 360.2 206.8 359.8 206.9 359.2 207.0 359.0 207.0ZM348.5 207.3 348.0 207.4 347.5 207.4 347.0 207.4 346.5 207.2 346.2 207.1 346.0 207.0 345.6 206.8 345.3 206.5 345.1 206.2 344.9 206.0 344.9 205.5 345.1 205.2 345.5 205.1 346.0 205.1 346.5 205.1 347.0 205.2 347.4 205.2 347.8 205.3 348.2 205.5 348.5 205.6 349.0 205.8 349.2 205.9 349.5 206.2 349.5 206.5 349.4 206.8 349.1 207.0 348.8 207.2 348.5 207.3Z"/></g>
<g clip-path="url(#cd2)"><path fill="#000" stroke="#808080" stroke-width="0.40" fill-opacity="0.03" d="M374.2 213.3 373.8 213.3 373.2 213.3 372.8 213.2 372.5 213.2 372.0 213.1 371.7 213.0 371.2 212.9 370.9 212.8 370.5 212.6 370.2 212.5 369.8 212.3 369.5 212.1 369.2 212.0 368.8 211.8 368.5 211.6 368.2 211.5 367.8 211.2 367.5 211.1 367.2 210.9 366.9 210.8 366.5 210.5 366.2 210.3 366.0 210.2 365.8 210.0 365.4 209.8 365.1 209.5 364.8 209.2 364.5 209.0 364.2 208.8 364.0 208.6 363.8 208.3 363.5 208.0 363.3 207.8 363.1 207.5 362.9 207.2 362.7 207.0 362.5 206.7 362.2 206.3 362.1 206.0 361.9 205.8 361.8 205.5 361.5 205.1 361.3 204.8 361.1 204.5 360.9 204.2 360.8 204.0 360.5 203.6 360.3 203.2 360.2 203.0 360.0 202.7 359.8 202.2 359.7 202.0 359.5 201.6 359.3 201.2 359.2 201.0 359.1 200.5 359.0 200.2 358.8 199.8 358.7 199.5 358.5 199.0 358.5 198.8 358.3 198.2 358.2 198.0 358.0 197.5 358.0 197.2 357.8 196.8 357.8 196.2 357.8 195.8 357.9 195.2 358.0 195.0 358.2 194.7 358.5 194.5 358.9 194.2 359.2 194.1 359.5 193.9 359.9 193.8 360.2 193.5 360.5 193.3 360.8 193.1 360.9 192.8 361.0 192.2 360.8 191.8 360.6 191.5 360.4 191.2 360.0 191.0 359.8 190.9 359.4 190.8 359.0 190.6 358.5 190.5 358.2 190.5 357.8 190.4 357.2 190.3 357.0 190.1 356.8 189.9 356.5 189.7 356.2 189.3 356.1 189.0 356.0 188.8 355.8 188.2 355.7 188.0 355.5 187.5 355.5 187.2 355.4 186.8 355.3 186.2 355.2 185.9 355.2 185.5 355.2 185.0 355.1 184.5 355.1 184.0 355.1 183.5 355.0 183.0 355.0 182.5 355.0 182.1 355.0 181.8 355.0 181.2 355.0 180.8 355.0 180.5 355.1 180.0 355.2 179.5 355.3 179.2 355.5 178.8 355.6 178.5 355.8 178.2 356.0 177.8 356.1 177.5 356.2 177.0 356.3 176.8 356.4 176.2 356.5 175.8 356.4 175.2 356.4 174.8 356.3 174.2 356.2 174.0 356.1 173.5 356.0 173.1 355.9 172.8 355.8 172.2 355.8 171.8 355.7 171.5 355.8 171.2 355.8 170.8 355.9 170.2 356.0 169.8 356.1 169.5 356.2 169.0 356.3 168.8 356.5 168.2 356.6 168.0 356.8 167.6 356.9 167.2 357.0 167.0 357.2 166.5 357.4 166.2 357.5 166.0 357.7 165.5 357.8 165.2 358.0 164.9 358.2 164.5 358.3 164.2 358.5 163.9 358.7 163.5 358.9 163.2 359.1 163.0 359.3 162.8 359.6 162.5 359.9 162.2 360.2 162.0 360.5 161.9 361.0 161.8 361.2 161.7 361.8 161.7 362.2 161.8 362.5 161.8 363.0 162.0 363.2 162.1 363.7 162.2 364.0 162.4 364.4 162.5 364.8 162.6 365.1 162.8 365.5 162.9 365.8 163.0 366.2 163.2 366.5 163.2 367.0 163.4 367.4 163.5 367.8 163.6 368.2 163.6 368.8 163.6 369.2 163.6 369.7 163.5 370.0 163.4 370.3 163.2 370.7 163.0 371.0 162.8 371.2 162.5 371.5 162.2 371.7 162.0 371.9 161.8 372.1 161.5 372.3 161.2 372.6 161.0 372.9 160.8 373.2 160.6 373.8 160.5 374.2 160.6 374.7 160.8 375.0 160.9 375.2 161.1 375.5 161.3 375.8 161.5 376.0 161.8 376.2 162.2 376.4 162.5 376.5 162.8 376.7 163.2 376.8 163.5 376.9 164.0 377.0 164.4 377.0 164.8 377.1 165.2 377.1 165.8 377.1 166.2 377.2 166.8 377.2 167.2 377.3 167.5 377.3 168.0 377.4 168.5 377.5 168.8 377.7 169.2 377.8 169.5 377.9 170.0 378.1 170.2 378.2 170.6 378.5 171.0 378.7 171.2 378.9 171.5 379.1 171.8 379.3 172.0 379.6 172.2 379.8 172.5 380.0 172.8 380.2 173.2 380.3 173.5 380.5 173.9 380.6 174.2 380.7 174.8 380.8 175.0 380.9 175.5 380.9 176.0 381.0 176.4 381.1 176.8 381.2 177.2 381.2 177.6 381.4 178.0 381.5 178.3 381.7 178.8 381.9 179.0 382.0 179.2 382.2 179.6 382.5 180.0 382.7 180.2 382.8 180.5 383.0 181.0 383.1 181.2 383.2 181.8 383.3 182.0 383.3 182.5 383.3 183.0 383.3 183.5 383.2 183.8 383.1 184.2 383.0 184.6 382.8 185.0 382.7 185.2 382.5 185.8 382.4 186.0 382.2 186.4 382.1 186.8 382.0 187.2 382.0 187.5 381.9 188.0 381.9 188.5 381.9 189.0 381.9 189.5 381.9 190.0 381.9 190.5 381.9 191.0 381.9 191.5 381.9 192.0 381.9 192.5 381.9 193.0 381.9 193.5 381.9 194.0 381.9 194.5 381.9 195.0 381.9 195.5 381.9 196.0 381.9 196.5 381.9 197.0 381.9 197.5 381.9 198.0 381.8 198.5 381.8 199.0 381.8 199.5 381.7 199.8 381.7 200.2 381.6 200.8 381.6 201.2 381.5 201.8 381.5 202.0 381.4 202.5 381.3 203.0 381.2 203.3 381.2 203.8 381.0 204.2 381.0 204.5 380.9 205.0 380.8 205.4 380.7 205.8 380.5 206.2 380.4 206.5 380.2 207.0 380.1 207.2 380.0 207.6 379.8 208.0 379.7 208.2 379.5 208.7 379.4 209.0 379.2 209.2 379.0 209.6 378.8 210.0 378.6 210.2 378.4 210.5 378.2 210.8 378.0 211.0 377.8 211.3 377.5 211.6 377.2 211.8 377.0 212.0 376.7 212.2 376.3 212.5 376.0 212.7 375.8 212.8 375.3 213.0 375.0 213.1 374.5 213.2 374.2 213.3Z"/>
<path fill="#000" stroke="#717171" stroke-width="0.46" fill-opacity="0.04" d="M374.0 211.8 373.5 211.8 373.2 211.7 372.8 211.7 372.2 211.5 372.0 211.5 371.5 211.3 371.2 211.2 370.9 211.0 370.5 210.8 370.2 210.7 370.0 210.5 369.5 210.2 369.2 210.1 369.0 209.9 368.7 209.8 368.4 209.5 368.0 209.3 367.8 209.1 367.5 208.9 367.2 208.8 366.9 208.5 366.5 208.2 366.2 208.0 366.0 207.9 365.8 207.7 365.5 207.5 365.2 207.2 365.0 207.0 364.7 206.8 364.4 206.5 364.2 206.2 364.0 206.0 363.7 205.8 363.5 205.5 363.2 205.1 363.0 204.8 362.8 204.5 362.6 204.2 362.4 204.0 362.2 203.7 362.0 203.3 361.8 203.0 361.7 202.8 361.5 202.5 361.2 202.0 361.1 201.8 361.0 201.5 360.8 201.0 360.6 200.8 360.5 200.4 360.3 200.0 360.2 199.8 360.0 199.2 359.9 199.0 359.8 198.6 359.6 198.2 359.4 198.0 359.2 197.6 359.1 197.2 359.0 197.0 358.8 196.5 358.8 196.0 358.8 195.5 359.0 195.2 359.2 194.8 359.5 194.6 359.8 194.4 360.0 194.2 360.4 194.0 360.7 193.8 361.0 193.5 361.2 193.2 361.3 193.0 361.4 192.5 361.3 192.0 361.2 191.8 361.0 191.4 360.8 191.1 360.5 190.9 360.2 190.7 359.9 190.5 359.5 190.3 359.2 190.2 358.8 190.0 358.5 189.9 358.2 189.8 357.8 189.5 357.5 189.3 357.2 189.1 357.0 188.8 356.8 188.5 356.7 188.2 356.5 187.8 356.4 187.5 356.2 187.0 356.2 186.8 356.1 186.2 356.0 185.8 356.0 185.5 355.9 185.0 355.8 184.5 355.8 184.0 355.8 183.5 355.7 183.2 355.7 182.8 355.7 182.2 355.6 181.8 355.6 181.2 355.6 180.8 355.6 180.2 355.7 179.8 355.8 179.3 355.8 179.0 356.0 178.6 356.1 178.2 356.2 177.9 356.4 177.5 356.5 177.2 356.6 176.8 356.7 176.2 356.7 175.8 356.7 175.2 356.7 174.8 356.6 174.2 356.6 173.8 356.5 173.4 356.4 173.0 356.3 172.5 356.3 172.0 356.3 171.5 356.3 171.0 356.4 170.5 356.5 170.0 356.6 169.8 356.7 169.2 356.8 169.0 356.9 168.5 357.0 168.2 357.2 167.8 357.4 167.5 357.5 167.2 357.7 166.8 357.8 166.5 358.0 166.2 358.2 165.8 358.3 165.5 358.5 165.1 358.7 164.8 358.8 164.5 359.0 164.1 359.2 163.8 359.4 163.5 359.7 163.2 359.9 163.0 360.2 162.8 360.5 162.6 360.8 162.5 361.2 162.4 361.8 162.3 362.2 162.4 362.8 162.5 363.0 162.5 363.5 162.7 363.8 162.8 364.2 162.9 364.8 163.0 365.0 163.1 365.5 163.2 365.8 163.3 366.2 163.4 366.6 163.5 367.0 163.6 367.5 163.7 367.8 163.8 368.2 163.8 368.8 163.9 369.2 163.8 369.8 163.8 370.0 163.7 370.5 163.5 370.8 163.4 371.0 163.2 371.3 163.0 371.6 162.8 371.8 162.5 372.1 162.2 372.4 162.0 372.7 161.8 373.0 161.6 373.3 161.5 373.8 161.5 374.0 161.5 374.5 161.7 374.8 161.8 375.0 162.0 375.2 162.3 375.5 162.6 375.8 163.0 375.9 163.2 376.0 163.6 376.1 164.0 376.2 164.5 376.3 164.8 376.3 165.2 376.4 165.8 376.5 166.2 376.6 166.5 376.7 167.0 376.8 167.4 376.8 167.8 377.0 168.2 377.0 168.5 377.2 169.0 377.3 169.2 377.4 169.8 377.5 170.0 377.7 170.5 377.9 170.8 378.0 171.0 378.2 171.5 378.4 171.8 378.5 172.0 378.8 172.3 379.0 172.7 379.1 173.0 379.3 173.2 379.5 173.8 379.6 174.0 379.7 174.5 379.8 174.8 379.9 175.2 380.0 175.8 380.0 176.0 380.1 176.5 380.2 177.0 380.2 177.4 380.3 177.8 380.5 178.2 380.6 178.5 380.8 178.8 381.0 179.1 381.2 179.4 381.5 179.7 381.8 179.9 382.0 180.2 382.2 180.5 382.3 180.8 382.5 181.1 382.7 181.5 382.8 181.8 382.8 182.2 382.9 182.8 382.8 183.2 382.8 183.6 382.6 184.0 382.5 184.4 382.3 184.8 382.2 185.0 382.0 185.3 381.8 185.7 381.6 186.0 381.4 186.2 381.2 186.7 381.1 187.0 381.0 187.5 381.0 187.9 381.0 188.2 381.0 188.8 381.0 189.2 381.0 189.8 381.0 190.2 381.0 190.8 381.0 191.2 381.0 191.5 381.0 192.0 381.0 192.5 381.1 193.0 381.1 193.5 381.1 194.0 381.1 194.5 381.1 195.0 381.1 195.5 381.1 196.0 381.1 196.5 381.1 197.0 381.1 197.5 381.1 198.0 381.1 198.5 381.0 199.0 381.0 199.4 381.0 199.8 380.9 200.2 380.9 200.8 380.8 201.2 380.8 201.6 380.7 202.0 380.6 202.5 380.5 203.0 380.5 203.2 380.4 203.8 380.2 204.2 380.2 204.5 380.0 205.0 379.9 205.2 379.8 205.8 379.7 206.0 379.5 206.5 379.4 206.8 379.2 207.1 379.1 207.5 379.0 207.8 378.8 208.1 378.5 208.5 378.4 208.8 378.2 209.0 378.0 209.3 377.8 209.6 377.5 209.9 377.2 210.2 377.0 210.4 376.8 210.7 376.5 210.8 376.2 211.0 375.9 211.2 375.5 211.4 375.2 211.5 374.8 211.7 374.2 211.7 374.0 211.8Z"/>
<path fill="#000" stroke="#636363" stroke-width="0.51" fill-opacity="0.04" d="M374.5 210.0 374.0 210.1 373.5 210.1 373.1 210.0 372.8 209.9 372.3 209.8 372.0 209.6 371.7 209.5 371.2 209.3 371.0 209.1 370.8 209.0 370.4 208.8 370.1 208.5 369.8 208.3 369.5 208.1 369.2 207.9 369.0 207.7 368.7 207.5 368.4 207.2 368.1 207.0 367.8 206.8 367.5 206.5 367.2 206.3 367.0 206.1 366.8 205.9 366.5 205.7 366.2 205.5 366.0 205.2 365.7 205.0 365.5 204.8 365.2 204.5 365.0 204.2 364.7 204.0 364.5 203.7 364.2 203.4 364.0 203.1 363.8 202.8 363.5 202.5 363.3 202.2 363.2 202.0 363.0 201.7 362.8 201.3 362.6 201.0 362.4 200.8 362.2 200.4 362.0 200.0 361.9 199.8 361.8 199.5 361.5 199.0 361.4 198.8 361.2 198.5 361.0 198.2 360.8 197.8 360.5 197.5 360.3 197.2 360.1 197.0 360.0 196.8 359.8 196.2 359.7 196.0 359.8 195.8 359.9 195.2 360.1 195.0 360.4 194.8 360.7 194.5 361.0 194.2 361.2 194.0 361.5 193.8 361.7 193.5 361.8 193.2 361.9 192.8 361.9 192.2 361.8 191.9 361.6 191.5 361.4 191.2 361.2 191.0 361.0 190.8 360.7 190.5 360.4 190.2 360.0 190.0 359.8 189.9 359.5 189.7 359.1 189.5 358.8 189.3 358.5 189.1 358.2 188.9 358.0 188.7 357.8 188.4 357.5 188.0 357.4 187.8 357.2 187.5 357.1 187.0 357.0 186.7 356.9 186.2 356.8 185.8 356.7 185.5 356.7 185.0 356.6 184.5 356.5 184.0 356.5 183.7 356.4 183.2 356.4 182.8 356.3 182.2 356.2 182.0 356.2 181.5 356.1 181.0 356.1 180.5 356.1 180.0 356.2 179.5 356.2 179.1 356.3 178.8 356.5 178.3 356.6 178.0 356.8 177.5 356.8 177.2 357.0 176.8 357.0 176.5 357.1 176.0 357.1 175.5 357.1 175.0 357.1 174.5 357.0 174.0 357.0 173.8 356.9 173.2 356.9 172.8 356.9 172.2 356.9 171.8 356.9 171.2 356.9 170.8 357.0 170.3 357.1 170.0 357.2 169.5 357.3 169.2 357.4 168.8 357.5 168.5 357.7 168.0 357.9 167.8 358.0 167.4 358.2 167.0 358.3 166.8 358.5 166.4 358.7 166.0 358.8 165.8 359.0 165.3 359.2 165.0 359.3 164.8 359.5 164.5 359.8 164.1 360.0 163.8 360.2 163.6 360.5 163.4 360.8 163.2 361.2 163.1 361.8 163.0 362.2 163.0 362.8 163.1 363.2 163.2 363.6 163.2 364.0 163.3 364.5 163.4 365.0 163.5 365.2 163.5 365.8 163.6 366.2 163.7 366.5 163.8 367.0 163.9 367.4 164.0 367.8 164.1 368.2 164.1 368.8 164.2 369.2 164.2 369.8 164.1 370.2 164.0 370.5 164.0 371.0 163.8 371.2 163.6 371.5 163.5 371.9 163.2 372.2 163.0 372.5 162.9 372.8 162.8 373.2 162.6 373.8 162.6 374.1 162.8 374.4 163.0 374.7 163.2 374.8 163.5 375.0 163.8 375.1 164.2 375.2 164.6 375.3 165.0 375.4 165.5 375.5 165.8 375.6 166.2 375.8 166.7 375.9 167.0 376.0 167.4 376.1 167.8 376.2 168.0 376.4 168.5 376.5 168.8 376.7 169.2 376.8 169.5 377.0 170.0 377.1 170.2 377.2 170.6 377.4 171.0 377.5 171.2 377.7 171.8 377.9 172.0 378.0 172.3 378.2 172.8 378.3 173.0 378.5 173.5 378.6 173.8 378.7 174.2 378.8 174.5 378.9 175.0 379.0 175.4 379.1 175.8 379.1 176.2 379.2 176.8 379.2 177.2 379.3 177.5 379.4 178.0 379.5 178.5 379.6 178.8 379.8 179.1 380.0 179.4 380.2 179.6 380.5 179.8 380.8 180.0 381.0 180.2 381.3 180.5 381.6 180.8 381.8 181.0 382.0 181.4 382.2 181.8 382.2 182.1 382.3 182.5 382.3 183.0 382.2 183.3 382.1 183.8 382.0 184.1 381.8 184.5 381.6 184.8 381.4 185.0 381.1 185.2 380.9 185.5 380.7 185.8 380.5 186.0 380.3 186.5 380.2 186.8 380.1 187.2 380.0 187.8 380.0 188.2 380.0 188.5 380.0 189.0 380.0 189.5 380.0 190.0 380.0 190.5 380.0 190.8 380.0 191.2 380.0 191.8 380.1 192.2 380.1 192.8 380.1 193.2 380.2 193.8 380.2 194.2 380.2 194.8 380.2 195.2 380.2 195.8 380.2 196.2 380.2 196.8 380.2 197.2 380.2 197.8 380.2 198.2 380.2 198.8 380.2 199.2 380.1 199.8 380.1 200.2 380.0 200.8 380.0 201.0 379.9 201.5 379.8 202.0 379.8 202.4 379.7 202.8 379.6 203.2 379.5 203.5 379.4 204.0 379.2 204.4 379.1 204.8 379.0 205.1 378.9 205.5 378.8 205.8 378.5 206.2 378.4 206.5 378.2 206.8 378.0 207.2 377.9 207.5 377.7 207.8 377.5 208.0 377.2 208.3 377.0 208.6 376.8 208.9 376.5 209.1 376.2 209.3 375.9 209.5 375.5 209.7 375.2 209.8 374.8 210.0 374.5 210.0Z"/>
<path fill="#000" stroke="#555555" stroke-width="0.57" fill-opacity="0.04" d="M375.0 208.0 374.5 208.1 374.0 208.2 373.5 208.1 373.0 208.0 372.8 207.9 372.4 207.8 372.0 207.6 371.8 207.4 371.5 207.2 371.2 207.0 370.8 206.8 370.5 206.5 370.2 206.3 370.0 206.0 369.8 205.8 369.5 205.6 369.2 205.3 369.0 205.1 368.8 204.8 368.5 204.5 368.2 204.3 368.0 204.0 367.8 203.8 367.5 203.5 367.2 203.3 367.0 203.0 366.8 202.8 366.5 202.6 366.2 202.3 366.0 202.1 365.8 201.9 365.5 201.6 365.2 201.3 365.0 201.0 364.8 200.8 364.6 200.5 364.4 200.2 364.2 200.0 364.0 199.6 363.8 199.2 363.6 199.0 363.4 198.8 363.2 198.5 363.0 198.1 362.8 197.9 362.5 197.6 362.2 197.4 362.0 197.2 361.8 197.0 361.5 196.8 361.2 196.5 361.0 196.0 361.0 195.8 361.0 195.5 361.2 195.1 361.5 194.9 361.8 194.6 362.0 194.4 362.2 194.1 362.4 193.8 362.5 193.5 362.6 193.0 362.5 192.5 362.4 192.2 362.2 191.8 362.1 191.5 362.0 191.2 361.8 190.9 361.5 190.6 361.2 190.4 361.0 190.1 360.8 189.9 360.5 189.7 360.2 189.5 359.8 189.2 359.5 189.0 359.2 188.8 359.0 188.6 358.8 188.3 358.5 188.0 358.3 187.8 358.2 187.5 358.0 187.1 357.9 186.8 357.8 186.4 357.7 186.0 357.5 185.5 357.5 185.2 357.4 184.8 357.3 184.2 357.3 183.8 357.2 183.5 357.1 183.0 357.0 182.7 356.9 182.2 356.8 181.8 356.7 181.5 356.6 181.0 356.6 180.5 356.6 180.0 356.6 179.5 356.7 179.0 356.8 178.8 356.9 178.2 357.0 178.0 357.2 177.5 357.2 177.2 357.4 176.8 357.4 176.2 357.5 175.8 357.5 175.5 357.5 175.0 357.5 174.5 357.5 174.0 357.5 173.8 357.5 173.2 357.5 172.8 357.4 172.2 357.5 171.8 357.5 171.2 357.5 171.0 357.6 170.5 357.7 170.0 357.8 169.7 357.9 169.2 358.0 168.9 358.2 168.5 358.3 168.2 358.5 167.8 358.6 167.5 358.8 167.2 359.0 166.8 359.1 166.5 359.3 166.2 359.5 165.8 359.7 165.5 359.8 165.2 360.0 165.0 360.2 164.7 360.5 164.4 360.8 164.2 361.2 164.0 361.5 163.9 362.0 163.9 362.5 163.9 363.0 163.9 363.5 163.9 364.0 164.0 364.5 164.0 364.8 164.0 365.2 164.0 365.8 164.1 366.2 164.2 366.7 164.2 367.0 164.3 367.5 164.4 368.0 164.5 368.2 164.5 368.8 164.6 369.2 164.6 369.8 164.6 370.2 164.6 370.8 164.6 371.2 164.5 371.5 164.5 372.0 164.4 372.5 164.4 373.0 164.4 373.2 164.5 373.5 164.8 373.8 165.0 374.0 165.5 374.1 165.8 374.2 166.0 374.5 166.5 374.6 166.8 374.8 167.1 375.0 167.5 375.1 167.8 375.3 168.0 375.5 168.4 375.7 168.8 375.9 169.0 376.0 169.3 376.2 169.8 376.3 170.0 376.5 170.4 376.7 170.8 376.8 171.0 376.9 171.5 377.0 171.8 377.2 172.2 377.3 172.5 377.5 173.0 377.6 173.2 377.7 173.8 377.8 174.0 377.9 174.5 378.0 175.0 378.0 175.2 378.1 175.8 378.2 176.2 378.2 176.8 378.3 177.0 378.3 177.5 378.4 178.0 378.4 178.5 378.5 178.9 378.6 179.2 378.7 179.8 378.9 180.0 379.0 180.2 379.3 180.5 379.8 180.7 380.0 180.8 380.5 181.0 380.8 181.2 381.0 181.3 381.2 181.6 381.5 182.0 381.5 182.2 381.6 182.8 381.5 183.2 381.4 183.5 381.2 183.8 381.0 184.1 380.8 184.3 380.5 184.5 380.1 184.8 379.8 185.0 379.6 185.2 379.4 185.5 379.2 186.0 379.2 186.2 379.1 186.8 379.1 187.2 379.0 187.8 379.0 188.0 379.0 188.5 378.9 189.0 378.9 189.5 378.9 190.0 378.9 190.5 378.9 191.0 379.0 191.5 379.0 192.0 379.0 192.3 379.0 192.8 379.1 193.2 379.1 193.8 379.1 194.2 379.2 194.8 379.2 195.2 379.2 195.8 379.2 196.2 379.3 196.5 379.3 197.0 379.3 197.5 379.2 198.0 379.2 198.2 379.2 198.8 379.2 199.2 379.1 199.8 379.1 200.2 379.0 200.8 379.0 201.0 378.9 201.5 378.8 202.0 378.8 202.3 378.6 202.8 378.5 203.2 378.4 203.5 378.3 204.0 378.2 204.2 378.0 204.6 377.8 205.0 377.7 205.2 377.5 205.7 377.3 206.0 377.1 206.2 376.9 206.5 376.7 206.8 376.5 207.0 376.2 207.3 375.9 207.5 375.6 207.8 375.2 207.9 375.0 208.0ZM369.9 202.0 370.2 201.8 370.5 201.5 370.6 201.2 370.5 200.9 370.2 200.6 370.0 200.4 369.5 200.5 369.2 200.6 369.0 200.9 368.9 201.2 369.0 201.8 369.2 202.0 369.5 202.1 369.9 202.0Z"/>
<path fill="#000" stroke="#474747" stroke-width="0.63" fill-opacity="0.04" d="M374.5 205.8 374.0 205.8 373.6 205.8 373.2 205.7 372.8 205.5 372.5 205.3 372.2 205.1 372.0 205.0 371.8 204.7 371.5 204.5 371.2 204.1 371.1 203.8 371.1 203.2 371.2 202.8 371.3 202.5 371.5 202.0 371.5 201.8 371.6 201.2 371.5 200.8 371.4 200.5 371.2 200.2 371.0 199.9 370.8 199.7 370.3 199.5 370.0 199.4 369.5 199.3 369.0 199.3 368.5 199.4 368.0 199.5 367.5 199.4 367.0 199.2 366.8 199.0 366.5 198.8 366.2 198.6 366.0 198.3 365.8 198.0 365.6 197.8 365.4 197.5 365.2 197.2 365.0 197.0 364.7 196.8 364.5 196.5 364.2 196.2 364.0 196.0 363.7 195.8 363.5 195.2 363.5 194.8 363.6 194.2 363.6 193.8 363.5 193.4 363.4 193.0 363.2 192.5 363.1 192.2 363.0 191.9 362.8 191.5 362.6 191.2 362.5 191.0 362.2 190.7 362.0 190.4 361.8 190.1 361.5 189.9 361.2 189.6 361.0 189.4 360.8 189.2 360.5 189.0 360.2 188.8 360.0 188.5 359.7 188.2 359.5 188.0 359.2 187.6 359.0 187.2 358.9 187.0 358.8 186.7 358.6 186.2 358.5 185.9 358.4 185.5 358.3 185.0 358.2 184.8 358.1 184.2 358.0 183.8 358.0 183.5 357.8 183.0 357.7 182.8 357.5 182.3 357.4 182.0 357.2 181.5 357.2 181.2 357.1 180.8 357.0 180.2 357.1 179.8 357.1 179.2 357.2 178.8 357.3 178.5 357.5 178.0 357.6 177.8 357.7 177.2 357.8 177.0 357.9 176.5 358.0 176.0 358.0 175.8 358.0 175.2 358.1 174.8 358.1 174.2 358.1 173.8 358.1 173.2 358.1 172.8 358.1 172.2 358.1 171.8 358.1 171.2 358.2 170.8 358.2 170.4 358.3 170.0 358.5 169.5 358.6 169.2 358.8 168.8 358.9 168.5 359.0 168.2 359.2 167.8 359.4 167.5 359.6 167.2 359.8 166.9 360.0 166.5 360.2 166.2 360.4 166.0 360.6 165.8 360.8 165.5 361.1 165.2 361.5 165.0 361.8 165.0 362.2 164.9 362.8 164.9 363.2 164.8 363.8 164.8 364.2 164.8 364.5 164.8 365.0 164.7 365.5 164.7 366.0 164.7 366.4 164.8 366.8 164.8 367.2 164.9 367.8 164.9 368.0 165.0 368.5 165.1 369.0 165.2 369.5 165.2 369.8 165.3 370.2 165.4 370.8 165.5 371.0 165.5 371.5 165.7 371.8 165.8 372.1 166.0 372.4 166.2 372.7 166.5 372.9 166.8 373.1 167.0 373.3 167.2 373.5 167.5 373.8 167.8 374.0 168.1 374.2 168.4 374.5 168.7 374.8 169.0 374.9 169.2 375.1 169.5 375.3 169.8 375.5 170.2 375.7 170.5 375.8 170.8 376.0 171.2 376.1 171.5 376.2 171.9 376.4 172.2 376.5 172.6 376.6 173.0 376.8 173.5 376.8 173.8 376.9 174.2 377.0 174.6 377.1 175.0 377.1 175.5 377.2 176.0 377.2 176.4 377.3 176.8 377.3 177.2 377.4 177.8 377.4 178.2 377.4 178.8 377.5 179.2 377.5 179.5 377.6 180.0 377.6 180.5 377.7 181.0 377.8 181.2 377.9 181.8 378.0 182.1 378.1 182.5 378.2 183.0 378.2 183.5 378.2 184.0 378.2 184.5 378.2 185.0 378.2 185.5 378.1 186.0 378.1 186.5 378.1 187.0 378.1 187.5 378.0 188.0 378.0 188.2 377.9 188.8 377.9 189.2 377.8 189.8 377.8 190.2 377.7 190.5 377.7 191.0 377.7 191.5 377.8 191.9 377.8 192.2 377.8 192.8 377.8 193.2 377.9 193.8 377.9 194.2 377.9 194.8 378.0 195.2 378.0 195.5 378.0 196.0 378.1 196.5 378.1 197.0 378.1 197.5 378.1 198.0 378.0 198.5 378.0 199.0 378.0 199.2 377.9 199.8 377.9 200.2 377.8 200.8 377.7 201.0 377.6 201.5 377.5 202.0 377.4 202.2 377.3 202.8 377.2 203.0 377.0 203.4 376.8 203.8 376.7 204.0 376.5 204.3 376.2 204.6 376.0 204.9 375.8 205.1 375.5 205.3 375.2 205.5 374.8 205.7 374.5 205.8Z"/>
<path fill="#000" stroke="#383838" stroke-width="0.69" fill-opacity="0.04" d="M374.2 202.3 374.0 202.2 373.5 202.0 373.3 201.8 373.2 201.5 373.0 201.1 372.9 200.8 372.8 200.5 372.5 200.0 372.3 199.8 372.2 199.5 372.0 199.2 371.7 199.0 371.5 198.8 371.1 198.5 370.8 198.2 370.5 198.0 370.2 197.9 370.0 197.7 369.7 197.5 369.4 197.2 369.1 197.0 368.9 196.8 368.6 196.5 368.4 196.2 368.1 196.0 367.8 195.8 367.5 195.5 367.2 195.3 367.0 195.1 366.8 194.9 366.5 194.7 366.2 194.5 365.9 194.2 365.6 194.0 365.3 193.8 365.1 193.5 364.8 193.2 364.6 193.0 364.5 192.8 364.2 192.5 364.0 192.1 363.8 191.8 363.6 191.5 363.4 191.2 363.2 191.0 363.0 190.7 362.8 190.3 362.5 190.0 362.2 189.8 362.0 189.5 361.8 189.2 361.5 189.0 361.3 188.8 361.0 188.5 360.8 188.2 360.6 188.0 360.4 187.8 360.2 187.5 360.0 187.2 359.8 186.8 359.6 186.5 359.5 186.1 359.4 185.8 359.2 185.3 359.2 185.0 359.1 184.5 359.0 184.1 358.9 183.8 358.8 183.4 358.6 183.0 358.5 182.8 358.2 182.4 358.1 182.0 357.9 181.8 357.8 181.3 357.7 181.0 357.6 180.5 357.6 180.0 357.6 179.5 357.7 179.0 357.8 178.8 358.0 178.2 358.1 178.0 358.2 177.5 358.3 177.2 358.5 176.8 358.5 176.5 358.6 176.0 358.7 175.5 358.7 175.0 358.8 174.5 358.8 174.2 358.8 173.8 358.8 173.2 358.8 172.8 358.9 172.2 358.9 171.8 358.9 171.2 359.0 170.8 359.0 170.5 359.1 170.0 359.2 169.7 359.4 169.2 359.5 169.0 359.8 168.6 360.0 168.2 360.2 168.0 360.4 167.8 360.6 167.5 360.8 167.2 361.0 167.0 361.3 166.8 361.7 166.5 362.0 166.3 362.2 166.2 362.8 166.1 363.1 166.0 363.5 165.9 364.0 165.8 364.2 165.7 364.8 165.6 365.2 165.5 365.5 165.5 366.0 165.5 366.5 165.5 366.9 165.5 367.2 165.5 367.8 165.6 368.2 165.7 368.5 165.8 369.0 165.9 369.2 166.0 369.8 166.2 370.0 166.3 370.4 166.5 370.8 166.7 371.0 166.8 371.2 167.0 371.5 167.2 371.8 167.5 372.1 167.8 372.4 168.0 372.7 168.2 372.9 168.5 373.2 168.8 373.4 169.0 373.7 169.2 373.9 169.5 374.1 169.8 374.3 170.0 374.5 170.3 374.7 170.8 374.9 171.0 375.0 171.3 375.2 171.8 375.3 172.0 375.5 172.5 375.6 172.8 375.7 173.2 375.8 173.5 375.9 174.0 376.0 174.4 376.1 174.8 376.1 175.2 376.2 175.8 376.2 176.2 376.3 176.5 376.3 177.0 376.3 177.5 376.3 178.0 376.4 178.5 376.4 179.0 376.4 179.5 376.5 180.0 376.5 180.5 376.5 180.8 376.6 181.2 376.6 181.8 376.7 182.2 376.7 182.8 376.8 183.0 376.9 183.5 376.9 184.0 377.0 184.4 377.1 184.8 377.1 185.2 377.2 185.8 377.2 186.2 377.2 186.8 377.1 187.2 377.1 187.8 377.0 188.1 376.9 188.5 376.8 189.0 376.7 189.2 376.6 189.8 376.5 190.0 376.4 190.5 376.4 191.0 376.4 191.5 376.4 192.0 376.4 192.5 376.4 193.0 376.3 193.5 376.3 194.0 376.3 194.5 376.3 195.0 376.3 195.5 376.3 196.0 376.3 196.5 376.4 197.0 376.4 197.5 376.4 198.0 376.3 198.5 376.3 199.0 376.2 199.2 376.1 199.8 376.0 200.2 375.9 200.5 375.8 200.9 375.6 201.2 375.4 201.5 375.2 201.8 374.9 202.0 374.5 202.2 374.2 202.3Z"/>
<path fill="#000" stroke="#2a2a2a" stroke-width="0.74" fill-opacity="0.04" d="M373.5 193.8 373.0 193.9 372.5 193.9 372.0 193.8 371.8 193.7 371.2 193.6 371.0 193.5 370.5 193.4 370.0 193.4 369.5 193.3 369.0 193.3 368.5 193.3 368.2 193.2 367.8 193.1 367.2 193.0 367.0 192.9 366.5 192.8 366.2 192.6 366.0 192.5 365.7 192.2 365.3 192.0 365.1 191.8 364.8 191.5 364.6 191.2 364.3 191.0 364.1 190.8 363.9 190.5 363.7 190.2 363.5 190.0 363.2 189.7 363.0 189.5 362.8 189.2 362.5 188.9 362.2 188.7 362.0 188.4 361.8 188.1 361.5 187.8 361.3 187.5 361.1 187.2 361.0 187.0 360.8 186.6 360.6 186.2 360.5 186.0 360.3 185.5 360.2 185.2 360.1 184.8 360.0 184.2 360.0 184.0 359.8 183.5 359.7 183.2 359.5 182.8 359.3 182.5 359.1 182.2 358.9 182.0 358.7 181.8 358.5 181.4 358.3 181.0 358.2 180.7 358.2 180.2 358.2 179.8 358.2 179.3 358.3 179.0 358.5 178.6 358.6 178.2 358.8 178.0 359.0 177.5 359.1 177.2 359.2 176.8 359.3 176.5 359.4 176.0 359.5 175.5 359.5 175.2 359.6 174.8 359.6 174.2 359.7 173.8 359.7 173.2 359.8 172.9 359.8 172.5 359.8 172.0 359.9 171.5 360.0 171.0 360.0 170.8 360.2 170.2 360.3 170.0 360.5 169.6 360.7 169.2 360.9 169.0 361.2 168.8 361.4 168.5 361.7 168.2 362.0 168.0 362.2 167.9 362.5 167.7 362.9 167.5 363.2 167.3 363.5 167.2 363.9 167.0 364.2 166.9 364.5 166.8 365.0 166.6 365.4 166.5 365.8 166.4 366.2 166.4 366.8 166.4 367.2 166.5 367.5 166.5 368.0 166.7 368.3 166.8 368.8 166.9 369.0 167.0 369.5 167.2 369.8 167.4 370.0 167.6 370.3 167.8 370.6 168.0 371.0 168.2 371.2 168.5 371.5 168.7 371.8 168.9 372.0 169.1 372.2 169.3 372.5 169.5 372.8 169.8 373.0 170.0 373.2 170.3 373.5 170.7 373.7 171.0 373.8 171.2 374.0 171.5 374.2 172.0 374.3 172.2 374.5 172.7 374.6 173.0 374.7 173.5 374.8 173.8 374.9 174.2 375.0 174.6 375.1 175.0 375.1 175.5 375.2 176.0 375.2 176.5 375.2 177.0 375.2 177.3 375.3 177.8 375.3 178.2 375.3 178.8 375.3 179.2 375.3 179.8 375.3 180.2 375.4 180.8 375.4 181.2 375.5 181.8 375.5 182.1 375.5 182.5 375.6 183.0 375.7 183.5 375.8 183.9 375.8 184.2 375.9 184.8 376.0 185.0 376.1 185.5 376.1 186.0 376.2 186.5 376.1 187.0 376.0 187.5 375.9 187.8 375.8 188.2 375.6 188.5 375.5 188.8 375.2 189.2 375.1 189.5 374.9 189.8 374.8 190.2 374.8 190.6 374.7 191.0 374.8 191.3 374.8 191.8 374.7 192.0 374.7 192.5 374.5 192.9 374.3 193.2 374.1 193.5 373.8 193.7 373.5 193.8Z"/>
<path fill="#000" stroke="#1c1c1c" stroke-width="0.80" fill-opacity="0.04" d="M368.8 191.5 368.2 191.5 367.8 191.5 367.5 191.5 367.0 191.4 366.7 191.2 366.2 191.0 366.0 190.9 365.8 190.7 365.5 190.5 365.2 190.2 364.9 190.0 364.6 189.8 364.3 189.5 364.1 189.2 363.8 189.0 363.6 188.8 363.4 188.5 363.1 188.2 362.9 188.0 362.7 187.8 362.5 187.5 362.2 187.1 362.0 186.8 361.9 186.5 361.7 186.2 361.5 185.8 361.4 185.5 361.3 185.0 361.2 184.8 361.1 184.2 361.0 183.8 361.0 183.5 360.8 183.0 360.8 182.7 360.5 182.3 360.3 182.0 360.0 181.8 359.8 181.5 359.5 181.2 359.3 181.0 359.2 180.8 359.0 180.2 359.0 180.0 359.0 179.8 359.1 179.2 359.2 179.0 359.5 178.5 359.7 178.2 359.8 178.0 360.0 177.7 360.2 177.2 360.3 177.0 360.4 176.5 360.5 176.0 360.5 175.8 360.6 175.2 360.6 174.8 360.7 174.2 360.8 173.8 360.8 173.5 360.9 173.0 361.0 172.5 361.0 172.2 361.2 171.8 361.3 171.5 361.5 171.0 361.6 170.8 361.8 170.5 362.0 170.1 362.2 169.8 362.5 169.6 362.8 169.3 363.0 169.1 363.2 168.9 363.5 168.7 363.9 168.5 364.2 168.3 364.5 168.2 364.9 168.0 365.2 167.9 365.8 167.8 366.2 167.8 366.8 167.8 367.2 167.9 367.8 168.0 368.0 168.1 368.5 168.2 368.8 168.3 369.1 168.5 369.5 168.7 369.8 168.8 370.0 169.0 370.4 169.2 370.7 169.5 371.0 169.7 371.2 169.9 371.5 170.1 371.8 170.4 372.0 170.6 372.2 170.9 372.5 171.2 372.7 171.5 372.8 171.8 373.0 172.1 373.2 172.5 373.3 172.8 373.5 173.2 373.6 173.5 373.7 174.0 373.8 174.2 373.9 174.8 374.0 175.2 374.0 175.6 374.0 176.0 374.1 176.5 374.1 177.0 374.1 177.5 374.1 178.0 374.1 178.5 374.1 179.0 374.1 179.5 374.1 180.0 374.1 180.5 374.2 181.0 374.2 181.5 374.2 182.0 374.3 182.2 374.3 182.8 374.3 183.2 374.4 183.8 374.5 184.2 374.5 184.5 374.6 185.0 374.7 185.5 374.7 186.0 374.6 186.5 374.5 186.9 374.3 187.2 374.2 187.5 374.0 187.8 373.8 188.0 373.5 188.3 373.2 188.6 373.0 188.8 372.8 189.1 372.5 189.4 372.2 189.6 372.0 189.9 371.8 190.1 371.5 190.3 371.2 190.5 370.8 190.8 370.5 190.9 370.2 191.0 369.8 191.2 369.5 191.3 369.0 191.5 368.8 191.5Z"/>
<path fill="#fff" stroke="#0e0e0e" stroke-width="0.95" fill-opacity="0.15" d="M368.5 189.5 368.0 189.6 367.5 189.6 367.0 189.5 366.8 189.4 366.3 189.2 366.0 189.1 365.8 189.0 365.4 188.8 365.1 188.5 364.8 188.2 364.5 188.0 364.2 187.8 364.0 187.5 363.8 187.2 363.6 187.0 363.4 186.8 363.2 186.5 363.0 186.0 362.9 185.8 362.7 185.5 362.6 185.0 362.5 184.8 362.4 184.2 362.3 183.8 362.2 183.5 362.2 183.0 362.1 182.5 362.0 182.0 362.0 181.8 361.8 181.2 361.7 181.0 361.5 180.7 361.2 180.3 361.1 180.0 361.0 179.8 361.0 179.5 361.1 179.0 361.3 178.8 361.5 178.2 361.6 178.0 361.7 177.5 361.8 177.1 361.8 176.8 361.8 176.2 361.8 175.8 361.8 175.2 361.9 174.8 362.0 174.2 362.0 174.0 362.1 173.5 362.2 173.1 362.4 172.8 362.5 172.4 362.7 172.0 362.9 171.8 363.0 171.5 363.2 171.2 363.5 170.8 363.8 170.6 364.0 170.4 364.2 170.2 364.5 170.0 365.0 169.8 365.2 169.6 365.8 169.5 366.0 169.5 366.5 169.5 366.9 169.5 367.2 169.5 367.8 169.6 368.2 169.8 368.5 169.9 368.8 170.0 369.2 170.2 369.5 170.4 369.8 170.6 370.0 170.8 370.3 171.0 370.6 171.2 370.8 171.5 371.1 171.8 371.3 172.0 371.5 172.3 371.8 172.6 372.0 173.0 372.1 173.2 372.2 173.6 372.4 174.0 372.5 174.5 372.6 174.8 372.6 175.2 372.7 175.8 372.7 176.2 372.8 176.5 372.8 177.0 372.8 177.5 372.7 177.8 372.7 178.2 372.7 178.8 372.7 179.2 372.7 179.8 372.7 180.2 372.7 180.8 372.8 181.2 372.8 181.5 372.8 182.0 372.8 182.5 372.9 183.0 372.9 183.5 372.9 184.0 372.9 184.5 372.8 185.0 372.8 185.5 372.7 185.8 372.5 186.2 372.4 186.5 372.2 186.8 372.0 187.1 371.8 187.4 371.5 187.7 371.2 187.9 371.0 188.1 370.8 188.3 370.5 188.5 370.2 188.8 369.8 189.0 369.5 189.1 369.2 189.2 368.8 189.4 368.5 189.5Z"/>
<path fill="#fff" stroke="#000000" stroke-width="1.00" fill-opacity="0.20" d="M367.8 187.5 367.2 187.6 366.8 187.5 366.5 187.4 366.1 187.2 365.8 187.0 365.5 186.8 365.2 186.6 365.0 186.3 364.8 186.0 364.6 185.8 364.4 185.5 364.2 185.2 364.0 184.8 363.9 184.5 363.8 184.0 363.7 183.8 363.7 183.2 363.6 182.8 363.6 182.2 363.7 181.8 363.7 181.2 363.7 180.8 363.7 180.2 363.7 179.8 363.7 179.2 363.6 178.8 363.5 178.2 363.5 178.0 363.4 177.5 363.4 177.0 363.3 176.5 363.3 176.0 363.3 175.5 363.4 175.0 363.5 174.5 363.6 174.2 363.8 173.8 363.9 173.5 364.0 173.2 364.2 172.9 364.5 172.6 364.8 172.3 365.0 172.1 365.2 172.0 365.7 171.8 366.0 171.7 366.5 171.6 367.0 171.6 367.5 171.7 367.8 171.8 368.2 171.9 368.5 172.0 368.9 172.2 369.2 172.5 369.5 172.7 369.8 172.9 370.0 173.2 370.2 173.5 370.4 173.8 370.6 174.0 370.8 174.4 370.9 174.8 371.0 175.2 371.0 175.5 371.0 176.0 371.1 176.5 371.0 177.0 371.0 177.5 371.0 177.8 371.0 178.2 370.9 178.8 370.9 179.2 370.8 179.8 370.8 180.2 370.8 180.8 370.9 181.2 370.9 181.8 371.0 182.2 371.0 182.5 371.0 183.0 371.1 183.5 371.0 184.0 371.0 184.3 370.9 184.8 370.8 185.2 370.6 185.5 370.5 185.8 370.2 186.1 370.0 186.4 369.8 186.6 369.5 186.8 369.2 187.0 368.8 187.2 368.5 187.3 368.0 187.5 367.8 187.5Z"/></g>
<path fill="#888" d="M448.3 206.7h0.6v0.6h-0.6zM449.9 167.2h0.6v0.6h-0.6zM414.6 177.2h0.6v0.6h-0.6zM392.0 207.6h0.6v0.6h-0.6zM449.6 167.7h0.6v0.6h-0.6zM453.2 165.2h0.6v0.6h-0.6zM424.3 162.3h0.6v0.6h-0.6zM442.9 162.0h0.6v0.6h-0.6zM414.1 209.5h0.6v0.6h-0.6zM412.9 193.0h0.6v0.6h-0.6zM421.1 160.1h0.6v0.6h-0.6zM451.3 199.8h0.6v0.6h-0.6zM452.0 176.0h0.6v0.6h-0.6zM390.3 203.5h0.6v0.6h-0.6zM403.9 198.5h0.6v0.6h-0.6zM393.4 209.1h0.6v0.6h-0.6zM440.1 165.4h0.6v0.6h-0.6zM421.3 196.4h0.6v0.6h-0.6zM403.5 196.8h0.6v0.6h-0.6zM412.9 181.7h0.6v0.6h-0.6zM413.9 171.5h0.6v0.6h-0.6zM451.7 164.3h0.6v0.6h-0.6zM411.2 194.0h0.6v0.6h-0.6zM450.9 160.4h0.6v0.6h-0.6zM443.1 162.0h0.6v0.6h-0.6zM450.9 160.7h0.6v0.6h-0.6zM453.2 179.7h0.6v0.6h-0.6zM413.1 176.8h0.6v0.6h-0.6zM412.3 187.8h0.6v0.6h-0.6zM451.2 201.4h0.6v0.6h-0.6zM449.5 164.4h0.6v0.6h-0.6zM416.5 165.3h0.6v0.6h-0.6zM390.9 203.1h0.6v0.6h-0.6zM429.3 206.8h0.6v0.6h-0.6zM412.9 179.4h0.6v0.6h-0.6zM399.9 208.9h0.6v0.6h-0.6zM413.5 181.2h0.6v0.6h-0.6zM425.2 160.9h0.6v0.6h-0.6zM390.6 202.3h0.6v0.6h-0.6zM413.6 209.3h0.6v0.6h-0.6zM418.8 162.4h0.6v0.6h-0.6zM426.4 160.2h0.6v0.6h-0.6zM403.5 197.0h0.6v0.6h-0.6zM409.5 207.2h0.6v0.6h-0.6zM423.0 210.9h0.6v0.6h-0.6zM415.4 168.9h0.6v0.6h-0.6zM395.1 210.0h0.6v0.6h-0.6zM427.1 207.3h0.6v0.6h-0.6zM409.1 195.7h0.6v0.6h-0.6zM408.9 194.5h0.6v0.6h-0.6zM452.9 182.9h0.6v0.6h-0.6zM390.3 205.0h0.6v0.6h-0.6zM409.8 210.6h0.6v0.6h-0.6zM452.4 180.0h0.6v0.6h-0.6zM408.1 195.8h0.6v0.6h-0.6zM424.4 182.6h0.6v0.6h-0.6zM451.9 195.4h0.6v0.6h-0.6zM416.0 164.7h0.6v0.6h-0.6zM449.9 160.6h0.6v0.6h-0.6zM452.1 175.6h0.6v0.6h-0.6zM443.9 164.7h0.6v0.6h-0.6zM418.0 165.3h0.6v0.6h-0.6zM411.0 195.6h0.6v0.6h-0.6zM408.7 208.6h0.6v0.6h-0.6zM419.6 210.5h0.6v0.6h-0.6zM452.9 167.1h0.6v0.6h-0.6zM422.5 161.6h0.6v0.6h-0.6zM452.1 199.0h0.6v0.6h-0.6zM398.2 209.3h0.6v0.6h-0.6zM424.2 183.0h0.6v0.6h-0.6zM412.7 188.9h0.6v0.6h-0.6zM424.3 212.3h0.6v0.6h-0.6zM444.7 212.9h0.6v0.6h-0.6zM413.1 186.4h0.6v0.6h-0.6zM428.1 211.0h0.6v0.6h-0.6zM393.3 206.9h0.6v0.6h-0.6zM408.0 207.6h0.6v0.6h-0.6zM452.1 169.1h0.6v0.6h-0.6zM452.4 205.3h0.6v0.6h-0.6zM402.6 208.2h0.6v0.6h-0.6zM416.4 209.5h0.6v0.6h-0.6zM450.1 166.5h0.6v0.6h-0.6zM452.6 192.0h0.6v0.6h-0.6zM422.7 196.0h0.6v0.6h-0.6zM422.9 198.0h0.6v0.6h-0.6zM426.6 210.1h0.6v0.6h-0.6zM409.6 207.3h0.6v0.6h-0.6zM429.3 212.2h0.6v0.6h-0.6zM452.2 197.2h0.6v0.6h-0.6zM414.8 172.6h0.6v0.6h-0.6zM396.2 208.8h0.6v0.6h-0.6zM400.9 199.9h0.6v0.6h-0.6zM451.6 170.3h0.6v0.6h-0.6zM453.4 181.2h0.6v0.6h-0.6zM452.4 180.4h0.6v0.6h-0.6zM412.7 171.0h0.6v0.6h-0.6zM406.1 198.2h0.6v0.6h-0.6zM420.6 162.5h0.6v0.6h-0.6zM422.8 211.2h0.6v0.6h-0.6zM419.7 210.8h0.6v0.6h-0.6zM401.1 206.9h0.6v0.6h-0.6zM415.4 210.0h0.6v0.6h-0.6zM424.3 197.5h0.6v0.6h-0.6zM403.0 208.1h0.6v0.6h-0.6zM395.0 201.2h0.6v0.6h-0.6zM418.9 162.2h0.6v0.6h-0.6zM450.5 201.7h0.6v0.6h-0.6zM408.1 196.7h0.6v0.6h-0.6zM393.8 200.3h0.6v0.6h-0.6zM447.6 162.5h0.6v0.6h-0.6zM411.8 194.9h0.6v0.6h-0.6zM416.6 167.3h0.6v0.6h-0.6zM413.3 172.4h0.6v0.6h-0.6zM413.8 180.8h0.6v0.6h-0.6zM414.2 209.1h0.6v0.6h-0.6zM414.1 211.8h0.6v0.6h-0.6zM423.8 197.8h0.6v0.6h-0.6zM402.2 196.9h0.6v0.6h-0.6zM412.1 181.4h0.6v0.6h-0.6zM452.8 186.9h0.6v0.6h-0.6zM414.3 168.5h0.6v0.6h-0.6zM447.1 212.7h0.6v0.6h-0.6zM395.1 208.9h0.6v0.6h-0.6zM451.7 171.4h0.6v0.6h-0.6zM451.2 202.6h0.6v0.6h-0.6zM452.7 199.5h0.6v0.6h-0.6zM420.1 161.0h0.6v0.6h-0.6zM413.9 209.6h0.6v0.6h-0.6zM417.6 165.1h0.6v0.6h-0.6zM411.5 194.6h0.6v0.6h-0.6zM416.0 166.9h0.6v0.6h-0.6zM428.6 160.2h0.6v0.6h-0.6zM412.3 187.8h0.6v0.6h-0.6zM444.2 213.0h0.6v0.6h-0.6zM452.4 179.4h0.6v0.6h-0.6zM428.3 160.3h0.6v0.6h-0.6zM400.0 209.5h0.6v0.6h-0.6zM401.4 207.1h0.6v0.6h-0.6zM428.8 211.5h0.6v0.6h-0.6zM412.9 178.8h0.6v0.6h-0.6zM405.6 196.8h0.6v0.6h-0.6zM415.4 165.1h0.6v0.6h-0.6zM422.1 197.7h0.6v0.6h-0.6zM424.7 197.6h0.6v0.6h-0.6zM421.7 211.2h0.6v0.6h-0.6zM444.7 209.9h0.6v0.6h-0.6zM396.5 200.9h0.6v0.6h-0.6zM393.5 201.6h0.6v0.6h-0.6zM409.0 194.4h0.6v0.6h-0.6zM443.4 162.7h0.6v0.6h-0.6zM416.3 210.1h0.6v0.6h-0.6zM451.7 200.3h0.6v0.6h-0.6zM393.1 207.5h0.6v0.6h-0.6zM413.3 175.7h0.6v0.6h-0.6zM448.8 163.7h0.6v0.6h-0.6zM448.7 160.5h0.6v0.6h-0.6zM396.7 199.7h0.6v0.6h-0.6zM405.1 197.1h0.6v0.6h-0.6zM391.0 207.2h0.6v0.6h-0.6zM452.8 170.7h0.6v0.6h-0.6zM448.1 163.7h0.6v0.6h-0.6zM395.4 207.8h0.6v0.6h-0.6zM421.1 163.7h0.6v0.6h-0.6zM452.1 198.7h0.6v0.6h-0.6zM453.1 199.0h0.6v0.6h-0.6zM453.4 180.2h0.6v0.6h-0.6zM414.0 169.9h0.6v0.6h-0.6zM392.2 206.2h0.6v0.6h-0.6zM418.2 165.9h0.6v0.6h-0.6zM445.5 207.3h0.6v0.6h-0.6zM411.9 190.4h0.6v0.6h-0.6zM452.4 165.1h0.6v0.6h-0.6zM412.9 176.2h0.6v0.6h-0.6zM422.5 212.0h0.6v0.6h-0.6zM452.6 190.2h0.6v0.6h-0.6zM451.5 206.5h0.6v0.6h-0.6zM413.5 191.4h0.6v0.6h-0.6zM413.3 211.3h0.6v0.6h-0.6zM452.4 201.2h0.6v0.6h-0.6zM401.9 199.6h0.6v0.6h-0.6zM411.1 195.0h0.6v0.6h-0.6zM422.6 197.5h0.6v0.6h-0.6zM420.6 164.2h0.6v0.6h-0.6zM413.2 170.9h0.6v0.6h-0.6zM453.0 180.4h0.6v0.6h-0.6zM450.8 160.5h0.6v0.6h-0.6zM392.7 207.2h0.6v0.6h-0.6zM410.1 193.7h0.6v0.6h-0.6zM444.5 209.5h0.6v0.6h-0.6zM400.1 209.3h0.6v0.6h-0.6zM452.8 191.0h0.6v0.6h-0.6zM410.7 195.3h0.6v0.6h-0.6zM421.3 197.2h0.6v0.6h-0.6zM453.5 189.8h0.6v0.6h-0.6zM411.1 186.0h0.6v0.6h-0.6zM451.9 195.6h0.6v0.6h-0.6zM412.7 188.5h0.6v0.6h-0.6zM411.7 193.7h0.6v0.6h-0.6zM408.7 208.0h0.6v0.6h-0.6zM409.6 207.5h0.6v0.6h-0.6z"/>
<g clip-path="url(#cd3)"><path fill="#000" stroke="#999" stroke-width="0.45" fill-opacity="0.03" d="M421.2 210.8 420.8 210.8 420.2 210.8 419.8 210.9 419.2 210.9 418.8 210.9 418.2 210.9 417.8 210.9 417.2 210.9 416.8 210.9 416.2 210.9 415.8 210.9 415.2 210.9 414.8 210.9 414.2 210.9 413.8 210.9 413.2 210.9 412.8 210.9 412.2 210.8 411.8 210.8 411.5 210.7 411.0 210.5 410.8 210.5 410.2 210.3 410.0 210.2 409.7 210.0 409.2 209.8 409.0 209.7 408.6 209.5 408.2 209.3 408.0 209.2 407.5 209.0 407.2 208.9 406.8 208.8 406.5 208.7 406.0 208.7 405.5 208.6 405.0 208.6 404.5 208.6 404.0 208.6 403.5 208.6 403.0 208.6 402.5 208.6 402.0 208.6 401.5 208.6 401.0 208.5 400.5 208.5 400.0 208.7 399.8 208.8 399.2 209.0 399.0 209.1 398.6 209.2 398.2 209.4 397.8 209.5 397.5 209.5 397.0 209.6 396.5 209.6 396.0 209.5 395.8 209.4 395.2 209.3 395.0 209.2 394.6 209.0 394.2 208.9 394.0 208.8 393.5 208.6 393.2 208.5 392.8 208.4 392.2 208.3 391.9 208.2 391.5 208.2 391.1 208.0 390.8 207.9 390.5 207.7 390.1 207.5 389.8 207.2 389.5 207.0 389.3 206.8 389.1 206.5 388.9 206.2 388.8 205.9 388.6 205.5 388.5 205.0 388.5 204.5 388.7 204.0 388.8 203.8 389.0 203.3 389.2 203.0 389.5 202.8 389.7 202.5 390.0 202.2 390.2 202.0 390.5 201.8 390.8 201.7 391.0 201.5 391.4 201.2 391.8 201.1 392.0 200.9 392.3 200.8 392.8 200.5 393.0 200.4 393.4 200.2 393.8 200.1 394.0 200.0 394.5 199.8 394.8 199.7 395.2 199.5 395.5 199.4 396.0 199.3 396.2 199.2 396.8 199.0 397.0 199.0 397.5 198.8 397.8 198.7 398.2 198.6 398.7 198.5 399.0 198.4 399.5 198.3 399.9 198.2 400.2 198.2 400.8 198.1 401.1 198.0 401.5 197.9 402.0 197.8 402.2 197.7 402.8 197.5 403.0 197.4 403.4 197.2 403.8 197.1 404.0 197.0 404.4 196.8 404.8 196.5 405.0 196.3 405.2 196.2 405.5 196.0 406.0 195.8 406.2 195.6 406.5 195.4 406.9 195.2 407.2 195.1 407.5 195.0 408.0 194.8 408.2 194.7 408.7 194.5 409.0 194.4 409.4 194.2 409.8 194.1 410.1 194.0 410.5 193.8 410.8 193.7 411.0 193.5 411.2 193.2 411.5 192.8 411.6 192.5 411.8 192.1 411.8 191.8 411.8 191.2 411.9 190.8 411.9 190.2 411.9 189.8 412.0 189.2 412.0 188.8 412.0 188.5 412.0 188.0 412.1 187.5 412.1 187.0 412.1 186.5 412.1 186.0 412.2 185.5 412.2 185.0 412.2 184.5 412.2 184.0 412.2 183.5 412.3 183.2 412.4 182.8 412.5 182.5 412.8 182.0 412.9 181.8 412.9 181.2 412.8 180.8 412.7 180.5 412.5 180.0 412.4 179.8 412.4 179.2 412.4 178.8 412.4 178.2 412.5 177.8 412.5 177.5 412.6 177.0 412.7 176.5 412.8 176.1 412.8 175.8 412.9 175.2 413.0 174.8 413.0 174.5 413.1 174.0 413.2 173.5 413.3 173.2 413.4 172.8 413.5 172.2 413.5 172.0 413.6 171.5 413.7 171.0 413.8 170.7 413.8 170.2 414.0 169.8 414.0 169.5 414.2 169.0 414.2 168.7 414.4 168.2 414.5 168.0 414.7 167.5 414.8 167.2 415.0 166.8 415.2 166.5 415.3 166.2 415.5 166.0 415.8 165.6 416.0 165.3 416.2 165.0 416.4 164.8 416.7 164.5 416.9 164.2 417.2 164.0 417.5 163.8 417.8 163.6 418.0 163.5 418.3 163.2 418.8 163.0 419.0 162.9 419.4 162.8 419.8 162.6 420.0 162.5 420.5 162.3 420.8 162.2 421.2 162.1 421.7 162.0 422.0 161.9 422.5 161.8 422.8 161.8 423.2 161.7 423.8 161.6 424.0 161.5 424.5 161.4 425.0 161.3 425.5 161.3 425.8 161.2 426.2 161.2 426.8 161.1 427.2 161.1 427.8 161.1 428.2 161.1 428.8 161.2 429.2 161.2 429.8 161.2 430.0 161.3 430.5 161.3 431.0 161.4 431.3 161.5 431.8 161.6 432.2 161.7 432.5 161.8 433.0 162.0 433.2 162.1 433.7 162.2 434.0 162.4 434.2 162.5 434.7 162.8 435.0 162.9 435.2 163.1 435.5 163.3 435.8 163.5 436.1 163.8 436.4 164.0 436.6 164.2 436.8 164.5 437.0 164.8 437.2 165.2 437.4 165.5 437.5 165.8 437.7 166.2 437.7 166.8 437.7 167.2 437.7 167.8 437.5 168.2 437.4 168.5 437.2 168.8 437.0 169.2 436.8 169.5 436.6 169.8 436.4 170.0 436.1 170.2 435.8 170.5 435.5 170.7 435.2 170.9 435.0 171.1 434.7 171.2 434.2 171.5 434.0 171.6 433.7 171.8 433.2 171.9 433.0 172.0 432.5 172.2 432.2 172.3 431.8 172.4 431.3 172.5 431.0 172.6 430.5 172.7 430.1 172.8 429.8 172.8 429.2 172.9 428.8 173.0 428.5 173.0 428.0 173.2 427.7 173.2 427.2 173.4 427.0 173.6 426.7 173.8 426.5 174.0 426.2 174.2 426.0 174.6 425.8 174.9 425.6 175.2 425.4 175.5 425.2 175.8 425.0 176.2 424.9 176.5 424.8 176.8 424.5 177.2 424.3 177.5 424.2 177.8 424.0 178.0 423.8 178.4 423.5 178.8 423.4 179.0 423.2 179.2 423.0 179.7 422.8 180.0 422.7 180.2 422.6 180.8 422.5 181.0 422.4 181.5 422.3 182.0 422.3 182.5 422.3 183.0 422.3 183.5 422.3 184.0 422.4 184.5 422.5 185.0 422.5 185.2 422.6 185.8 422.8 186.2 422.8 186.5 423.0 187.0 423.0 187.2 423.2 187.8 423.2 188.1 423.4 188.5 423.4 189.0 423.5 189.4 423.5 189.8 423.6 190.2 423.6 190.8 423.6 191.2 423.6 191.8 423.6 192.2 423.6 192.8 423.6 193.2 423.6 193.8 423.6 194.2 423.6 194.8 423.5 195.2 423.5 195.8 423.6 196.2 423.8 196.6 424.0 196.9 424.2 197.1 424.8 197.2 425.2 197.2 425.8 197.2 426.2 197.2 426.8 197.2 427.2 197.2 427.8 197.2 428.2 197.2 428.8 197.2 429.2 197.2 429.5 197.3 430.0 197.4 430.5 197.5 430.8 197.5 431.2 197.7 431.5 197.8 432.0 198.0 432.2 198.1 432.5 198.2 433.0 198.5 433.2 198.7 433.5 198.9 433.8 199.0 434.0 199.3 434.3 199.5 434.5 199.8 434.8 200.1 435.0 200.4 435.2 200.8 435.4 201.0 435.5 201.3 435.7 201.8 435.8 202.1 435.8 202.5 435.9 203.0 435.9 203.5 435.8 204.0 435.8 204.3 435.6 204.8 435.5 205.0 435.3 205.5 435.1 205.8 435.0 206.0 434.8 206.3 434.5 206.6 434.2 206.9 434.0 207.2 433.8 207.4 433.5 207.6 433.2 207.8 432.9 208.0 432.5 208.2 432.2 208.4 432.0 208.5 431.5 208.8 431.2 208.9 431.0 209.0 430.5 209.2 430.2 209.3 429.8 209.4 429.4 209.5 429.0 209.6 428.5 209.7 428.2 209.8 427.8 209.9 427.2 210.0 427.0 210.0 426.5 210.1 426.0 210.2 425.6 210.2 425.2 210.3 424.8 210.4 424.2 210.4 423.8 210.5 423.5 210.5 423.0 210.6 422.5 210.6 422.0 210.7 421.5 210.7 421.2 210.8Z"/>
<path fill="none" stroke="#888" stroke-width="0.45" d="M421.0 209.8 420.5 209.8 420.0 209.9 419.5 209.9 419.0 209.9 418.5 209.9 418.0 209.9 417.5 209.9 417.0 209.9 416.5 209.9 416.0 209.9 415.5 209.9 415.0 209.9 414.5 209.9 414.0 209.9 413.5 209.9 413.0 209.9 412.5 209.9 412.0 209.8 411.8 209.7 411.2 209.6 411.0 209.5 410.5 209.2 410.2 209.1 410.0 209.0 409.6 208.8 409.2 208.5 409.0 208.4 408.8 208.2 408.3 208.0 408.0 207.9 407.7 207.8 407.2 207.6 406.8 207.5 406.5 207.5 406.0 207.4 405.5 207.4 405.0 207.4 404.5 207.4 404.0 207.5 403.8 207.5 403.2 207.6 402.8 207.6 402.2 207.6 401.8 207.6 401.2 207.6 400.8 207.5 400.2 207.6 399.8 207.8 399.5 207.9 399.2 208.1 398.9 208.2 398.5 208.4 398.2 208.5 397.8 208.7 397.2 208.7 397.0 208.8 396.5 208.8 396.2 208.7 395.8 208.6 395.4 208.5 395.0 208.3 394.8 208.2 394.4 208.0 394.0 207.8 393.8 207.7 393.2 207.5 393.0 207.4 392.5 207.3 392.2 207.2 391.8 207.0 391.5 206.9 391.2 206.7 390.9 206.5 390.7 206.2 390.5 206.0 390.2 205.5 390.2 205.2 390.1 204.8 390.2 204.2 390.3 204.0 390.5 203.7 390.8 203.3 391.0 203.0 391.2 202.8 391.5 202.6 391.8 202.4 392.0 202.2 392.3 202.0 392.8 201.8 393.0 201.6 393.2 201.5 393.8 201.3 394.0 201.1 394.3 201.0 394.8 200.8 395.0 200.7 395.5 200.5 395.8 200.5 396.2 200.3 396.5 200.2 397.0 200.0 397.2 199.9 397.8 199.8 398.0 199.7 398.5 199.6 398.9 199.5 399.2 199.4 399.8 199.3 400.0 199.2 400.5 199.2 401.0 199.1 401.3 199.0 401.8 198.9 402.2 198.8 402.5 198.8 403.0 198.6 403.5 198.5 403.8 198.4 404.1 198.2 404.5 198.1 404.8 197.9 405.1 197.8 405.5 197.5 405.8 197.3 406.0 197.1 406.2 197.0 406.6 196.8 407.0 196.5 407.2 196.3 407.5 196.2 407.9 196.0 408.2 195.8 408.5 195.7 409.0 195.5 409.2 195.4 409.8 195.3 410.0 195.2 410.5 195.0 410.8 194.9 411.2 194.8 411.5 194.7 411.8 194.5 412.2 194.2 412.4 194.0 412.6 193.8 412.8 193.4 412.9 193.0 412.9 192.5 413.0 192.0 413.0 191.5 413.0 191.0 413.0 190.5 413.0 190.2 413.0 189.8 413.0 189.2 413.1 188.8 413.1 188.2 413.1 187.8 413.2 187.2 413.2 186.8 413.2 186.2 413.2 185.8 413.3 185.5 413.3 185.0 413.3 184.5 413.3 184.0 413.3 183.5 413.5 183.0 413.6 182.8 413.8 182.4 414.0 182.0 414.0 181.8 414.1 181.2 414.0 180.8 413.9 180.5 413.8 180.2 413.6 179.8 413.5 179.5 413.4 179.0 413.4 178.5 413.5 178.0 413.5 177.8 413.6 177.2 413.7 176.8 413.8 176.5 413.9 176.0 414.0 175.5 414.0 175.2 414.1 174.8 414.2 174.2 414.3 174.0 414.4 173.5 414.5 173.0 414.5 172.8 414.6 172.2 414.7 171.8 414.8 171.5 414.9 171.0 415.0 170.5 415.1 170.2 415.2 169.8 415.3 169.5 415.4 169.0 415.5 168.8 415.7 168.2 415.8 168.0 416.0 167.7 416.2 167.2 416.4 167.0 416.5 166.8 416.8 166.5 417.0 166.1 417.2 165.9 417.5 165.6 417.8 165.4 418.0 165.2 418.2 165.0 418.5 164.8 418.9 164.5 419.2 164.3 419.5 164.2 419.9 164.0 420.2 163.9 420.5 163.8 421.0 163.6 421.3 163.5 421.8 163.3 422.1 163.2 422.5 163.1 423.0 163.0 423.2 162.9 423.8 162.8 424.0 162.8 424.5 162.6 425.0 162.5 425.2 162.5 425.8 162.4 426.2 162.3 426.8 162.3 427.2 162.3 427.8 162.3 428.2 162.3 428.8 162.3 429.2 162.4 429.8 162.5 430.0 162.5 430.5 162.6 431.0 162.7 431.2 162.8 431.8 162.9 432.0 163.0 432.5 163.2 432.8 163.3 433.1 163.5 433.5 163.7 433.8 163.9 434.0 164.0 434.3 164.2 434.5 164.5 434.8 164.8 435.0 165.0 435.2 165.3 435.5 165.8 435.6 166.0 435.7 166.5 435.8 166.8 435.8 167.2 435.7 167.5 435.6 168.0 435.5 168.2 435.2 168.7 435.0 169.0 434.8 169.2 434.5 169.5 434.3 169.8 434.0 170.0 433.8 170.1 433.5 170.3 433.1 170.5 432.8 170.7 432.5 170.8 432.0 171.0 431.8 171.1 431.2 171.2 431.0 171.3 430.5 171.4 430.1 171.5 429.8 171.6 429.2 171.7 428.8 171.7 428.5 171.8 428.0 171.9 427.5 172.0 427.2 172.0 426.8 172.2 426.5 172.3 426.1 172.5 425.8 172.8 425.5 173.0 425.3 173.2 425.1 173.5 425.0 173.8 424.8 174.1 424.5 174.5 424.4 174.8 424.2 175.1 424.0 175.5 423.9 175.8 423.7 176.0 423.5 176.4 423.3 176.8 423.1 177.0 423.0 177.2 422.8 177.6 422.5 177.9 422.3 178.2 422.2 178.5 422.0 178.8 421.8 179.2 421.7 179.5 421.6 180.0 421.5 180.2 421.4 180.8 421.3 181.2 421.3 181.8 421.2 182.1 421.2 182.5 421.2 183.0 421.2 183.5 421.3 183.8 421.3 184.2 421.3 184.8 421.4 185.2 421.5 185.7 421.6 186.0 421.7 186.5 421.8 186.8 421.9 187.2 422.0 187.8 422.0 188.0 422.2 188.5 422.2 189.0 422.3 189.2 422.3 189.8 422.3 190.2 422.4 190.8 422.3 191.2 422.3 191.8 422.3 192.2 422.3 192.8 422.2 193.0 422.2 193.5 422.1 194.0 422.1 194.5 422.0 195.0 422.0 195.3 421.9 195.8 421.8 196.2 421.7 196.5 421.6 197.0 421.5 197.5 421.4 197.8 421.3 198.2 421.3 198.8 421.5 199.2 421.8 199.3 422.2 199.4 422.8 199.3 423.1 199.2 423.5 199.1 424.0 199.0 424.2 198.9 424.8 198.8 425.0 198.7 425.5 198.6 426.0 198.6 426.4 198.5 426.8 198.5 427.2 198.4 427.8 198.4 428.2 198.4 428.8 198.4 429.2 198.5 429.5 198.5 430.0 198.6 430.4 198.8 430.8 198.9 431.1 199.0 431.5 199.2 431.8 199.3 432.1 199.5 432.4 199.8 432.8 200.0 433.0 200.2 433.2 200.5 433.5 200.8 433.6 201.0 433.8 201.2 434.0 201.7 434.1 202.0 434.2 202.5 434.3 202.8 434.3 203.2 434.3 203.8 434.2 204.0 434.1 204.5 434.0 204.8 433.8 205.2 433.6 205.5 433.4 205.8 433.2 206.0 433.0 206.2 432.7 206.5 432.4 206.8 432.1 207.0 431.8 207.2 431.5 207.4 431.2 207.5 430.8 207.8 430.5 207.9 430.2 208.0 429.8 208.2 429.5 208.3 429.0 208.4 428.8 208.5 428.2 208.6 427.8 208.8 427.5 208.8 427.0 208.9 426.6 209.0 426.2 209.1 425.8 209.2 425.2 209.2 425.0 209.3 424.5 209.3 424.0 209.4 423.5 209.5 423.2 209.5 422.8 209.6 422.2 209.6 421.8 209.7 421.2 209.7 421.0 209.8Z"/>
<path fill="none" stroke="#808080" stroke-width="0.50" d="M419.0 209.0 418.5 209.0 418.0 209.1 417.5 209.1 417.0 209.0 416.5 209.0 416.2 209.0 415.8 209.0 415.2 209.0 414.8 209.0 414.3 209.0 414.0 209.0 413.5 209.0 413.2 209.0 412.8 208.9 412.2 208.9 411.9 208.8 411.5 208.6 411.2 208.5 410.9 208.2 410.5 208.0 410.2 207.8 410.0 207.6 409.8 207.4 409.5 207.2 409.2 207.0 408.8 206.8 408.5 206.6 408.1 206.5 407.8 206.4 407.2 206.3 406.8 206.3 406.5 206.2 406.0 206.2 405.7 206.2 405.2 206.3 404.8 206.4 404.2 206.4 404.0 206.5 403.5 206.6 403.0 206.7 402.5 206.7 402.2 206.8 401.9 206.8 401.5 206.7 401.0 206.7 400.5 206.7 400.1 206.8 399.8 206.9 399.5 207.0 399.1 207.2 398.8 207.5 398.5 207.6 398.0 207.8 397.8 207.8 397.2 207.9 396.8 208.0 396.2 207.9 395.8 207.8 395.5 207.6 395.2 207.5 394.8 207.2 394.5 207.1 394.2 206.9 393.9 206.8 393.5 206.6 393.2 206.5 392.8 206.2 392.5 206.1 392.2 205.9 392.0 205.6 391.8 205.2 391.7 205.0 391.7 204.5 391.8 204.2 392.0 203.8 392.2 203.5 392.5 203.2 392.8 203.0 393.0 202.8 393.2 202.7 393.5 202.5 394.0 202.2 394.2 202.1 394.5 202.0 395.0 201.8 395.2 201.7 395.7 201.5 396.0 201.4 396.4 201.2 396.8 201.1 397.0 201.0 397.5 200.8 397.8 200.8 398.2 200.6 398.7 200.5 399.0 200.4 399.5 200.3 399.8 200.2 400.2 200.1 400.8 200.0 401.0 200.0 401.5 199.9 402.0 199.8 402.5 199.8 402.8 199.7 403.2 199.6 403.8 199.5 404.0 199.5 404.5 199.3 404.8 199.2 405.2 199.0 405.5 198.9 405.8 198.8 406.1 198.5 406.5 198.2 406.8 198.0 407.0 197.8 407.2 197.7 407.5 197.5 407.8 197.2 408.2 197.0 408.5 196.8 408.8 196.7 409.2 196.5 409.5 196.4 409.9 196.2 410.2 196.2 410.8 196.0 411.0 195.9 411.5 195.8 411.8 195.8 412.2 195.6 412.6 195.5 413.0 195.3 413.2 195.1 413.5 194.9 413.8 194.5 413.9 194.2 414.0 193.8 414.0 193.5 414.1 193.0 414.0 192.5 414.0 192.0 414.0 191.5 414.0 191.0 414.0 190.8 414.0 190.5 414.0 190.0 414.0 189.5 414.0 189.0 414.1 188.5 414.1 188.0 414.1 187.5 414.2 187.0 414.2 186.5 414.2 186.0 414.2 185.5 414.2 185.0 414.2 184.5 414.2 184.0 414.3 183.8 414.3 183.2 414.5 182.8 414.6 182.5 414.8 182.1 414.8 181.8 414.9 181.2 414.8 180.8 414.8 180.5 414.6 180.0 414.5 179.6 414.4 179.2 414.4 178.8 414.5 178.2 414.5 178.0 414.6 177.5 414.7 177.0 414.8 176.8 414.9 176.2 415.0 175.9 415.1 175.5 415.2 175.0 415.2 174.7 415.3 174.2 415.4 173.8 415.5 173.4 415.6 173.0 415.7 172.5 415.8 172.1 415.8 171.8 415.9 171.2 416.0 170.9 416.1 170.5 416.2 170.1 416.4 169.8 416.5 169.4 416.7 169.0 416.8 168.8 417.0 168.3 417.2 168.0 417.3 167.8 417.5 167.5 417.8 167.2 418.0 166.9 418.2 166.6 418.5 166.4 418.8 166.2 419.0 166.0 419.4 165.8 419.8 165.5 420.0 165.4 420.3 165.2 420.8 165.1 421.0 165.0 421.5 164.8 421.8 164.7 422.2 164.5 422.5 164.4 423.0 164.3 423.2 164.2 423.8 164.0 424.0 164.0 424.5 163.8 424.8 163.7 425.2 163.5 425.5 163.5 426.0 163.4 426.5 163.3 427.0 163.3 427.5 163.3 428.0 163.3 428.5 163.4 429.0 163.5 429.2 163.5 429.8 163.6 430.2 163.7 430.5 163.8 431.0 164.0 431.2 164.1 431.7 164.2 432.0 164.4 432.2 164.6 432.5 164.8 432.9 165.0 433.1 165.2 433.3 165.5 433.5 165.8 433.8 166.2 433.8 166.5 433.9 167.0 433.8 167.5 433.8 167.8 433.5 168.2 433.3 168.5 433.1 168.8 432.9 169.0 432.5 169.2 432.2 169.4 432.0 169.6 431.7 169.8 431.2 169.9 431.0 170.0 430.5 170.2 430.2 170.3 429.8 170.4 429.2 170.5 429.0 170.5 428.5 170.6 428.0 170.7 427.8 170.8 427.2 170.8 426.8 170.9 426.5 171.0 426.0 171.1 425.7 171.2 425.2 171.5 425.0 171.7 424.8 171.9 424.5 172.2 424.2 172.5 424.1 172.8 423.9 173.0 423.8 173.4 423.6 173.8 423.5 174.0 423.2 174.5 423.1 174.8 423.0 175.0 422.8 175.4 422.5 175.8 422.4 176.0 422.2 176.2 422.0 176.5 421.8 176.9 421.5 177.2 421.4 177.5 421.2 177.8 421.0 178.1 420.8 178.5 420.7 178.8 420.6 179.2 420.5 179.7 420.4 180.0 420.4 180.5 420.3 181.0 420.3 181.5 420.3 182.0 420.3 182.5 420.3 183.0 420.3 183.5 420.3 184.0 420.3 184.5 420.4 185.0 420.4 185.5 420.5 185.9 420.6 186.2 420.7 186.8 420.8 187.1 420.8 187.5 421.0 188.0 421.0 188.2 421.1 188.8 421.2 189.2 421.2 189.8 421.2 190.2 421.1 190.8 421.0 191.2 420.9 191.5 420.8 191.9 420.5 192.2 420.4 192.5 420.2 192.8 420.0 193.1 419.8 193.5 419.8 194.0 420.0 194.5 420.1 194.8 420.2 195.0 420.3 195.5 420.3 196.0 420.2 196.2 420.0 196.7 419.8 197.0 419.7 197.2 419.5 197.6 419.2 198.0 419.1 198.2 418.9 198.5 418.8 198.8 418.5 199.2 418.4 199.5 418.2 199.9 418.1 200.2 418.0 200.6 417.9 201.0 418.0 201.4 418.2 201.7 418.5 201.8 419.0 202.0 419.2 202.0 419.8 202.0 420.2 202.0 420.5 202.0 421.0 201.9 421.4 201.8 421.8 201.6 422.0 201.5 422.5 201.3 422.8 201.1 423.0 201.0 423.5 200.8 423.8 200.6 424.0 200.5 424.5 200.3 424.8 200.2 425.2 200.0 425.5 199.9 426.0 199.8 426.4 199.8 426.8 199.7 427.2 199.7 427.8 199.7 428.2 199.7 428.8 199.7 429.1 199.8 429.5 199.8 430.0 200.0 430.2 200.0 430.8 200.2 431.0 200.4 431.2 200.5 431.6 200.8 431.9 201.0 432.1 201.2 432.3 201.5 432.5 201.9 432.7 202.2 432.8 202.5 432.8 203.0 432.8 203.5 432.8 203.9 432.7 204.2 432.5 204.6 432.3 205.0 432.1 205.2 431.9 205.5 431.7 205.8 431.4 206.0 431.0 206.2 430.8 206.4 430.5 206.6 430.2 206.8 429.8 207.0 429.5 207.1 429.0 207.2 428.8 207.3 428.3 207.5 428.0 207.6 427.5 207.7 427.2 207.8 426.8 207.9 426.4 208.0 426.0 208.1 425.5 208.2 425.0 208.2 424.8 208.3 424.2 208.4 423.8 208.5 423.4 208.5 423.0 208.6 422.5 208.6 422.0 208.7 421.6 208.8 421.2 208.8 420.8 208.9 420.2 208.9 419.8 208.9 419.2 209.0 419.0 209.0Z"/>
<path fill="none" stroke="#777" stroke-width="0.50" d="M417.0 196.5 416.5 196.5 416.2 196.5 415.9 196.2 415.8 195.9 415.7 195.5 415.7 195.0 415.7 194.5 415.6 194.0 415.5 193.6 415.4 193.2 415.3 192.8 415.2 192.5 415.2 192.0 415.1 191.5 415.1 191.0 415.1 190.5 415.1 190.0 415.1 189.5 415.1 189.0 415.1 188.5 415.2 188.0 415.2 187.5 415.2 187.0 415.2 186.5 415.2 186.0 415.2 185.5 415.2 185.0 415.2 184.5 415.2 184.0 415.2 183.5 415.3 183.2 415.4 182.8 415.5 182.3 415.6 182.0 415.6 181.5 415.7 181.0 415.6 180.5 415.6 180.0 415.5 179.5 415.5 179.2 415.5 179.0 415.6 178.5 415.7 178.0 415.8 177.8 415.9 177.2 416.0 177.0 416.2 176.5 416.2 176.1 416.3 175.8 416.4 175.2 416.5 174.9 416.6 174.5 416.6 174.0 416.7 173.5 416.8 173.2 416.8 172.8 416.9 172.2 417.0 171.9 417.1 171.5 417.2 171.0 417.3 170.8 417.4 170.2 417.5 170.0 417.8 169.5 417.9 169.2 418.0 169.0 418.2 168.7 418.5 168.3 418.8 168.0 419.0 167.8 419.2 167.6 419.5 167.4 419.8 167.2 420.0 167.0 420.5 166.8 420.8 166.6 421.1 166.5 421.5 166.3 421.8 166.2 422.2 166.1 422.5 166.0 423.0 165.8 423.2 165.7 423.8 165.5 424.0 165.4 424.3 165.2 424.7 165.0 425.0 164.8 425.2 164.7 425.7 164.5 426.0 164.4 426.5 164.3 427.0 164.3 427.5 164.4 428.0 164.5 428.2 164.6 428.8 164.7 429.0 164.8 429.5 164.9 429.8 165.0 430.2 165.2 430.5 165.3 430.8 165.5 431.1 165.8 431.4 166.0 431.5 166.2 431.7 166.8 431.7 167.2 431.5 167.8 431.3 168.0 431.0 168.2 430.8 168.4 430.5 168.6 430.0 168.7 429.8 168.8 429.2 168.8 428.8 168.9 428.4 169.0 428.0 169.2 427.8 169.3 427.3 169.5 427.0 169.6 426.5 169.7 426.2 169.8 425.8 169.8 425.2 169.9 425.0 170.0 424.6 170.2 424.2 170.5 424.0 170.7 423.8 171.0 423.5 171.2 423.3 171.5 423.1 171.8 422.9 172.0 422.7 172.2 422.5 172.7 422.4 173.0 422.2 173.4 422.1 173.8 422.0 174.1 421.8 174.5 421.7 174.8 421.5 175.0 421.2 175.4 421.0 175.7 420.8 176.0 420.6 176.2 420.4 176.5 420.2 176.8 420.0 177.1 419.8 177.5 419.7 177.8 419.5 178.2 419.5 178.5 419.4 179.0 419.3 179.5 419.3 180.0 419.3 180.5 419.3 181.0 419.3 181.5 419.3 182.0 419.3 182.5 419.3 183.0 419.3 183.5 419.3 184.0 419.3 184.5 419.3 185.0 419.3 185.5 419.4 186.0 419.5 186.5 419.5 186.8 419.6 187.2 419.8 187.7 419.8 188.0 419.9 188.5 420.0 189.0 420.0 189.2 420.0 189.8 420.0 190.0 419.9 190.5 419.8 191.0 419.6 191.2 419.5 191.6 419.3 192.0 419.2 192.2 419.0 192.5 418.8 192.9 418.5 193.2 418.3 193.5 418.1 193.8 418.0 194.0 417.9 194.5 418.0 195.0 418.0 195.2 418.0 195.8 417.9 196.0 417.6 196.2 417.2 196.5 417.0 196.5ZM419.2 208.0 418.8 208.1 418.2 208.1 417.8 208.1 417.2 208.1 416.8 208.1 416.3 208.0 416.0 208.0 415.5 207.9 415.0 207.9 414.5 207.9 414.0 207.9 413.5 207.9 413.0 207.8 412.7 207.8 412.2 207.6 412.0 207.4 411.7 207.2 411.4 207.0 411.2 206.8 411.0 206.4 410.8 206.0 410.6 205.8 410.4 205.5 410.2 205.2 410.0 205.0 409.5 204.8 409.2 204.7 408.8 204.7 408.2 204.7 408.0 204.8 407.5 204.8 407.0 204.9 406.5 205.0 406.2 205.0 405.8 205.1 405.2 205.2 405.0 205.3 404.5 205.4 404.0 205.5 403.8 205.6 403.2 205.7 402.8 205.8 402.5 205.8 402.0 205.8 401.5 205.8 401.0 205.8 400.5 205.8 400.0 205.9 399.7 206.0 399.2 206.2 399.0 206.4 398.8 206.5 398.2 206.7 398.0 206.8 397.5 207.0 397.0 207.0 396.5 206.9 396.0 206.8 395.8 206.6 395.5 206.4 395.2 206.2 394.8 206.0 394.5 205.8 394.2 205.6 394.0 205.4 393.8 205.1 393.6 204.8 393.7 204.2 393.8 204.0 394.0 203.8 394.3 203.5 394.7 203.2 395.0 203.1 395.2 202.9 395.6 202.8 396.0 202.6 396.2 202.4 396.6 202.2 397.0 202.1 397.2 202.0 397.8 201.8 398.0 201.7 398.5 201.5 398.8 201.5 399.2 201.3 399.6 201.2 400.0 201.2 400.5 201.1 400.8 201.0 401.2 200.9 401.8 200.9 402.2 200.8 402.6 200.8 403.0 200.7 403.5 200.7 404.0 200.6 404.5 200.5 404.8 200.5 405.2 200.4 405.8 200.3 406.0 200.2 406.5 200.0 406.8 199.8 407.0 199.7 407.2 199.5 407.5 199.2 407.8 199.0 408.0 198.7 408.2 198.5 408.5 198.2 408.9 198.0 409.2 197.8 409.5 197.6 409.8 197.5 410.2 197.3 410.5 197.2 411.0 197.1 411.5 197.0 412.0 197.0 412.5 197.0 413.0 197.1 413.5 197.2 413.8 197.3 414.1 197.5 414.5 197.8 414.8 197.9 415.0 198.1 415.2 198.3 415.5 198.5 415.8 198.8 415.9 199.2 415.9 199.8 415.8 200.0 415.5 200.5 415.3 200.8 415.1 201.0 414.9 201.2 414.7 201.5 414.5 201.8 414.3 202.2 414.2 202.5 414.3 202.8 414.5 203.0 414.9 203.2 415.2 203.3 415.8 203.4 416.2 203.5 416.7 203.5 417.0 203.5 417.5 203.5 418.0 203.5 418.5 203.5 419.0 203.5 419.5 203.5 419.9 203.5 420.2 203.5 420.8 203.4 421.2 203.2 421.5 203.2 421.9 203.0 422.2 202.8 422.5 202.7 422.9 202.5 423.2 202.3 423.5 202.1 423.8 202.0 424.2 201.8 424.5 201.6 424.9 201.5 425.2 201.4 425.8 201.3 426.0 201.2 426.5 201.2 427.0 201.2 427.5 201.2 427.8 201.2 428.2 201.3 428.8 201.4 429.2 201.5 429.5 201.5 430.0 201.7 430.2 201.9 430.5 202.1 430.8 202.3 431.0 202.8 431.1 203.0 431.1 203.5 431.0 203.9 430.9 204.2 430.7 204.5 430.5 204.8 430.2 205.0 429.9 205.2 429.5 205.5 429.2 205.6 429.0 205.8 428.5 206.0 428.2 206.1 427.9 206.2 427.5 206.4 427.2 206.5 426.8 206.7 426.5 206.8 426.0 206.9 425.7 207.0 425.2 207.1 424.8 207.2 424.3 207.2 424.0 207.3 423.5 207.4 423.0 207.5 422.7 207.5 422.2 207.6 421.8 207.7 421.2 207.7 421.0 207.8 420.5 207.8 420.0 207.9 419.5 208.0 419.2 208.0Z"/>
<path fill="none" stroke="#707070" stroke-width="0.55" d="M418.8 175.8 418.2 175.8 418.1 175.5 418.0 175.2 417.9 174.8 417.9 174.2 417.9 173.8 418.0 173.2 418.0 172.9 418.1 172.5 418.1 172.0 418.2 171.5 418.3 171.2 418.4 170.8 418.5 170.4 418.7 170.0 418.8 169.8 419.0 169.4 419.2 169.1 419.5 168.8 419.8 168.5 420.0 168.3 420.2 168.1 420.5 168.0 421.0 167.8 421.2 167.7 421.8 167.6 422.2 167.5 422.5 167.5 423.0 167.5 423.2 167.5 423.8 167.5 424.0 167.5 424.4 167.2 424.6 167.0 424.8 166.8 425.0 166.4 425.2 166.1 425.5 165.8 425.8 165.6 426.0 165.5 426.5 165.3 427.0 165.4 427.3 165.5 427.5 165.8 427.5 166.1 427.3 166.5 427.1 166.8 426.8 167.0 426.7 167.2 426.5 167.5 426.2 167.9 426.0 168.2 425.8 168.3 425.2 168.3 424.8 168.3 424.4 168.5 424.2 168.8 424.0 169.0 423.8 169.3 423.5 169.7 423.3 170.0 423.1 170.2 422.8 170.5 422.6 170.8 422.3 171.0 422.1 171.2 421.8 171.5 421.5 171.8 421.3 172.0 421.1 172.2 421.0 172.5 420.8 173.0 420.8 173.5 420.7 173.8 420.5 174.2 420.4 174.5 420.2 174.8 419.9 175.0 419.6 175.2 419.3 175.5 419.0 175.7 418.8 175.8ZM417.5 192.8 417.0 192.8 416.7 192.8 416.4 192.5 416.2 192.2 416.1 191.8 416.0 191.3 416.0 191.0 415.9 190.5 415.9 190.0 416.0 189.5 416.0 189.1 416.0 188.8 416.1 188.2 416.1 187.8 416.2 187.2 416.2 186.8 416.2 186.2 416.2 185.8 416.2 185.2 416.1 184.8 416.1 184.2 416.0 183.8 416.1 183.2 416.1 182.8 416.2 182.2 416.2 181.8 416.3 181.5 416.3 181.0 416.4 180.5 416.4 180.0 416.5 179.7 416.6 179.2 416.8 179.0 417.0 178.6 417.2 178.3 417.5 178.2 417.8 178.3 417.9 178.8 418.0 179.0 418.2 179.5 418.2 179.8 418.3 180.2 418.5 180.8 418.5 181.0 418.5 181.5 418.5 182.0 418.5 182.5 418.5 182.8 418.4 183.2 418.4 183.8 418.3 184.2 418.3 184.8 418.3 185.2 418.3 185.8 418.4 186.2 418.5 186.8 418.5 187.0 418.7 187.5 418.8 187.8 418.9 188.2 419.0 188.7 419.0 189.0 419.1 189.5 419.1 190.0 419.0 190.5 419.0 190.8 418.8 191.2 418.7 191.5 418.5 191.9 418.3 192.2 418.0 192.5 417.8 192.7 417.5 192.8ZM411.8 201.5 411.2 201.6 410.8 201.6 410.2 201.6 409.8 201.5 409.5 201.5 409.0 201.3 408.8 201.0 408.8 200.5 408.9 200.0 409.0 199.7 409.2 199.3 409.5 199.0 409.7 198.8 410.0 198.5 410.2 198.4 410.6 198.2 411.0 198.1 411.5 198.1 412.0 198.1 412.5 198.2 412.8 198.4 413.0 198.5 413.4 198.8 413.7 199.0 413.9 199.2 414.0 199.8 413.8 200.2 413.6 200.5 413.3 200.8 413.0 201.0 412.8 201.1 412.5 201.2 412.0 201.4 411.8 201.5ZM397.8 206.0 397.2 206.0 397.0 205.9 396.6 205.8 396.3 205.5 396.1 205.2 396.0 205.0 395.8 204.5 396.0 204.0 396.2 203.8 396.4 203.5 396.7 203.2 397.0 203.0 397.2 202.9 397.5 202.7 398.0 202.5 398.2 202.4 398.7 202.2 399.0 202.2 399.5 202.1 399.8 202.0 400.2 201.9 400.8 201.8 401.0 201.7 401.5 201.7 402.0 201.6 402.5 201.6 403.0 201.5 403.5 201.5 404.0 201.5 404.5 201.5 405.0 201.6 405.5 201.6 406.0 201.7 406.5 201.7 406.8 201.8 407.2 202.0 407.4 202.2 407.3 202.8 407.1 203.0 406.9 203.2 406.7 203.5 406.3 203.8 406.0 203.9 405.8 204.0 405.2 204.2 405.0 204.3 404.5 204.5 404.2 204.6 403.8 204.7 403.5 204.8 403.0 205.0 402.8 205.0 402.2 205.1 401.8 205.1 401.2 205.1 400.8 205.1 400.2 205.1 399.8 205.2 399.5 205.4 399.2 205.5 398.8 205.7 398.5 205.8 398.0 206.0 397.8 206.0ZM418.5 207.3 418.0 207.3 417.5 207.3 417.2 207.2 416.8 207.1 416.3 207.0 416.0 206.9 415.5 206.8 415.2 206.7 414.8 206.7 414.2 206.6 413.9 206.5 413.5 206.3 413.3 206.0 413.5 205.6 413.8 205.4 414.2 205.2 414.5 205.2 415.0 205.1 415.4 205.0 415.8 204.9 416.2 204.8 416.7 204.8 417.0 204.7 417.5 204.7 418.0 204.6 418.5 204.6 419.0 204.6 419.5 204.6 420.0 204.6 420.5 204.6 421.0 204.5 421.2 204.4 421.8 204.3 422.0 204.2 422.3 204.0 422.7 203.8 423.0 203.5 423.2 203.3 423.5 203.1 423.8 203.0 424.1 202.8 424.5 202.6 424.8 202.5 425.2 202.3 425.6 202.2 426.0 202.2 426.4 202.2 426.8 202.3 427.2 202.5 427.5 202.7 427.8 202.9 428.0 203.1 428.2 203.5 428.3 203.8 428.2 204.1 428.1 204.5 427.9 204.8 427.7 205.0 427.4 205.2 427.1 205.5 426.8 205.7 426.5 205.8 426.0 206.0 425.8 206.1 425.2 206.2 424.8 206.2 424.5 206.3 424.0 206.3 423.5 206.3 423.0 206.4 422.5 206.4 422.2 206.5 421.8 206.6 421.2 206.7 420.9 206.8 420.5 206.8 420.0 206.9 419.7 207.0 419.2 207.1 418.8 207.2 418.5 207.3Z"/></g>
<g clip-path="url(#cd3)"><path fill="#000" stroke="#808080" stroke-width="0.40" fill-opacity="0.03" d="M438.5 212.5 438.0 212.6 437.5 212.6 437.0 212.6 436.5 212.6 436.0 212.5 435.8 212.4 435.2 212.3 435.0 212.2 434.6 212.0 434.2 211.8 434.0 211.7 433.7 211.5 433.3 211.2 433.0 211.0 432.8 210.8 432.5 210.6 432.2 210.4 432.0 210.2 431.8 209.9 431.5 209.6 431.3 209.2 431.2 209.0 431.2 208.5 431.3 208.2 431.4 207.8 431.5 207.3 431.6 207.0 431.6 206.5 431.6 206.0 431.5 205.7 431.3 205.2 431.2 205.0 431.0 204.8 430.8 204.5 430.5 204.2 430.2 204.0 429.8 203.8 429.5 203.6 429.2 203.4 428.9 203.2 428.5 203.0 428.2 202.9 427.9 202.8 427.5 202.5 427.2 202.3 427.0 202.1 426.8 201.8 426.6 201.5 426.4 201.2 426.2 200.9 426.0 200.5 425.9 200.2 425.8 199.8 425.7 199.5 425.6 199.0 425.6 198.5 425.7 198.0 425.8 197.7 425.8 197.2 425.9 196.8 426.0 196.4 426.0 196.0 426.1 195.5 426.1 195.0 426.0 194.5 426.0 194.2 425.8 193.8 425.7 193.5 425.5 193.2 425.2 192.8 425.0 192.5 424.8 192.2 424.6 192.0 424.4 191.8 424.2 191.5 424.0 191.1 423.8 190.8 423.8 190.4 423.6 190.0 423.5 189.5 423.5 189.2 423.4 188.8 423.4 188.2 423.3 187.8 423.3 187.2 423.3 186.8 423.3 186.2 423.4 185.8 423.5 185.4 423.7 185.0 424.0 184.8 424.2 184.6 424.5 184.5 425.0 184.3 425.2 184.1 425.5 183.9 425.8 183.6 425.9 183.2 426.0 182.8 425.9 182.2 425.8 181.8 425.5 181.5 425.3 181.2 425.0 181.1 424.8 180.9 424.4 180.8 424.0 180.5 423.8 180.3 423.6 180.0 423.5 179.8 423.4 179.2 423.3 178.8 423.4 178.2 423.4 177.8 423.5 177.2 423.5 177.0 423.6 176.5 423.7 176.0 423.8 175.7 423.8 175.2 424.0 174.8 424.0 174.5 424.2 174.0 424.3 173.8 424.5 173.2 424.6 173.0 424.8 172.8 425.0 172.5 425.2 172.2 425.5 171.9 425.7 171.5 425.8 171.2 425.8 170.8 425.8 170.2 425.8 169.8 426.0 169.2 426.0 169.0 426.2 168.5 426.3 168.2 426.5 167.9 426.7 167.5 426.9 167.2 427.0 167.0 427.2 166.6 427.5 166.2 427.7 166.0 427.9 165.8 428.1 165.5 428.3 165.2 428.6 165.0 429.0 164.8 429.2 164.6 429.6 164.5 430.0 164.4 430.4 164.2 430.8 164.0 431.0 163.8 431.2 163.5 431.4 163.2 431.5 163.0 431.8 162.5 431.9 162.2 432.0 162.0 432.2 161.5 432.4 161.2 432.6 161.0 432.8 160.8 433.1 160.5 433.4 160.2 433.8 160.1 434.0 159.9 434.4 159.8 434.8 159.6 435.1 159.5 435.5 159.4 436.0 159.3 436.4 159.2 436.8 159.2 437.2 159.2 437.5 159.3 438.0 159.4 438.3 159.5 438.7 159.8 439.0 160.0 439.1 160.2 439.2 160.8 439.1 161.2 439.0 161.6 438.9 162.0 438.8 162.5 438.7 162.8 438.7 163.2 438.7 163.8 438.7 164.2 438.8 164.5 439.0 165.0 439.1 165.2 439.3 165.5 439.5 165.8 439.8 166.1 440.0 166.3 440.3 166.5 440.8 166.7 441.0 166.8 441.5 166.9 442.0 167.0 442.5 166.9 443.0 166.9 443.4 166.8 443.8 166.6 444.1 166.5 444.5 166.4 444.8 166.2 445.2 166.2 445.8 166.2 446.0 166.3 446.4 166.5 446.7 166.8 446.9 167.0 447.1 167.2 447.3 167.5 447.5 167.9 447.7 168.2 447.8 168.5 448.0 168.9 448.2 169.2 448.3 169.5 448.5 170.0 448.6 170.2 448.8 170.7 448.8 171.0 449.0 171.5 449.1 171.8 449.2 172.2 449.3 172.5 449.5 173.0 449.5 173.2 449.7 173.8 449.8 174.1 449.9 174.5 450.0 175.0 450.0 175.2 450.1 175.8 450.2 176.2 450.3 176.5 450.4 177.0 450.4 177.5 450.5 177.9 450.6 178.2 450.6 178.8 450.7 179.2 450.7 179.8 450.8 180.0 450.8 180.5 450.9 181.0 450.9 181.5 451.0 182.0 451.0 182.3 451.1 182.8 451.1 183.2 451.2 183.8 451.2 184.2 451.2 184.8 451.3 185.0 451.2 185.3 451.2 185.8 451.2 186.2 451.1 186.8 451.0 187.2 451.0 187.5 450.8 188.0 450.8 188.3 450.6 188.8 450.5 189.0 450.3 189.5 450.2 189.8 450.1 190.2 450.0 190.7 450.0 190.8 450.0 191.2 450.1 191.8 450.2 192.2 450.2 192.8 450.2 193.2 450.2 193.8 450.2 194.2 450.1 194.8 450.0 195.2 450.0 195.5 449.9 196.0 449.8 196.5 449.7 196.8 449.6 197.2 449.5 197.7 449.4 198.0 449.3 198.5 449.2 198.8 449.1 199.2 449.0 199.6 448.9 200.0 448.8 200.4 448.6 200.8 448.5 201.1 448.4 201.5 448.2 201.8 448.1 202.2 448.0 202.5 447.8 203.0 447.7 203.2 447.5 203.7 447.3 204.0 447.2 204.2 447.0 204.6 446.8 205.0 446.5 205.2 446.3 205.5 446.1 205.8 445.8 206.0 445.5 206.2 445.3 206.5 445.0 206.7 444.8 207.0 444.5 207.2 444.3 207.5 444.1 207.8 443.9 208.0 443.7 208.2 443.5 208.6 443.2 209.0 443.1 209.2 443.0 209.5 442.8 209.9 442.5 210.2 442.3 210.5 442.1 210.8 441.9 211.0 441.6 211.2 441.2 211.5 441.0 211.6 440.8 211.8 440.3 212.0 440.0 212.1 439.6 212.2 439.2 212.4 438.8 212.5 438.5 212.5Z"/>
<path fill="#000" stroke="#717171" stroke-width="0.46" fill-opacity="0.04" d="M438.2 210.3 437.8 210.3 437.2 210.3 436.8 210.3 436.5 210.2 436.0 210.1 435.6 210.0 435.2 209.9 434.9 209.8 434.5 209.6 434.2 209.4 433.9 209.2 433.6 209.0 433.2 208.8 433.0 208.5 432.8 208.2 432.7 208.0 432.5 207.6 432.4 207.2 432.3 206.8 432.2 206.4 432.1 206.0 432.0 205.6 431.8 205.2 431.7 205.0 431.5 204.8 431.2 204.4 431.0 204.2 430.8 203.9 430.5 203.7 430.2 203.5 429.9 203.2 429.5 203.0 429.2 202.8 429.0 202.6 428.8 202.4 428.5 202.2 428.2 201.9 428.0 201.6 427.8 201.2 427.6 201.0 427.5 200.8 427.2 200.4 427.0 200.0 426.8 199.8 426.7 199.5 426.5 199.1 426.4 198.8 426.3 198.2 426.2 198.0 426.2 197.5 426.2 197.1 426.3 196.8 426.3 196.2 426.4 195.8 426.4 195.2 426.3 194.8 426.3 194.2 426.2 194.0 426.1 193.5 426.0 193.2 425.8 192.8 425.6 192.5 425.5 192.2 425.2 191.8 425.1 191.5 425.0 191.2 424.8 190.8 424.7 190.5 424.6 190.0 424.5 189.7 424.4 189.2 424.3 188.8 424.3 188.2 424.2 188.0 424.2 187.5 424.1 187.0 424.2 186.5 424.2 186.0 424.3 185.8 424.5 185.5 424.8 185.1 425.0 184.9 425.2 184.7 425.5 184.4 425.8 184.1 426.0 183.8 426.1 183.5 426.2 183.0 426.3 182.8 426.2 182.5 426.1 182.0 426.0 181.6 425.8 181.2 425.6 181.0 425.3 180.8 425.0 180.5 424.8 180.2 424.6 180.0 424.4 179.8 424.3 179.2 424.2 179.0 424.2 178.5 424.2 178.0 424.2 177.6 424.3 177.2 424.4 176.8 424.5 176.2 424.5 176.0 424.6 175.5 424.7 175.0 424.8 174.8 425.0 174.2 425.1 174.0 425.2 173.7 425.5 173.3 425.7 173.0 425.9 172.8 426.1 172.5 426.3 172.2 426.5 172.0 426.7 171.5 426.8 171.2 426.8 170.8 426.8 170.2 426.9 169.8 427.0 169.3 427.1 169.0 427.2 168.7 427.5 168.2 427.6 168.0 427.8 167.8 428.0 167.5 428.2 167.1 428.5 166.8 428.8 166.6 429.0 166.4 429.2 166.2 429.6 166.0 430.0 165.8 430.2 165.7 430.7 165.5 431.0 165.3 431.2 165.1 431.5 164.9 431.8 164.6 432.0 164.3 432.2 164.0 432.4 163.8 432.5 163.5 432.8 163.2 433.0 162.9 433.2 162.6 433.5 162.3 433.8 162.1 434.0 162.0 434.4 161.8 434.8 161.6 435.2 161.5 435.5 161.5 436.0 161.5 436.3 161.5 436.8 161.6 437.0 161.8 437.2 162.1 437.5 162.5 437.6 162.8 437.8 163.2 437.8 163.5 438.0 164.0 438.1 164.2 438.2 164.6 438.4 165.0 438.6 165.2 438.8 165.5 439.0 165.8 439.2 166.1 439.5 166.4 439.8 166.6 440.0 166.8 440.5 167.0 440.8 167.1 441.1 167.2 441.5 167.3 442.0 167.4 442.5 167.4 443.0 167.4 443.5 167.4 444.0 167.4 444.5 167.4 445.0 167.5 445.2 167.6 445.5 167.8 445.9 168.0 446.1 168.2 446.3 168.5 446.5 168.8 446.8 169.1 447.0 169.5 447.1 169.8 447.2 170.1 447.4 170.5 447.5 170.8 447.7 171.2 447.8 171.5 448.0 172.0 448.1 172.2 448.2 172.7 448.3 173.0 448.5 173.5 448.6 173.8 448.7 174.2 448.8 174.5 448.9 175.0 449.0 175.5 449.1 175.8 449.2 176.2 449.2 176.7 449.3 177.0 449.4 177.5 449.5 178.0 449.5 178.2 449.6 178.8 449.6 179.2 449.7 179.8 449.8 180.1 449.8 180.5 449.8 181.0 449.9 181.5 450.0 182.0 450.0 182.3 450.1 182.8 450.1 183.2 450.2 183.8 450.3 184.0 450.3 184.5 450.3 185.0 450.3 185.5 450.3 186.0 450.2 186.2 450.1 186.8 450.0 187.1 449.9 187.5 449.8 187.8 449.5 188.2 449.4 188.5 449.2 188.8 449.0 189.0 448.8 189.4 448.5 189.7 448.3 190.0 448.2 190.2 448.1 190.8 448.2 191.2 448.3 191.5 448.5 191.8 448.7 192.2 448.8 192.5 448.9 193.0 449.0 193.5 449.0 194.0 448.9 194.5 448.9 195.0 448.8 195.5 448.7 195.8 448.6 196.2 448.5 196.8 448.5 197.0 448.3 197.5 448.2 197.8 448.1 198.2 448.0 198.7 447.9 199.0 447.8 199.5 447.7 199.8 447.5 200.2 447.4 200.5 447.2 200.9 447.1 201.2 447.0 201.5 446.8 202.0 446.7 202.2 446.5 202.6 446.3 203.0 446.2 203.2 446.0 203.6 445.8 204.0 445.6 204.2 445.5 204.5 445.2 204.9 445.0 205.2 444.8 205.5 444.6 205.8 444.4 206.0 444.1 206.2 443.9 206.5 443.7 206.8 443.5 207.0 443.2 207.2 443.0 207.5 442.8 207.8 442.5 208.0 442.2 208.3 442.0 208.5 441.7 208.8 441.4 209.0 441.0 209.2 440.8 209.4 440.5 209.6 440.1 209.8 439.8 209.9 439.4 210.0 439.0 210.1 438.5 210.2 438.2 210.3Z"/>
<path fill="#000" stroke="#636363" stroke-width="0.51" fill-opacity="0.04" d="M438.5 208.0 438.0 208.1 437.5 208.1 437.0 208.1 436.5 208.0 436.2 208.0 435.8 207.9 435.4 207.8 435.0 207.6 434.8 207.4 434.4 207.2 434.1 207.0 433.8 206.8 433.6 206.5 433.4 206.2 433.2 206.0 433.0 205.7 432.8 205.4 432.5 205.0 432.3 204.8 432.1 204.5 431.9 204.2 431.7 204.0 431.4 203.8 431.2 203.5 430.9 203.2 430.7 203.0 430.4 202.8 430.2 202.5 429.9 202.2 429.7 202.0 429.5 201.7 429.2 201.3 429.0 201.0 428.9 200.8 428.7 200.5 428.5 200.2 428.2 199.8 428.0 199.5 427.8 199.2 427.6 199.0 427.4 198.8 427.2 198.5 427.0 198.1 426.9 197.8 426.8 197.2 426.8 196.8 426.7 196.5 426.8 196.0 426.8 195.8 426.8 195.2 426.8 194.8 426.7 194.5 426.7 194.0 426.6 193.5 426.5 193.1 426.4 192.8 426.2 192.4 426.1 192.0 426.0 191.7 425.9 191.2 425.8 190.9 425.6 190.5 425.5 190.0 425.5 189.8 425.4 189.2 425.3 188.8 425.2 188.5 425.1 188.0 425.1 187.5 425.0 187.0 425.0 186.5 425.1 186.0 425.2 185.7 425.5 185.2 425.7 185.0 425.8 184.8 426.0 184.5 426.2 184.0 426.3 183.8 426.5 183.2 426.5 183.0 426.5 182.5 426.5 182.2 426.4 181.8 426.2 181.4 426.1 181.0 425.9 180.8 425.7 180.5 425.5 180.1 425.3 179.8 425.2 179.5 425.0 179.0 425.0 178.5 425.0 178.0 425.1 177.5 425.2 177.0 425.2 176.5 425.3 176.2 425.4 175.8 425.5 175.3 425.6 175.0 425.7 174.5 425.8 174.2 426.0 173.9 426.2 173.5 426.4 173.2 426.6 173.0 426.8 172.8 427.0 172.5 427.2 172.1 427.4 171.8 427.5 171.5 427.6 171.0 427.7 170.5 427.8 170.2 427.9 169.8 428.0 169.5 428.2 169.0 428.4 168.8 428.6 168.5 428.8 168.2 429.0 168.0 429.2 167.7 429.5 167.5 429.8 167.2 430.2 167.0 430.5 166.8 430.8 166.6 431.0 166.5 431.3 166.2 431.6 166.0 431.9 165.8 432.2 165.5 432.4 165.2 432.7 165.0 432.9 164.8 433.2 164.5 433.4 164.2 433.8 164.0 434.0 163.8 434.2 163.7 434.8 163.5 435.0 163.5 435.5 163.5 435.8 163.5 436.2 163.7 436.5 163.8 436.8 164.0 437.0 164.3 437.2 164.5 437.5 164.8 437.8 165.2 438.0 165.5 438.2 165.8 438.4 166.0 438.7 166.2 438.9 166.5 439.2 166.8 439.5 167.0 439.8 167.1 440.0 167.3 440.4 167.5 440.8 167.7 441.0 167.8 441.5 167.9 442.0 168.0 442.2 168.0 442.8 168.1 443.2 168.2 443.5 168.3 444.0 168.4 444.2 168.5 444.7 168.8 445.0 169.0 445.2 169.2 445.5 169.5 445.6 169.8 445.8 170.0 446.0 170.3 446.2 170.8 446.4 171.0 446.5 171.3 446.7 171.8 446.8 172.0 447.0 172.5 447.1 172.8 447.2 173.2 447.3 173.5 447.5 174.0 447.6 174.2 447.7 174.8 447.8 175.0 447.9 175.5 448.0 175.9 448.1 176.2 448.2 176.8 448.2 177.0 448.3 177.5 448.4 178.0 448.5 178.5 448.5 178.8 448.6 179.2 448.7 179.8 448.7 180.2 448.8 180.5 448.8 181.0 448.9 181.5 448.9 182.0 449.0 182.5 449.0 182.8 449.1 183.2 449.2 183.8 449.2 184.2 449.3 184.5 449.3 185.0 449.3 185.5 449.2 185.8 449.2 186.2 449.1 186.8 449.0 187.0 448.8 187.5 448.7 187.8 448.5 188.0 448.2 188.4 448.0 188.8 447.8 189.0 447.6 189.2 447.4 189.5 447.2 189.8 447.0 190.1 446.9 190.5 446.9 191.0 447.0 191.5 447.1 191.8 447.2 192.1 447.4 192.5 447.5 192.8 447.7 193.2 447.7 193.8 447.7 194.2 447.7 194.8 447.6 195.2 447.5 195.8 447.5 196.0 447.3 196.5 447.2 196.9 447.1 197.2 447.0 197.8 446.9 198.0 446.8 198.5 446.7 198.8 446.5 199.2 446.4 199.5 446.2 199.9 446.1 200.2 446.0 200.5 445.8 201.0 445.7 201.2 445.5 201.6 445.3 202.0 445.1 202.2 445.0 202.5 444.8 202.9 444.6 203.2 444.4 203.5 444.2 203.8 444.0 204.1 443.8 204.4 443.5 204.7 443.3 205.0 443.1 205.2 442.8 205.5 442.6 205.8 442.3 206.0 442.1 206.2 441.8 206.5 441.5 206.7 441.2 206.9 441.0 207.0 440.7 207.2 440.2 207.5 440.0 207.6 439.6 207.8 439.2 207.9 438.8 208.0 438.5 208.0Z"/>
<path fill="#000" stroke="#555555" stroke-width="0.57" fill-opacity="0.04" d="M438.2 206.0 437.8 206.1 437.2 206.1 436.8 206.1 436.4 206.0 436.0 205.9 435.5 205.8 435.2 205.6 435.0 205.5 434.5 205.2 434.2 205.1 434.0 204.9 433.8 204.7 433.5 204.4 433.2 204.2 433.0 204.0 432.8 203.7 432.5 203.5 432.2 203.2 432.0 203.0 431.8 202.7 431.5 202.4 431.2 202.1 431.0 201.8 430.8 201.5 430.7 201.2 430.5 201.0 430.2 200.6 430.0 200.2 429.9 200.0 429.7 199.8 429.5 199.4 429.2 199.1 429.0 198.8 428.8 198.5 428.5 198.3 428.2 198.0 428.0 197.8 427.8 197.5 427.7 197.2 427.5 196.8 427.4 196.5 427.4 196.0 427.4 195.5 427.4 195.0 427.3 194.5 427.3 194.0 427.3 193.5 427.2 193.2 427.2 192.8 427.1 192.2 427.0 192.0 426.9 191.5 426.8 191.0 426.7 190.8 426.6 190.2 426.5 190.0 426.4 189.5 426.3 189.0 426.2 188.8 426.1 188.2 426.0 187.8 426.0 187.5 425.9 187.0 425.9 186.5 426.0 186.0 426.0 185.8 426.2 185.2 426.3 185.0 426.5 184.5 426.6 184.2 426.7 183.8 426.8 183.5 426.8 183.0 426.8 182.5 426.8 182.0 426.7 181.8 426.6 181.2 426.5 180.9 426.3 180.5 426.2 180.2 426.0 179.8 425.9 179.5 425.8 179.0 425.8 178.5 425.9 178.0 425.9 177.5 426.0 177.0 426.0 176.8 426.1 176.2 426.2 175.8 426.3 175.5 426.4 175.0 426.5 174.6 426.6 174.2 426.8 174.0 427.0 173.6 427.2 173.2 427.4 173.0 427.6 172.8 427.8 172.5 428.0 172.1 428.2 171.8 428.3 171.5 428.5 171.0 428.6 170.8 428.8 170.3 428.9 170.0 429.0 169.8 429.2 169.4 429.5 169.1 429.8 168.8 430.0 168.5 430.2 168.3 430.5 168.1 430.8 167.9 431.0 167.7 431.3 167.5 431.6 167.2 431.9 167.0 432.2 166.8 432.5 166.6 432.8 166.3 433.0 166.2 433.2 166.0 433.6 165.8 434.0 165.5 434.2 165.4 434.7 165.2 435.0 165.2 435.5 165.2 435.9 165.2 436.2 165.4 436.6 165.5 437.0 165.8 437.2 166.0 437.5 166.1 437.8 166.4 438.0 166.6 438.2 166.8 438.5 167.0 438.8 167.2 439.2 167.5 439.5 167.7 439.8 167.9 440.0 168.0 440.5 168.2 440.8 168.3 441.2 168.5 441.5 168.6 441.9 168.8 442.2 168.9 442.6 169.0 443.0 169.2 443.2 169.3 443.6 169.5 443.9 169.8 444.2 170.0 444.4 170.2 444.6 170.5 444.8 170.8 445.0 171.0 445.2 171.5 445.4 171.8 445.5 172.0 445.8 172.5 445.9 172.8 446.0 173.1 446.2 173.5 446.3 173.8 446.4 174.2 446.5 174.5 446.7 175.0 446.8 175.3 446.9 175.8 447.0 176.2 447.1 176.5 447.2 177.0 447.2 177.4 447.3 177.8 447.4 178.2 447.5 178.8 447.5 179.0 447.6 179.5 447.6 180.0 447.7 180.5 447.7 181.0 447.8 181.2 447.8 181.8 447.9 182.2 447.9 182.8 448.0 183.2 448.0 183.5 448.1 184.0 448.1 184.5 448.2 185.0 448.2 185.5 448.2 186.0 448.1 186.5 448.0 187.0 447.9 187.2 447.8 187.7 447.6 188.0 447.4 188.2 447.2 188.5 447.0 188.8 446.8 189.1 446.5 189.5 446.3 189.8 446.1 190.0 446.0 190.4 445.9 190.8 446.0 191.2 446.0 191.5 446.1 192.0 446.2 192.3 446.4 192.8 446.5 193.2 446.5 193.5 446.6 194.0 446.5 194.5 446.5 194.8 446.4 195.2 446.3 195.8 446.2 196.1 446.1 196.5 446.0 197.0 445.9 197.2 445.8 197.8 445.7 198.0 445.5 198.4 445.4 198.8 445.2 199.1 445.1 199.5 444.9 199.8 444.8 200.1 444.5 200.5 444.4 200.8 444.2 201.0 444.0 201.4 443.8 201.8 443.6 202.0 443.4 202.2 443.2 202.5 443.0 202.8 442.8 203.1 442.5 203.4 442.2 203.7 442.0 203.9 441.8 204.2 441.5 204.4 441.2 204.6 441.0 204.8 440.8 205.0 440.4 205.2 440.0 205.5 439.8 205.6 439.4 205.8 439.0 205.9 438.5 206.0 438.2 206.0Z"/>
<path fill="#000" stroke="#474747" stroke-width="0.63" fill-opacity="0.04" d="M437.2 204.0 436.9 204.0 436.5 204.0 436.0 203.9 435.6 203.8 435.2 203.6 435.0 203.5 434.5 203.2 434.2 203.1 434.0 202.9 433.8 202.7 433.5 202.5 433.2 202.2 432.9 202.0 432.7 201.8 432.4 201.5 432.2 201.2 432.0 201.0 431.8 200.7 431.5 200.3 431.3 200.0 431.1 199.8 431.0 199.5 430.8 199.1 430.5 198.8 430.4 198.5 430.2 198.2 430.0 197.9 429.8 197.5 429.6 197.2 429.4 197.0 429.2 196.8 429.0 196.5 428.8 196.0 428.6 195.8 428.5 195.2 428.5 195.0 428.4 194.5 428.4 194.0 428.3 193.5 428.2 193.2 428.2 192.8 428.1 192.2 428.0 191.9 427.9 191.5 427.8 191.0 427.7 190.8 427.6 190.2 427.5 189.8 427.4 189.5 427.3 189.0 427.2 188.7 427.1 188.2 427.0 187.8 426.9 187.5 426.8 187.0 426.8 186.5 426.8 186.0 426.8 185.5 426.9 185.0 427.0 184.7 427.1 184.2 427.2 183.8 427.2 183.2 427.2 182.8 427.2 182.2 427.1 181.8 427.1 181.2 427.0 180.9 426.9 180.5 426.8 180.0 426.7 179.8 426.7 179.2 426.7 178.8 426.7 178.2 426.7 177.8 426.8 177.5 426.9 177.0 427.0 176.5 427.0 176.2 427.1 175.8 427.2 175.2 427.2 174.9 427.4 174.5 427.5 174.2 427.7 173.8 427.9 173.5 428.0 173.2 428.2 172.9 428.5 172.6 428.7 172.2 428.9 172.0 429.0 171.8 429.2 171.4 429.5 171.0 429.6 170.8 429.8 170.5 430.0 170.2 430.2 169.9 430.5 169.6 430.8 169.4 431.0 169.1 431.2 168.9 431.5 168.7 431.8 168.5 432.1 168.2 432.4 168.0 432.8 167.8 433.0 167.6 433.2 167.4 433.6 167.2 434.0 167.0 434.2 166.9 434.8 166.8 435.1 166.8 435.5 166.7 435.8 166.8 436.2 166.8 436.7 167.0 437.0 167.1 437.2 167.3 437.7 167.5 438.0 167.7 438.2 167.9 438.5 168.0 438.8 168.2 439.2 168.5 439.5 168.6 439.8 168.8 440.2 169.0 440.5 169.1 440.8 169.3 441.2 169.5 441.5 169.6 441.8 169.8 442.2 170.0 442.5 170.2 442.8 170.4 443.0 170.6 443.2 170.8 443.5 171.1 443.8 171.4 444.0 171.7 444.2 172.0 444.3 172.2 444.5 172.6 444.7 173.0 444.8 173.2 445.0 173.6 445.2 174.0 445.3 174.2 445.4 174.8 445.5 175.0 445.7 175.5 445.8 175.8 445.9 176.2 446.0 176.6 446.1 177.0 446.2 177.5 446.2 177.8 446.3 178.2 446.4 178.8 446.5 179.2 446.5 179.5 446.6 180.0 446.6 180.5 446.7 181.0 446.7 181.5 446.8 181.9 446.8 182.2 446.8 182.8 446.9 183.2 446.9 183.8 447.0 184.2 447.0 184.5 447.1 185.0 447.2 185.5 447.2 186.0 447.2 186.5 447.1 187.0 447.0 187.3 446.8 187.8 446.7 188.0 446.5 188.3 446.2 188.6 446.0 188.9 445.8 189.2 445.6 189.5 445.4 189.8 445.2 190.2 445.2 190.5 445.1 191.0 445.1 191.5 445.2 192.0 445.3 192.2 445.4 192.8 445.4 193.2 445.4 193.8 445.4 194.2 445.4 194.8 445.3 195.2 445.2 195.5 445.1 196.0 445.0 196.3 444.9 196.8 444.8 197.1 444.6 197.5 444.5 197.8 444.3 198.2 444.2 198.5 444.0 198.9 443.8 199.2 443.6 199.5 443.5 199.8 443.2 200.0 443.0 200.4 442.8 200.6 442.5 200.9 442.2 201.2 442.0 201.4 441.8 201.6 441.5 201.9 441.2 202.1 441.0 202.3 440.7 202.5 440.4 202.8 440.0 203.0 439.8 203.2 439.5 203.3 439.2 203.5 438.8 203.7 438.5 203.8 438.0 203.9 437.5 204.0 437.2 204.0Z"/>
<path fill="#000" stroke="#383838" stroke-width="0.69" fill-opacity="0.04" d="M436.5 201.8 436.1 201.8 435.8 201.7 435.2 201.6 434.9 201.5 434.5 201.3 434.2 201.2 433.9 201.0 433.5 200.8 433.2 200.5 433.0 200.3 432.8 200.1 432.5 199.8 432.3 199.5 432.1 199.2 431.9 199.0 431.8 198.7 431.5 198.2 431.4 198.0 431.2 197.5 431.2 197.2 431.0 196.8 431.0 196.5 430.9 196.0 430.8 195.5 430.7 195.2 430.5 194.8 430.3 194.5 430.2 194.2 430.0 193.9 429.8 193.5 429.6 193.2 429.5 192.9 429.3 192.5 429.2 192.2 429.1 191.8 429.0 191.3 428.9 191.0 428.8 190.5 428.8 190.2 428.7 189.8 428.5 189.2 428.5 189.0 428.3 188.5 428.2 188.2 428.0 187.8 427.9 187.5 427.8 187.0 427.7 186.8 427.7 186.2 427.6 185.8 427.6 185.2 427.6 184.8 427.6 184.2 427.6 183.8 427.6 183.2 427.6 182.8 427.6 182.2 427.6 181.8 427.6 181.2 427.6 180.8 427.5 180.2 427.5 179.8 427.5 179.5 427.5 179.2 427.5 178.8 427.6 178.2 427.7 177.8 427.8 177.3 427.8 177.0 427.9 176.5 428.0 176.0 428.0 175.8 428.1 175.2 428.2 174.8 428.2 174.5 428.5 174.0 428.6 173.8 428.8 173.5 429.0 173.2 429.2 172.8 429.5 172.5 429.7 172.2 430.0 172.0 430.2 171.8 430.4 171.5 430.6 171.2 430.8 171.0 431.0 170.8 431.3 170.5 431.5 170.2 431.8 170.0 432.1 169.8 432.4 169.5 432.8 169.3 433.0 169.1 433.2 169.0 433.7 168.8 434.0 168.6 434.3 168.5 434.8 168.4 435.2 168.3 435.8 168.3 436.2 168.4 436.7 168.5 437.0 168.6 437.3 168.8 437.8 169.0 438.0 169.1 438.3 169.2 438.8 169.4 439.0 169.6 439.4 169.8 439.8 169.9 440.0 170.0 440.5 170.2 440.8 170.4 441.0 170.6 441.3 170.8 441.6 171.0 441.9 171.2 442.2 171.5 442.4 171.8 442.6 172.0 442.8 172.2 443.0 172.5 443.2 172.8 443.5 173.2 443.6 173.5 443.8 173.8 444.0 174.2 444.1 174.5 444.2 174.8 444.4 175.2 444.5 175.5 444.7 176.0 444.8 176.2 444.9 176.8 445.0 177.1 445.1 177.5 445.2 178.0 445.3 178.2 445.3 178.8 445.4 179.2 445.5 179.8 445.5 180.0 445.6 180.5 445.6 181.0 445.6 181.5 445.7 182.0 445.7 182.5 445.7 183.0 445.8 183.4 445.8 183.8 445.9 184.2 446.0 184.8 446.0 185.0 446.1 185.5 446.2 186.0 446.2 186.5 446.1 187.0 446.0 187.4 445.8 187.8 445.7 188.0 445.5 188.3 445.2 188.6 445.0 188.9 444.8 189.2 444.7 189.5 444.5 189.9 444.4 190.2 444.3 190.8 444.3 191.2 444.3 191.8 444.3 192.2 444.4 192.8 444.4 193.2 444.4 193.8 444.3 194.2 444.2 194.7 444.2 195.0 444.1 195.5 444.0 195.8 443.8 196.2 443.8 196.5 443.6 197.0 443.5 197.2 443.2 197.7 443.1 198.0 443.0 198.2 442.8 198.6 442.5 198.9 442.2 199.2 442.0 199.4 441.8 199.7 441.5 199.9 441.2 200.0 440.9 200.2 440.5 200.5 440.2 200.6 439.9 200.8 439.5 200.9 439.2 201.0 438.8 201.2 438.5 201.3 438.0 201.5 437.8 201.6 437.2 201.7 436.8 201.7 436.5 201.8Z"/>
<path fill="#000" stroke="#2a2a2a" stroke-width="0.74" fill-opacity="0.04" d="M437.0 200.3 436.5 200.3 436.0 200.3 435.5 200.3 435.2 200.2 434.8 200.1 434.5 200.0 434.1 199.8 433.8 199.5 433.5 199.3 433.2 199.1 433.0 198.8 432.8 198.5 432.7 198.2 432.5 197.8 432.4 197.5 432.2 197.0 432.2 196.8 432.1 196.2 432.0 195.8 432.0 195.5 431.9 195.0 431.8 194.7 431.6 194.2 431.5 194.0 431.2 193.6 431.1 193.2 430.9 193.0 430.8 192.7 430.5 192.2 430.4 192.0 430.3 191.5 430.2 191.2 430.1 190.8 430.0 190.2 430.0 190.0 429.9 189.5 429.8 189.0 429.7 188.8 429.5 188.4 429.3 188.0 429.2 187.8 429.0 187.3 428.9 187.0 428.8 186.7 428.6 186.2 428.5 185.8 428.5 185.5 428.4 185.0 428.3 184.5 428.3 184.0 428.2 183.8 428.2 183.2 428.2 182.8 428.2 182.2 428.2 181.8 428.2 181.2 428.2 180.9 428.3 180.5 428.3 180.0 428.4 179.5 428.4 179.0 428.5 178.7 428.6 178.2 428.7 177.8 428.8 177.4 428.8 177.0 428.9 176.5 429.0 176.0 429.0 175.8 429.0 175.2 429.1 174.8 429.2 174.4 429.4 174.0 429.6 173.8 429.8 173.5 430.0 173.2 430.3 173.0 430.5 172.8 430.8 172.5 431.1 172.2 431.4 172.0 431.7 171.8 432.0 171.5 432.2 171.3 432.5 171.1 432.8 170.9 433.0 170.8 433.4 170.5 433.8 170.3 434.0 170.2 434.5 170.1 435.0 170.0 435.2 170.0 435.8 170.0 436.0 170.0 436.5 170.1 437.0 170.2 437.2 170.3 437.8 170.4 438.0 170.5 438.5 170.7 438.8 170.8 439.2 170.9 439.5 171.0 439.9 171.2 440.2 171.4 440.5 171.6 440.8 171.8 441.0 172.1 441.2 172.3 441.5 172.6 441.8 172.9 442.0 173.2 442.2 173.5 442.4 173.8 442.5 174.0 442.8 174.4 442.9 174.8 443.0 175.0 443.2 175.5 443.4 175.8 443.5 176.1 443.6 176.5 443.8 176.8 443.9 177.2 444.0 177.7 444.1 178.0 444.2 178.5 444.2 178.9 444.3 179.2 444.4 179.8 444.4 180.2 444.5 180.8 444.5 181.2 444.5 181.5 444.5 182.0 444.5 182.5 444.5 183.0 444.5 183.5 444.6 184.0 444.6 184.5 444.7 185.0 444.8 185.3 444.8 185.8 444.9 186.2 444.9 186.8 444.8 187.2 444.7 187.5 444.5 187.8 444.3 188.2 444.2 188.5 444.0 188.8 443.8 189.2 443.7 189.5 443.6 190.0 443.5 190.4 443.5 190.8 443.4 191.2 443.4 191.8 443.4 192.2 443.4 192.8 443.3 193.2 443.3 193.8 443.2 194.0 443.1 194.5 443.0 195.0 443.0 195.2 442.8 195.8 442.7 196.0 442.5 196.5 442.4 196.8 442.2 197.1 442.0 197.5 441.8 197.8 441.6 198.0 441.4 198.2 441.2 198.5 440.9 198.8 440.5 199.0 440.2 199.2 440.0 199.3 439.6 199.5 439.2 199.6 438.9 199.8 438.5 199.9 438.2 200.0 437.8 200.1 437.2 200.2 437.0 200.3Z"/>
<path fill="#000" stroke="#1c1c1c" stroke-width="0.80" fill-opacity="0.04" d="M436.2 199.3 436.0 199.2 435.5 199.2 435.0 199.0 434.8 198.9 434.5 198.8 434.2 198.5 434.0 198.2 433.8 197.9 433.5 197.5 433.5 197.2 433.3 196.8 433.2 196.3 433.2 196.0 433.1 195.5 433.0 195.1 432.9 194.8 432.8 194.4 432.6 194.0 432.5 193.7 432.3 193.2 432.2 193.0 432.0 192.6 431.9 192.2 431.8 191.9 431.6 191.5 431.5 191.0 431.5 190.8 431.4 190.2 431.4 189.8 431.3 189.2 431.2 189.0 431.0 188.5 430.8 188.2 430.7 188.0 430.5 187.8 430.2 187.4 430.0 187.0 429.9 186.8 429.8 186.3 429.7 186.0 429.5 185.5 429.4 185.2 429.3 184.8 429.2 184.5 429.1 184.0 429.0 183.7 428.9 183.2 428.9 182.8 428.9 182.2 428.9 181.8 429.0 181.3 429.1 181.0 429.2 180.5 429.3 180.2 429.4 179.8 429.5 179.2 429.5 179.0 429.6 178.5 429.8 178.1 429.8 177.8 430.0 177.2 430.0 177.0 430.1 176.5 430.2 176.0 430.2 175.5 430.2 175.1 430.3 174.8 430.5 174.4 430.7 174.0 431.0 173.8 431.2 173.5 431.5 173.3 431.8 173.1 432.0 173.0 432.3 172.8 432.8 172.5 433.0 172.4 433.2 172.2 433.8 172.0 434.0 171.9 434.5 171.8 434.8 171.7 435.2 171.6 435.8 171.6 436.2 171.6 436.8 171.7 437.1 171.8 437.5 171.8 438.0 171.9 438.2 172.0 438.8 172.2 439.0 172.3 439.4 172.5 439.7 172.8 440.0 173.0 440.2 173.2 440.5 173.5 440.7 173.8 440.9 174.0 441.1 174.2 441.3 174.5 441.5 174.8 441.7 175.2 441.9 175.5 442.0 175.8 442.2 176.2 442.4 176.5 442.5 176.9 442.6 177.2 442.8 177.6 442.9 178.0 443.0 178.5 443.1 178.8 443.2 179.2 443.2 179.8 443.3 180.0 443.3 180.5 443.3 181.0 443.3 181.5 443.3 182.0 443.3 182.5 443.3 183.0 443.2 183.2 443.2 183.8 443.2 184.2 443.2 184.8 443.2 185.2 443.2 185.7 443.3 186.0 443.3 186.5 443.3 187.0 443.2 187.2 443.2 187.8 443.1 188.2 443.0 188.5 442.9 189.0 442.8 189.5 442.7 189.8 442.6 190.2 442.5 190.7 442.4 191.0 442.4 191.5 442.3 192.0 442.3 192.5 442.2 192.8 442.2 193.2 442.1 193.8 442.0 194.1 441.9 194.5 441.8 195.0 441.7 195.2 441.5 195.7 441.4 196.0 441.2 196.2 441.0 196.7 440.8 197.0 440.6 197.2 440.4 197.5 440.1 197.8 439.8 198.0 439.5 198.2 439.2 198.4 439.0 198.5 438.5 198.7 438.2 198.8 437.8 199.0 437.5 199.1 437.0 199.2 436.5 199.2 436.2 199.3Z"/>
<path fill="#fff" stroke="#0e0e0e" stroke-width="0.95" fill-opacity="0.15" d="M437.2 197.8 436.8 197.9 436.2 197.9 435.8 197.8 435.5 197.7 435.2 197.4 435.0 197.0 434.9 196.8 434.8 196.2 434.7 196.0 434.6 195.5 434.5 195.2 434.3 194.8 434.2 194.5 434.0 194.0 433.9 193.8 433.8 193.3 433.6 193.0 433.5 192.6 433.4 192.2 433.2 191.8 433.2 191.5 433.1 191.0 433.1 190.5 433.1 190.0 433.1 189.5 433.0 189.0 432.9 188.8 432.8 188.4 432.5 188.1 432.2 187.9 432.0 187.6 431.8 187.3 431.5 187.0 431.3 186.8 431.2 186.5 431.0 186.1 430.8 185.8 430.7 185.5 430.6 185.0 430.5 184.8 430.3 184.2 430.2 184.0 430.0 183.6 429.9 183.2 429.8 182.8 429.8 182.2 429.9 181.8 430.0 181.5 430.2 181.0 430.3 180.8 430.4 180.2 430.5 180.0 430.7 179.5 430.8 179.2 430.9 178.8 431.0 178.4 431.1 178.0 431.2 177.7 431.4 177.2 431.5 176.9 431.6 176.5 431.7 176.0 431.8 175.8 431.9 175.2 432.0 174.9 432.2 174.5 432.5 174.3 432.8 174.1 433.0 174.0 433.4 173.8 433.8 173.6 434.1 173.5 434.5 173.4 435.0 173.3 435.5 173.3 436.0 173.3 436.5 173.3 437.0 173.4 437.4 173.5 437.8 173.6 438.1 173.8 438.5 174.0 438.8 174.1 439.0 174.3 439.2 174.5 439.5 174.8 439.8 175.0 440.0 175.3 440.2 175.6 440.5 176.0 440.7 176.2 440.8 176.5 441.0 176.8 441.2 177.2 441.3 177.5 441.5 177.8 441.7 178.2 441.8 178.5 441.9 179.0 442.0 179.4 442.1 179.8 442.2 180.2 442.2 180.8 442.2 181.2 442.2 181.8 442.1 182.2 442.1 182.8 442.0 183.2 442.0 183.5 441.9 184.0 441.8 184.5 441.8 185.0 441.8 185.5 441.8 186.0 441.8 186.5 441.9 187.0 441.9 187.5 441.8 188.0 441.8 188.5 441.7 188.8 441.6 189.2 441.5 189.8 441.5 190.0 441.3 190.5 441.2 190.9 441.2 191.2 441.1 191.8 441.0 192.0 440.9 192.5 440.8 193.0 440.7 193.2 440.6 193.8 440.5 194.1 440.4 194.5 440.2 194.8 440.0 195.2 439.9 195.5 439.7 195.8 439.5 196.1 439.2 196.4 439.0 196.6 438.8 196.9 438.5 197.1 438.2 197.3 437.9 197.5 437.5 197.7 437.2 197.8Z"/>
<path fill="#fff" stroke="#000000" stroke-width="1.00" fill-opacity="0.20" d="M437.5 193.8 437.0 193.8 436.8 193.6 436.5 193.5 436.2 193.2 436.0 192.9 435.8 192.5 435.7 192.2 435.5 191.9 435.4 191.5 435.3 191.0 435.2 190.8 435.2 190.2 435.2 189.8 435.1 189.2 435.0 188.8 434.9 188.5 434.8 188.2 434.5 187.8 434.2 187.5 434.0 187.2 433.8 187.0 433.5 186.8 433.2 186.5 433.0 186.2 432.8 186.0 432.6 185.8 432.5 185.5 432.2 185.1 432.1 184.8 432.0 184.5 431.8 184.1 431.6 183.8 431.5 183.5 431.3 183.0 431.2 182.8 431.2 182.3 431.3 182.0 431.5 181.5 431.6 181.2 431.8 180.8 431.9 180.5 432.0 180.1 432.1 179.8 432.2 179.5 432.4 179.0 432.5 178.8 432.8 178.3 432.9 178.0 433.0 177.7 433.2 177.3 433.4 177.0 433.6 176.8 433.8 176.5 434.0 176.2 434.2 176.0 434.6 175.8 435.0 175.5 435.2 175.5 435.8 175.4 436.2 175.4 436.6 175.5 437.0 175.6 437.3 175.8 437.8 176.0 438.0 176.1 438.2 176.3 438.5 176.5 438.8 176.8 439.0 177.0 439.2 177.3 439.5 177.6 439.7 178.0 439.9 178.2 440.1 178.5 440.2 178.8 440.4 179.2 440.5 179.5 440.7 180.0 440.8 180.2 440.8 180.8 440.8 181.2 440.8 181.8 440.8 182.2 440.7 182.5 440.6 183.0 440.5 183.5 440.4 183.8 440.3 184.2 440.3 184.8 440.2 185.2 440.2 185.5 440.2 186.0 440.2 186.5 440.3 186.8 440.3 187.2 440.2 187.5 440.2 188.0 440.1 188.5 440.0 189.0 439.9 189.2 439.8 189.8 439.7 190.0 439.5 190.4 439.4 190.8 439.2 191.1 439.1 191.5 439.0 191.8 438.8 192.2 438.7 192.5 438.5 192.9 438.3 193.2 438.0 193.5 437.8 193.7 437.5 193.8Z"/></g>
<!-- boxes D -->
<path d="M247 144.9H454.1" stroke="#888" stroke-width="0.8"/>
<g fill="none" stroke="#222" stroke-width="0.85">
<path d="M247.5 144.9V213.1H454.1V144.9M316.3 144.9V213.1M385.6 144.9V213.1"/>
<path d="M272.6 213V158.2H316.3"/>
<path d="M341.4 213V158.2H385.6"/>
<path d="M410.5 213V158.2H454.1"/>
</g>
<path d="M247 214.2H454" stroke="#333" stroke-width="1.3" stroke-dasharray="0.7 8"/>
<path d="M246 162H247M246 179H247M246 196H247" stroke="#333" stroke-width="1"/>
<g class="t" text-anchor="end">
<text x="313.2" y="153.6">97%</text>
<text x="381.8" y="153.6">98%</text>
<text x="451.8" y="153.6">97%</text>
</g>
</svg>
</body></html>
